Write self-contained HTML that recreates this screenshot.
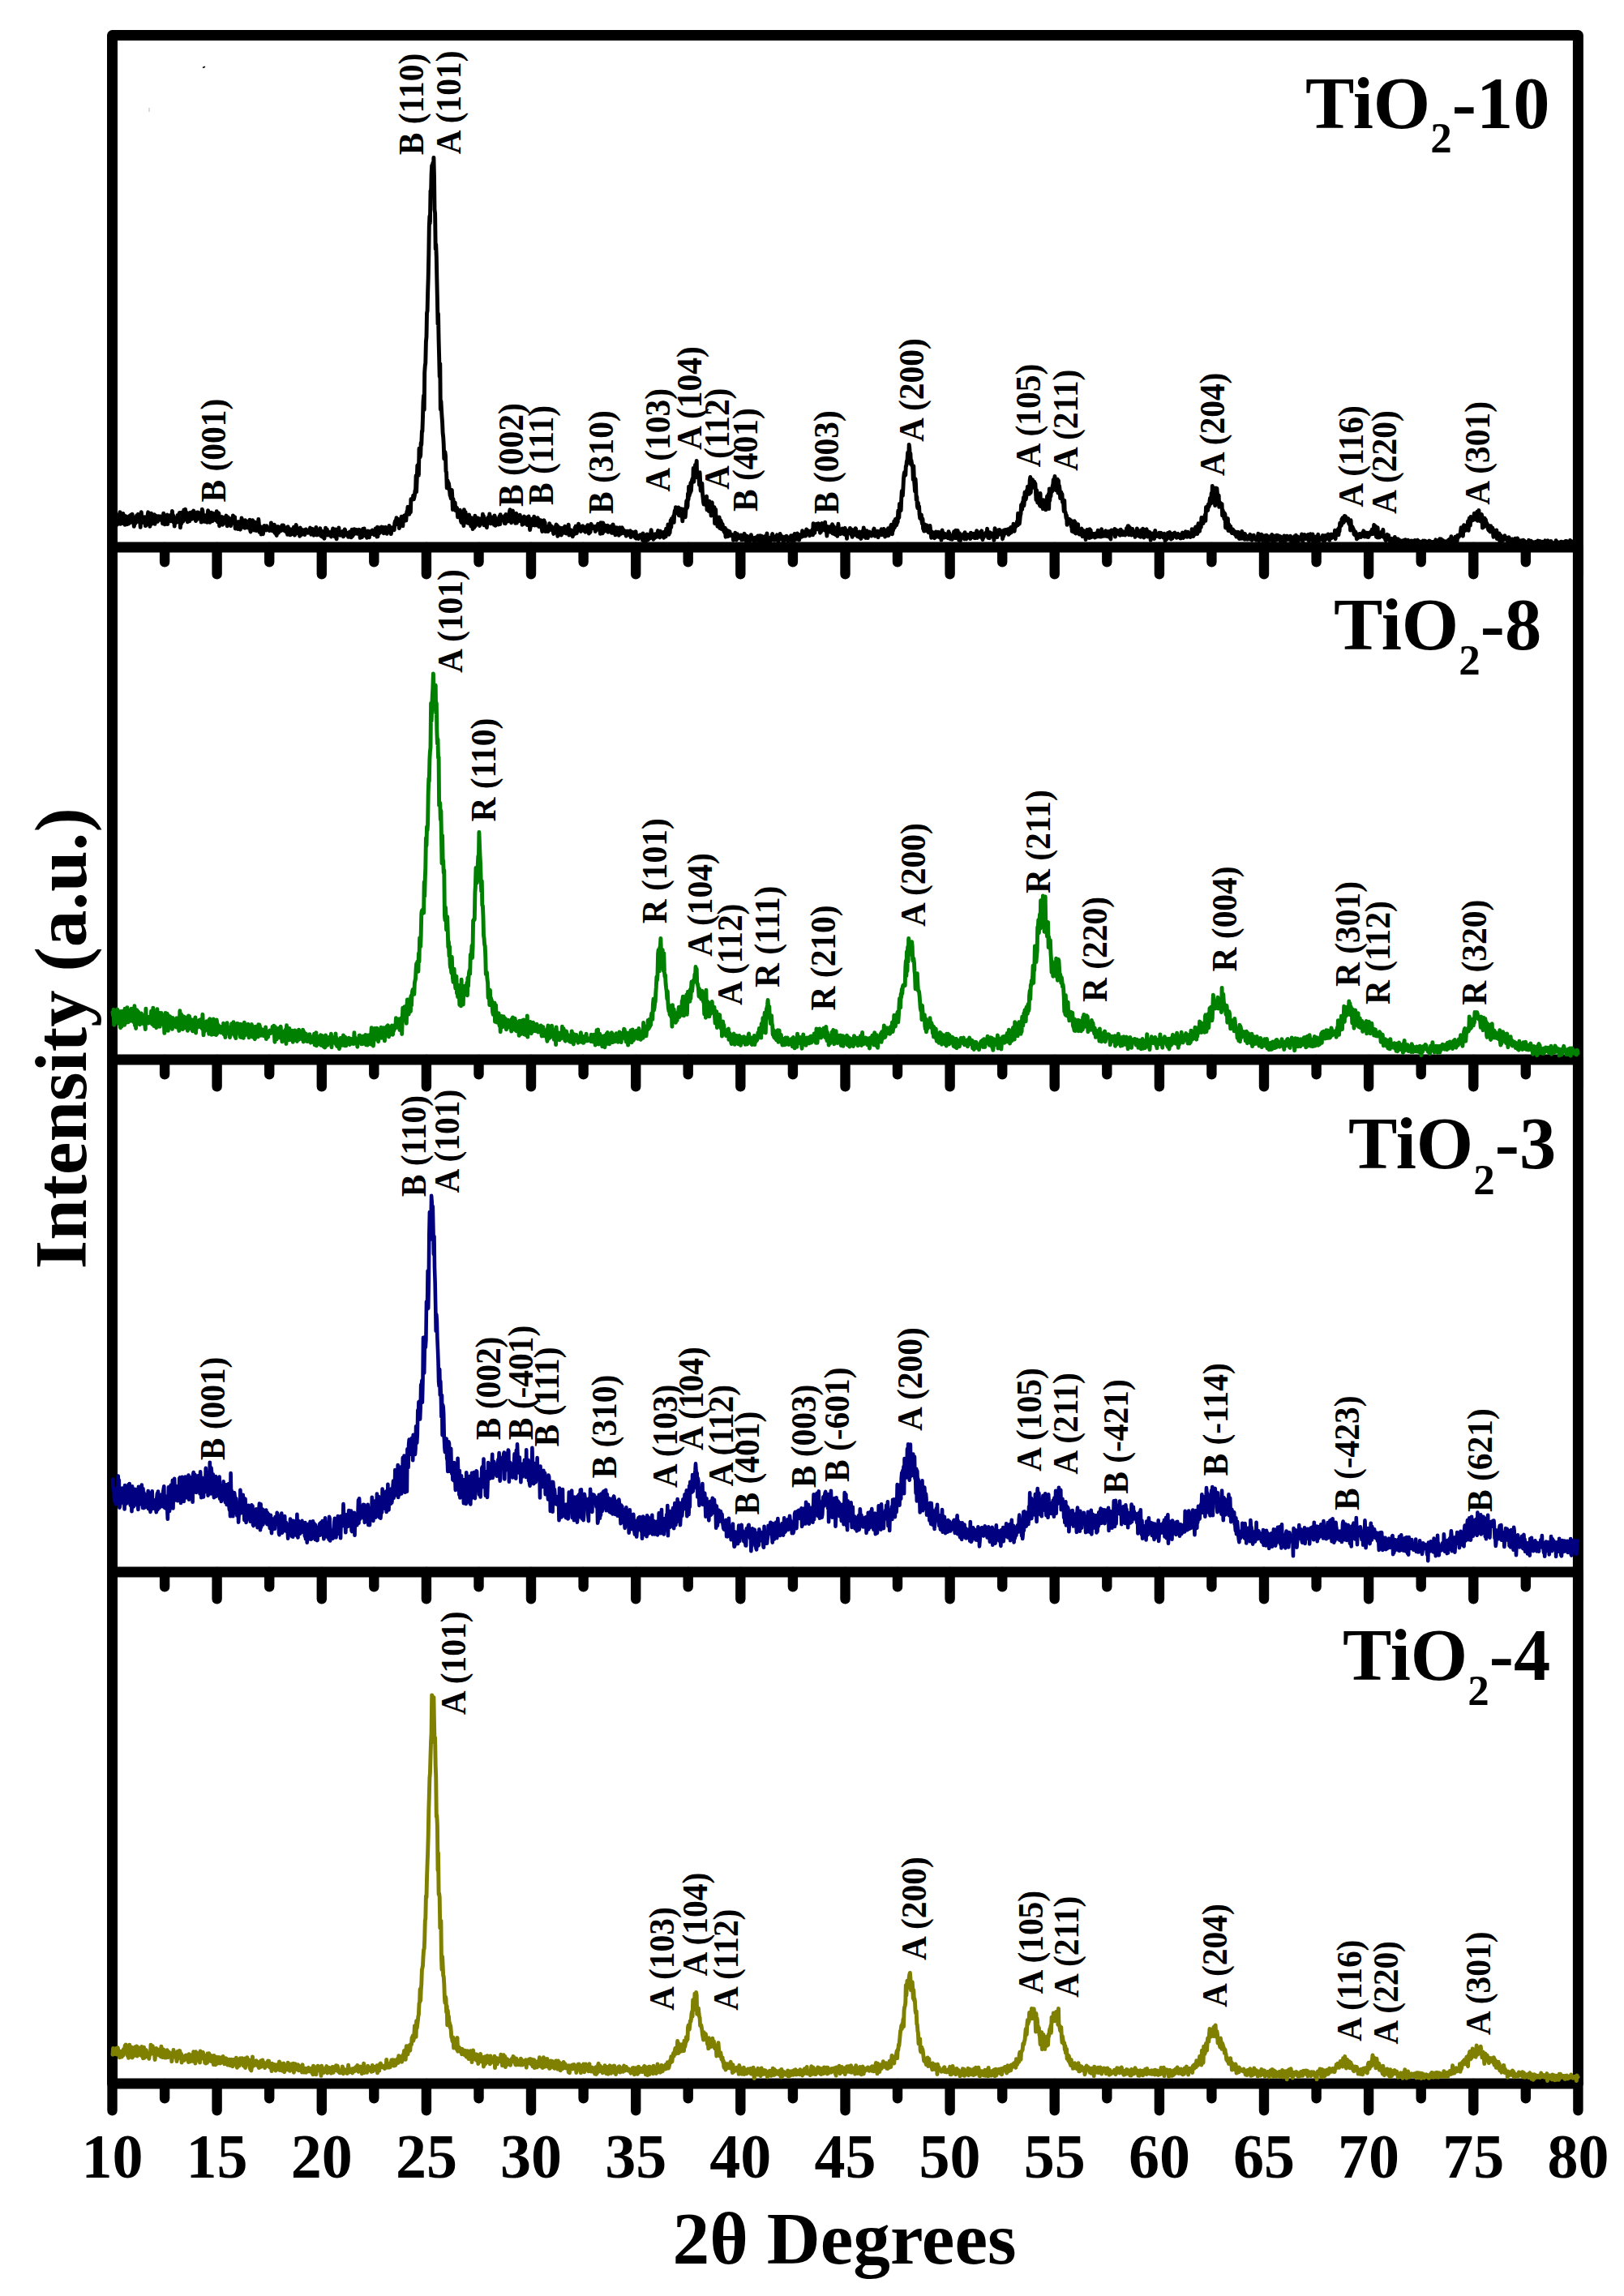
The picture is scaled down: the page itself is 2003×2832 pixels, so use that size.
<!DOCTYPE html>
<html lang="en">
<head>
<meta charset="utf-8">
<title>XRD patterns of TiO2 samples</title>
<style>
html,body{margin:0;padding:0;background:#fff;}
body{width:2003px;height:2832px;overflow:hidden;}
svg{display:block;}
text{font-family:"Liberation Serif", serif;font-weight:bold;fill:#000;}
.pk{font-size:44.5px;}
.tk{font-size:79.3px;text-anchor:middle;}
.ttl{font-size:90.5px;}
.sub{font-size:53px;}
.cv{fill:none;stroke-linejoin:round;stroke-linecap:round;}
</style>
</head>
<body>
<svg width="2003" height="2832" viewBox="0 0 2003 2832">
<rect x="0" y="0" width="2003" height="2832" fill="#fff"/>
<g stroke="#000" stroke-width="12.4" stroke-linecap="round" fill="none">
<path d="M138.5 675V708.3M203.1 675V693.3M267.6 675V708.3M332.2 675V693.3M396.8 675V708.3M461.3 675V693.3M525.9 675V708.3M590.5 675V693.3M655 675V708.3M719.6 675V693.3M784.2 675V708.3M848.7 675V693.3M913.3 675V708.3M977.9 675V693.3M1042.5 675V708.3M1107 675V693.3M1171.6 675V708.3M1236.2 675V693.3M1300.7 675V708.3M1365.3 675V693.3M1429.9 675V708.3M1494.4 675V693.3M1559 675V708.3M1623.6 675V693.3M1688.1 675V708.3M1752.7 675V693.3M1817.3 675V708.3M1881.8 675V693.3M1946.4 675V708.3"/>
<path d="M138.5 1307V1340.3M203.1 1307V1325.3M267.6 1307V1340.3M332.2 1307V1325.3M396.8 1307V1340.3M461.3 1307V1325.3M525.9 1307V1340.3M590.5 1307V1325.3M655 1307V1340.3M719.6 1307V1325.3M784.2 1307V1340.3M848.7 1307V1325.3M913.3 1307V1340.3M977.9 1307V1325.3M1042.5 1307V1340.3M1107 1307V1325.3M1171.6 1307V1340.3M1236.2 1307V1325.3M1300.7 1307V1340.3M1365.3 1307V1325.3M1429.9 1307V1340.3M1494.4 1307V1325.3M1559 1307V1340.3M1623.6 1307V1325.3M1688.1 1307V1340.3M1752.7 1307V1325.3M1817.3 1307V1340.3M1881.8 1307V1325.3M1946.4 1307V1340.3"/>
<path d="M138.5 1939V1972.3M203.1 1939V1957.3M267.6 1939V1972.3M332.2 1939V1957.3M396.8 1939V1972.3M461.3 1939V1957.3M525.9 1939V1972.3M590.5 1939V1957.3M655 1939V1972.3M719.6 1939V1957.3M784.2 1939V1972.3M848.7 1939V1957.3M913.3 1939V1972.3M977.9 1939V1957.3M1042.5 1939V1972.3M1107 1939V1957.3M1171.6 1939V1972.3M1236.2 1939V1957.3M1300.7 1939V1972.3M1365.3 1939V1957.3M1429.9 1939V1972.3M1494.4 1939V1957.3M1559 1939V1972.3M1623.6 1939V1957.3M1688.1 1939V1972.3M1752.7 1939V1957.3M1817.3 1939V1972.3M1881.8 1939V1957.3M1946.4 1939V1972.3"/>
<path d="M138.5 2570V2603.3M203.1 2570V2588.3M267.6 2570V2603.3M332.2 2570V2588.3M396.8 2570V2603.3M461.3 2570V2588.3M525.9 2570V2603.3M590.5 2570V2588.3M655 2570V2603.3M719.6 2570V2588.3M784.2 2570V2603.3M848.7 2570V2588.3M913.3 2570V2603.3M977.9 2570V2588.3M1042.5 2570V2603.3M1107 2570V2588.3M1171.6 2570V2603.3M1236.2 2570V2588.3M1300.7 2570V2603.3M1365.3 2570V2588.3M1429.9 2570V2603.3M1494.4 2570V2588.3M1559 2570V2603.3M1623.6 2570V2588.3M1688.1 2570V2603.3M1752.7 2570V2588.3M1817.3 2570V2603.3M1881.8 2570V2588.3M1946.4 2570V2603.3"/>
</g>
<g stroke="#000" stroke-width="13.0" fill="none" stroke-linejoin="round">
<rect x="138.5" y="43.5" width="1807.9" height="2526.5"/>
<line x1="138.5" y1="675.0" x2="1946.4" y2="675.0"/>
<line x1="138.5" y1="1307.0" x2="1946.4" y2="1307.0"/>
<line x1="138.5" y1="1939.0" x2="1946.4" y2="1939.0"/>
</g>
<path class="cv" stroke="#000000" stroke-width="4.9" d="M139 642.6l.6 .1l.5-1.7l.6-.2l.5-1.4l.6 3.6l.6-7.8l.5 11.1l.6-1.7l.5 2.8l.6-2.8l.6-1.3l.5 2.9l.6-.2l.5-11.4l.6 6.8l.6-9.8l.5 14.8l.6-7.4l.5-2.5l.6 7.1l.6 1.8l.5-4.6l.6-7.4l.5 7l.6-3.9l.6 6.4l.5 4.4l.6-10.5l.5 1.3l.6-1l.6 9.7l.5-3.6l.6-1l.5-4.8l.6 8.6l.6-2.1l.5-7.4l.6 5.3l.5 2.9l.6-9.6l.6 7.1l.5-.5l.6-7.6l.5 4.7l.6 .3l.6 4.4l.5 5.7l.6-2.9l.5-6.4l.6 5.7l.6-7.1l.5-1.6l.6-1.1l.5 7.4l.6-5.6l.6-3.3l.5 9.2l.6-1.3l.5 0l.6-1.1l.6 9.2l.5-13.1l.6-5.6l.5 8.2l.6 2.6l.6-4.1l.5 1.9l.6 .2l.5 4.3l.6-7l.6 5.1l.5 5.7l.6 0l.5-3.4l.6-4.3l.6-3l.5-1.9l.6-4.1l.5 11.2l.6-6.7l.6 8.5l.5 4.4l.6-7l.5 4.7l.6-13.8l.6 12.9l.5-2.6l.6-.2l.5-2.3l.6 .6l.6 .4l.5-7.3l.6 11.8l.5-5.9l.6 2.5l.6-6.6l.5 2.3l.6-.6l.5 5.2l.6-2.4l.6-4.2l.5 4.7l.6-3.4l.5 2.7l.6-3.7l.6-.1l.5 1.8l.6 3.4l.5-2.8l.6 6.6l.6-4.6l.5-8.1l.6 6.5l.5 2.2l.6 5l.6-9.1l.5 5.1l.6-4.9l.5-2.1l.6-.7l.6 11.4l.5-5.5l.6-.4l.5 .7l.6-1.9l.6-3.9l.5 1.9l.6 5.2l.5-1.5l.6 .6l.6-11.4l.5 7.7l.6-2.6l.5 8.6l.6-5.9l.6 10.8l.5-9.6l.6 .4l.5 3.8l.6-3.9l.6 4.7l.5-6.3l.6-2.7l.5 2.6l.6 1.7l.6-4.3l.5-2.8l.6-.2l.5 18.4l.6-7.4l.6 2.8l.5-13.9l.6 2.2l.5 2.9l.6 5.9l.6-5.2l.5-9.1l.6 7.9l.5 3l.6-11.6l.6 12.7l.5-1.1l.6-3.2l.5-4.2l.6 11.3l.6-6.6l.5 3.7l.6-5.9l.5 7.8l.6-8.1l.6-2.5l.5 2.2l.6 .7l.5 5.2l.6-2.3l.6 .6l.5-7.7l.6-.9l.5 8.6l.6-2.8l.6 4.6l.5-2.6l.6 4.8l.5-1.7l.6-3.9l.6-5.1l.5 8.3l.6-8.2l.5 5.7l.6-2.2l.6 .8l.5 1.6l.6-4.2l.5-.8l.6 11.1l.6-7.5l.5-8.3l.6 1.9l.5 6l.6 .8l.6 2.1l.5 4.4l.6-.2l.5-2.2l.6-5.3l.6 2.3l.5-.9l.6 7.1l.5-6.7l.6-7.7l.6 7.3l.5 1.4l.6-4.6l.5 10.5l.6-1.3l.6-5.9l.5-5.1l.6 8l.5-2l.6 4.6l.6-9.4l.5 4l.6 4l.5-5.9l.6 2.2l.6-1.7l.5 4.4l.6 1.6l.5-11.1l.6 7.4l.6 5.6l.5-.3l.6-10.7l.5 1.2l.6 14.7l.6-3.8l.5 .8l.6-7.4l.5 1.6l.6 .6l.6-2.9l.5 9.6l.6-1.7l.5-.4l.6-6.5l.6 2l.5 1.1l.6 3.5l.5-6.7l.6-2.4l.6 2.6l.5 10l.6-7.5l.5-3.2l.6 2.9l.6 0l.5 1.1l.6-2.3l.5 .8l.6 8.1l.6-2.8l.5-2.7l.6-2.5l.5 4l.6-8.6l.6 6.4l.5-.3l.6 3.8l.5-8.2l.6 14.3l.6-7.1l.5 2.7l.6-4l.5 6.6l.6-4.4l.6 6.7l.5-5.6l.6-3.3l.5 7.3l.6-1.6l.6 3.9l.5-8.1l.6 4.1l.5-10.2l.6 9.5l.6-1.6l.5 3.3l.6-5.3l.5-2.6l.6 5.4l.6 3.7l.5-9.8l.6 2.2l.5 2.9l.6 1l.6 2l.5-6.4l.6 7.7l.5-5.5l.6 0l.6 1.7l.5-6l.6 13.2l.5 1.5l.6-8.7l.6 1.4l.5 2.2l.6-9.1l.5 3.6l.6 7.9l.6 .6l.5-5.1l.6-4.7l.5 6.9l.6 .4l.6 3.2l.5-3.7l.6-.5l.5 .4l.6 .2l.6-10.4l.5 5.1l.6 10.7l.5-4.8l.6-2.2l.6 3.9l.5 5.8l.6-7.3l.5-.6l.6 1.2l.6 6.4l.5-4.6l.6-5.1l.5-.5l.6 2.8l.6-1.9l.5 3l.6 1.6l.5-5.2l.6 3.4l.6-1.8l.5 2.5l.6-.1l.5-1.2l.6 2.9l.6-2.3l.5 .6l.6-1.5l.5-6.4l.6 4.4l.6 5.3l.5-1.6l.6-1.2l.5 .8l.6 2.8l.6-8.3l.5 10.1l.6-3.7l.5-2l.6 7.5l.6 1.4l.5-7.8l.6 3.8l.5-7l.6 8l.6-7.3l.5 3.5l.6-3l.5 .1l.6 4.2l.6-1.5l.5-2.2l.6-3.2l.5 5l.6-.6l.6-4.4l.5 6.2l.6-3.1l.5 1l.6 2.8l.6-2.4l.5 3.8l.6-1.1l.5-4.7l.6 8.8l.6-9.6l.5 8.5l.6-1.6l.5-4.2l.6 2.2l.6 5.3l.5-3.4l.6-3.5l.5 4.2l.6-2l.6 0l.5 3.5l.6-3.5l.5-5.1l.6 5l.6 5l.5-9l.6 1.3l.5-5l.6 4.7l.6 5.7l.5-5.5l.6 3.2l.5-3l.6 4.6l.6-.5l.5 4.7l.6-10.4l.5 8l.6-2.3l.6-2.2l.5 4.8l.6-5.6l.5 .1l.6 1.7l.6 2.1l.5-1.1l.6 3.1l.5-5l.6-1.6l.6 .2l.5 .7l.6 1.5l.5 .3l.6 1.5l.6-.4l.5-1.2l.6-.8l.5-.7l.6-2.9l.6 6l.5 2.1l.6-1.1l.5-1.4l.6-4.2l.6 6.4l.5 .3l.6 1l.5-6.4l.6 2.6l.6 2.8l.5-5.5l.6-3.3l.5 6.7l.6 2.8l.6-2.9l.5 2.3l.6-1.1l.5 .9l.6-2.6l.6 2.8l.5-7.5l.6 8.7l.5 .6l.6-3.9l.6-2l.5 7l.6-5.7l.5 3.6l.6-2.5l.6 6.6l.5-3.9l.6-2l.5-7.1l.6 4.6l.6 1.3l.5-4.1l.6 3.4l.5 3.7l.6-4.3l.6 1.4l.5-.2l.6 .6l.5 .6l.6-1.1l.6 4.9l.5-1.8l.6-5.2l.5 3.6l.6-6.6l.6 3.9l.5 1.9l.6 1.1l.5 2.8l.6-2.8l.6-6l.5 9l.6 2.9l.5-9.2l.6 3.3l.6-.2l.5 .6l.6-8.4l.5 8.8l.6-2.4l.6 3l.5-4.4l.6 1.2l.5 1.2l.6-.1l.6-2.8l.5 1.1l.6 5.4l.5-2.1l.6-3.1l.6-3.7l.5 1.1l.6 4.5l.5 1.2l.6-1.4l.6-.1l.5-1.1l.6 1.2l.5 4l.6-5.1l.6 .9l.5-2.3l.6 6l.5-2.8l.6 3.7l.6-3.9l.5-5.8l.6 8.5l.5-5l.6 2.4l.6 .2l.5-6.5l.6 5.2l.5-1.8l.6 .7l.6-1.2l.5-2.1l.6 4.8l.5-.1l.6-.7l.6-.9l.5-.7l.6-2.6l.5 4.7l.6 5.4l.6-1.3l.5-8l.6-.1l.5 8.5l.6-8.7l.6-1.2l.5 2.2l.6 6l.5-8.8l.6 5.5l.6-1.2l.5 3.9l.6-2.8l.5 2.1l.6 3.8l.6-5.6l.5-2.7l.6 3.9l.5-2.2l.6 6.1l.6-4.3l.5-2.9l.6 .8l.5 .3l.6 1.9l.6-1.2l.5-3.5l.6 3.5l.5-1.3l.6 .6l.6 3l.5-.1l.6-3.8l.5-3.8l.6 7.7l.6-1.2l.5 3.6l.6-11.9l.5 11.5l.6-10.9l.6 7l.5 0l.6-1.5l.5 .4l.6-.1l.6-1.5l.5-5.1l.6 4.2l.5 1.5l.6-2.3l.6-3l.5 7.4l.6-1.5l.5-1l.6-4.1l.6-.8l.5 1.8l.6 2.9l.5 3.2l.6-4l.6 1.5l.5-.5l.6-3.4l.5-3.4l.6 1.4l.6 5.5l.5 .9l.6 2.3l.5-3l.6-2.3l.6-2.6l.5 .7l.6 .3l.5 1.9l.6 .1l.6-8.3l.5-2.1l.6-1.2l.5 .9l.6-4.3l.6 1.8l.5 6.2l.6-2.8l.5-3.5l.6 4.4l.6 6.8l.5-1.7l.6-4.9l.5-1.8l.6-2.4l.6-3.6l.5 4.2l.6-2.2l.5 9.5l.6-7.8l.6-3.5l.5-1.3l.6 1.7l.5-2.4l.6 4.4l.6 2.2l.5-6.1l.6-5l.5 1.1l.6-6.9l.6 1.1l.5 3.2l.6 4.9l.5-3.4l.6-4.6l.6 5.4l.5-16l.6 1l.5-.9l.6-.7l.6 .7l.5-4.7l.6 4.8l.5-1.9l.6-2.8l.6-6.2l.5 2.4l.6-20.6l.5 19.9l.6-15.7l.6-16.9l.5 1.9l.6-3.2l.5 13.4l.6-32.9l.6 4.1l.5 6.5l.6-2.5l.5-15.1l.6 2.1l.6-16.8l.5 .6l.6-17.5l.5-18.9l.6-7.8l.6 17.4l.5-46l.6-8.7l.5-2.8l.6-26.4l.6-6.2l.5-29l.6-2.9l.5-21.5l.6-18.7l.6-29.2l.5-34.2l.6-13.3l.5 8.4l.6-39.5l.6 1.8l.5-22l.6-11l.5 14.3l.6-17.3l.6 18.3l.5-25.1l.6 23.5l.5 40.8l.6 4.3l.6 44.1l.5-5.7l.6 15l.5 26l.6 26.2l.6 31l.5-12.6l.6 33l.5 18.9l.6 25.9l.6-16.2l.5 56.3l.6-10.2l.5 9l.6 9.9l.6 8.2l.5 12.1l.6 5.2l.5 8.3l.6 18.4l.6-4.4l.5-4l.6 4.6l.5 19.4l.6 1.2l.6 19.3l.5-9.9l.6 1.6l.5 9l.6-6.6l.6 4.2l.5 4.3l.6 6.7l.5-1l.6 4.7l.6-3.3l.5-7.1l.6 9.9l.5 14.2l.6-12.9l.6 8.6l.5-3.1l.6 4.7l.5-6l.6 9.6l.6-2.6l.5 1.7l.6-2.2l.5 3.8l.6 7.7l.6-7.8l.5 3l.6 2.8l.5-1.4l.6-5.3l.6 10.2l.5 3.4l.6 1.6l.5-4.2l.6-5.3l.6 6.7l.5 .7l.6 6.2l.5-19.8l.6 8.6l.6-2.9l.5-2.8l.6 12.1l.5 .5l.6-4.9l.6-1l.5 6.7l.6 .3l.5 .1l.6-10.5l.6 10.2l.5-2.5l.6-1l.5 7.2l.6-10.1l.6 .6l.5 6l.6 7.2l.5-5.8l.6-4l.6 8l.5-5l.6-9.6l.5 12.7l.6-4.7l.6-5.5l.5 2.2l.6-1l.5 .4l.6-1.1l.6 4.1l.5 3.6l.6 1.7l.5-1l.6-7.5l.6 2.5l.5-2.6l.6 3.1l.5 2.8l.6-11.5l.6 7l.5-4.8l.6 11.4l.5-6.8l.6 5.1l.6-4.4l.5-1.5l.6 .3l.5 10.1l.6-10.7l.6-.7l.5-1.4l.6 1.5l.5 5.9l.6-11.4l.6 6l.5 4.4l.6 1.4l.5-1.3l.6-5.5l.6-.9l.5 2.6l.6 .1l.5-1.8l.6 8.3l.6-11.2l.5 2l.6 10.4l.5-5.7l.6 3.4l.6-6.1l.5 .4l.6 4.3l.5-4.9l.6 7.2l.6-4.8l.5-5.5l.6 9.9l.5-11.9l.6 6.7l.6-3.5l.5-.5l.6 3.4l.5 .5l.6-.8l.6-.8l.5 3.3l.6 2.4l.5-9.4l.6 9.7l.6-11.2l.5 4.4l.6-3.4l.5 6.8l.6 .7l.6-4.6l.5 1.4l.6 3l.5-11.2l.6-2.9l.6 7.4l.5 1.4l.6 7.2l.5-9.9l.6 3.6l.6-8.5l.5 8.6l.6 2.6l.5 .9l.6-4.4l.6 4.9l.5 2.8l.6-10.2l.5-1.8l.6 11.8l.6-4.3l.5-2.1l.6-1.2l.5 4.8l.6-4.9l.6 2.8l.5-4.9l.6 7.4l.5-.3l.6-.8l.6-3.2l.5 9l.6-7.2l.5 6.4l.6-8l.6-1.5l.5 8.9l.6-5.7l.5-1.6l.6 1.5l.6-1.3l.5 3.4l.6 5.2l.5-9.5l.6 .7l.6-1.8l.5 4.1l.6 4.3l.5 8.3l.6-3.8l.6-8.7l.5-.8l.6 4.6l.5 .1l.6 2.7l.6-5.7l.5 .4l.6-5.2l.5 10.8l.6-8.1l.6 3.4l.5 2.3l.6 .9l.5-6.7l.6 8.3l.6-9.5l.5 9.9l.6-8.1l.5 9.1l.6-3.3l.6-.1l.5 2.4l.6-6.7l.5 6.7l.6 3.6l.6 3.4l.5-3.7l.6-2.9l.5-5.1l.6-2l.6 11.7l.5-9.4l.6 11.4l.5-.9l.6-2.7l.6-.9l.5 3l.6-2.7l.5 4.3l.6-6.5l.6 2.3l.5-5.6l.6 7.8l.5-1.3l.6-3.8l.6 4.6l.5-3.6l.6 .9l.5 1.3l.6 3.8l.6 2.9l.5-7.4l.6 .5l.5 3.4l.6-1.3l.6-5l.5-1.5l.6 .5l.5 7.2l.6 6.4l.6-11.7l.5 6.8l.6-4.3l.5 2.7l.6 2.4l.6-.7l.5-5.1l.6 8.7l.5-6.3l.6 2.5l.6-4.2l.5-.6l.6 5.8l.5-4.3l.6 3.4l.6-7.1l.5 5.6l.6-4.1l.5 7.4l.6-3.9l.6-2.2l.5 .4l.6-1.6l.5-3.6l.6 12.8l.6-7l.5 3.4l.6-1.7l.5 .7l.6-1.4l.6 5.8l.5-4.5l.6 6.5l.5-6.6l.6-.5l.6 0l.5 4.1l.6-7.8l.5 4.8l.6-6.9l.6 .4l.5 8.4l.6-4.1l.5-.8l.6 1.1l.6-7.7l.5 7.4l.6-.6l.5 .2l.6-1.5l.6 3.8l.5-2.2l.6-1.2l.5-3.2l.6-.1l.6 4.6l.5-3.8l.6 2.6l.5 2.8l.6-1.5l.6 2.7l.5-4.1l.6 2.4l.5-5l.6 4.7l.6-6.4l.5 0l.6 6.4l.5 3.9l.6-3.2l.6-.8l.5 2.3l.6-7.2l.5-2.9l.6 5.5l.6-1.7l.5 1.1l.6-.4l.5-.1l.6-1.5l.6 3.4l.5-1.1l.6 4.1l.5-5.8l.6 3l.6-4l.5 4.5l.6-4.3l.5-2.8l.6 3.6l.6-.9l.5-1.2l.6 5l.5 5.6l.6-13.6l.6 9.6l.5-3.3l.6 2.9l.5 4l.6-13l.6 11l.5-.4l.6-5.3l.5-2.3l.6 6.3l.6-3.5l.5 1l.6 2.1l.5 1.4l.6-7.1l.6 8.2l.5-1.8l.6-1.3l.5 1.5l.6-2.5l.6-2.7l.5-.3l.6 4.5l.5 3.6l.6-.3l.6 .2l.5-10.3l.6 2.9l.5 3l.6 4.6l.6-5.1l.5 7.5l.6-9.2l.5 1.6l.6 1.7l.6-3.1l.5 .9l.6 6.7l.5-5l.6 6.9l.6-8.2l.5-1.4l.6 2.7l.5-1.8l.6 6.7l.6-5.9l.5-1.6l.6 1.5l.5 1.3l.6 .8l.6-.4l.5 4l.6-.6l.5 .2l.6 .9l.6 2.6l.5-6l.6 .4l.5-.3l.6 4.4l.6-1.8l.5-1.8l.6 1.2l.5 2.7l.6-5.2l.6 7.9l.5-4.4l.6-1.3l.5 3.8l.6-4.3l.6 1.8l.5-.6l.6 .8l.5 3.6l.6-5.6l.6 7l.5-7.7l.6 8.5l.5-1l.6 .3l.6-2.9l.5 .5l.6 3.4l.5-2.6l.6 .4l.6 .4l.5-3l.6 2.3l.5-.1l.6-1.4l.6-.2l.5 6l.6-8.3l.5 1.3l.6 .5l.6 9.4l.5-6.6l.6 1.4l.5 4.8l.6-8.1l.6 2.8l.5-4.6l.6 2.8l.5 4.2l.6-4.1l.6-1.6l.5 .4l.6 3.6l.5-1.4l.6-5l.6-4.1l.5 4.5l.6 5.1l.5-1l.6-3.4l.6 6.3l.5-1.3l.6-2.4l.5 2l.6-4.8l.6 4l.5-1.9l.6-.8l.5-.7l.6-.4l.6-4.4l.5 7.5l.6-.2l.5 .3l.6 .8l.6-7.6l.5 4.5l.6-1.4l.5 3.1l.6-2.9l.6 1.8l.5 1.1l.6-5.1l.5 6.9l.6-6.3l.6-.5l.5-1.2l.6 6.5l.5-9.6l.6 3.3l.6 3.9l.5-.6l.6-11.8l.5 7.8l.6 4.5l.6-5.5l.5 3.6l.6-8.1l.5-7.4l.6 8.4l.6-10.7l.5 4.9l.6-.2l.5 0l.6-7.7l.6 7.7l.5-10.2l.6-4.2l.5 3.9l.6-8l.6 5.8l.5-.5l.6-1.1l.5-1.7l.6 .2l.6-2.6l.5 9.8l.6-4.3l.5-4.2l.6 3.9l.6 5.1l.5-.5l.6-7.9l.5 6l.6 9l.6-10.7l.5-3.9l.6 2.3l.5-.6l.6-1.2l.6 9.2l.5-5.4l.6-8.8l.5-6.1l.6 8.9l.6-2.1l.5-15.5l.6 7.1l.5-15.9l.6 11.4l.6-6.2l.5 2.8l.6-12.6l.5 10l.6-9.1l.6-4.5l.5-1.6l.6 2.8l.5-15.6l.6 16.7l.6-14.1l.5 4.5l.6-11.2l.5 12.9l.6-11l.6-6.9l.5 20.5l.6-6.2l.5 4.9l.6-.7l.6 1.8l.5 9.3l.6-15.2l.5 9.4l.6 13.2l.6-4l.5 2.4l.6-7.7l.5 12l.6 6l.6 5.4l.5 2.5l.6-4.4l.5-.6l.6-1.6l.6 .9l.5 6.7l.6-10.9l.5 16.8l.6-6.6l.6 3.8l.5 1.4l.6 3.1l.5-12.5l.6 6.6l.6-2.9l.5 5.8l.6 8.5l.5-8.2l.6-8.2l.6 9.3l.5-.9l.6 1.2l.5-1.6l.6-2.1l.6 20.1l.5-11.6l.6-5.7l.5 17.3l.6-3.1l.6-5.1l.5 11.7l.6-5.9l.5 .4l.6 5.8l.6-11.5l.5 13.5l.6-9.7l.5 .1l.6 1.5l.6 9.1l.5-2.1l.6-4.1l.5 4l.6 1.4l.6 3.6l.5 .3l.6 1.6l.5-5.9l.6 10.9l.6-6l.5 1.3l.6-3.5l.5 4.3l.6 3.4l.6-5.3l.5-1.3l.6 .8l.5-.2l.6 4.9l.6-.4l.5-1.2l.6 .3l.5 1l.6 0l.6 1.3l.5 4.6l.6-4.7l.5-1l.6 1l.6-4.4l.5 5.5l.6-1.7l.5 5.1l.6-2.9l.6-4.3l.5 3.8l.6 .3l.5 .8l.6-1.6l.6 .9l.5-1.2l.6-.8l.5-.8l.6 5.5l.6-2.2l.5-.7l.6 2.9l.5-2.4l.6-3.3l.6-1.8l.5 1.2l.6 3.9l.5-3l.6 7.1l.6-3.9l.5 .5l.6-2.5l.5 4l.6 1.3l.6-1l.5-3l.6 4.6l.5-5.4l.6 4.5l.6-6.7l.5 2.7l.6-.1l.5 1.3l.6 2.3l.6 .6l.5-1.1l.6 2.3l.5-2l.6-2.7l.6-.1l.5 1.4l.6 1.4l.5 .6l.6-2.5l.6-2.8l.5 2.2l.6-2.2l.5 .8l.6 7.3l.6-8.5l.5 2.1l.6 2l.5-3.7l.6 2.2l.6-1.5l.5 .4l.6 1.5l.5 5l.6-2.6l.6-2.6l.5-2.1l.6 7.1l.5-4.6l.6-1.4l.6-4.6l.5 9.3l.6-4l.5 6.7l.6-4.5l.6-1.6l.5-.2l.6 4.1l.5-2.1l.6-.3l.6 .8l.5-5.7l.6-1.8l.5 3.1l.6 2.6l.6 1l.5 .8l.6-2.1l.5 1.9l.6-.1l.6-4.1l.5-.8l.6-1l.5 4.6l.6-1.5l.6 5.2l.5-5.1l.6 2.1l.5-2.9l.6-3.8l.6 6.3l.5-1.1l.6-2.6l.5 2.8l.6 .7l.6-1.7l.5 7.6l.6-4.8l.5-3.5l.6 1.7l.6-.7l.5 2.7l.6-.2l.5-4.5l.6 .9l.6 1.4l.5 3.6l.6-.6l.5-3.1l.6-.2l.6-.5l.5 .1l.6 3.8l.5-6l.6 3.3l.6 .6l.5-3.5l.6-.5l.5 5.1l.6 4.4l.6-8.3l.5-3.3l.6 5l.5-1.1l.6-.4l.6-2.1l.5 5.5l.6-7.4l.5 5.6l.6-.1l.6-2.8l.5 5.5l.6-6.5l.5 .9l.6 1.4l.6 .1l.5 .3l.6-1.9l.5-5.8l.6 6.9l.6-1.7l.5-3l.6 4.2l.5-5.1l.6 5.1l.6 .1l.5-3.4l.6-4.7l.5 5.1l.6-.5l.6-2.2l.5-.3l.6 2.1l.5-2.1l.6 5.6l.6-4.2l.5 1.1l.6-2.6l.5 3.5l.6 .8l.6-6l.5 6.6l.6-14.1l.5 8.8l.6-1.1l.6 3.8l.5-7.5l.6 .9l.5-.3l.6-4.1l.6 2.7l.5 2.7l.6 1.1l.5-7.1l.6 .3l.6 5.7l.5-3.7l.6 9.2l.5-10.8l.6 9.4l.6-8.8l.5-1.5l.6 .7l.5 6.8l.6-2.1l.6-2.4l.5 3l.6 2.6l.5-10l.6 6.3l.6 2.9l.5-.3l.6 8l.5-11.5l.6 7.3l.6-5.2l.5-.2l.6 1l.5 1.2l.6-3.9l.6 6.5l.5-5.7l.6-1.9l.5 5.1l.6-6.9l.6 11.3l.5-9.4l.6 5.4l.5-3.9l.6 8.7l.6-5.5l.5-2.4l.6 8.9l.5-3.8l.6 2.3l.6 2.9l.5-5l.6-10l.5 4.9l.6 3.6l.6 2.8l.5-2.4l.6 3.5l.5-1.4l.6-1.9l.6-2.1l.5-1.3l.6 4l.5 2l.6 .4l.6 .5l.5-3.7l.6-3.9l.5 8.4l.6-5.5l.6 0l.5 10.1l.6-8.5l.5 .1l.6 .1l.6 1.8l.5-1.9l.6 1l.5-5.4l.6 3.3l.6-2.3l.5 7.4l.6-3.8l.5 6.1l.6-3.2l.6-.8l.5-4.5l.6 4.4l.5-.3l.6 1.8l.6-7.9l.5 .7l.6 7.6l.5-1.2l.6 2.7l.6-3.4l.5 1.8l.6 2.3l.5-3.2l.6-3.1l.6 6l.5 .3l.6 2.2l.5-7.6l.6 3l.6 .4l.5-5.2l.6 4.9l.5-8.9l.6 3.5l.6 7.9l.5-7.9l.6 7l.5 1.9l.6-3l.6-5.7l.5 1.8l.6 7.1l.5-3.6l.6-1.3l.6-2.5l.5-.1l.6 3.7l.5 .2l.6-2.5l.6 3.6l.5-2.1l.6 .7l.5-.1l.6-3.3l.6-3.3l.5-.9l.6 5.4l.5 3.7l.6-.6l.6-1.9l.5 .3l.6-.3l.5-3.4l.6 0l.6 7.4l.5-5.9l.6 3.1l.5-1.9l.6 .9l.6-.9l.5-3.3l.6-1.9l.5 7.1l.6-3.6l.6 1.8l.5-3.9l.6-1.8l.5 5.8l.6-2.3l.6 6.1l.5-6.9l.6-.9l.5 3.7l.6-2.2l.6 3.5l.5 1.3l.6-8.8l.5 8.8l.6-5.8l.6 3.3l.5-3.5l.6-2.2l.5-3.9l.6-1.2l.6 5.6l.5 5.9l.6-6l.5 1.4l.6-3.6l.6-7.5l.5 7.7l.6-2l.5-8.2l.6 .2l.6 7l.5-1.7l.6-7.3l.5 5.1l.6-13.8l.6 9.1l.5-1.3l.6-16.4l.5 2.4l.6 4.6l.6 1.1l.5-13.3l.6-10.4l.5 1.3l.6 4.2l.6-10.1l.5-10.8l.6-5.6l.5-2.3l.6 3.9l.6-.6l.5-10.6l.6-.9l.5-5.6l.6-.6l.6-9.8l.5 12.6l.6-1.8l.5-20.7l.6 4.4l.6 14.3l.5-7.9l.6 13.4l.5-4.8l.6 4.6l.6 2.7l.5-.5l.6 17l.5-17l.6 16.8l.6 6.9l.5 7.5l.6-14.9l.5 7.4l.6 18.3l.6-4l.5 11.4l.6 2.6l.5-6.4l.6 5.6l.6-1.2l.5 9.7l.6 5l.5-3.2l.6 3.9l.6-5.1l.5 8l.6 3.1l.5-6l.6 12l.6 1.4l.5 1.7l.6-8.3l.5 3.1l.6 2.3l.6-4.4l.5 7l.6-6.9l.5 2.4l.6 3.5l.6-1.8l.5 4.7l.6-2.5l.5 1.6l.6-7.4l.6 5.2l.5 4.1l.6 5.5l.5-4.1l.6-2.9l.6 1.9l.5 1.5l.6 2l.5-3l.6 5.2l.6-2.9l.5-2l.6-3l.5 6.3l.6-3.8l.6-1.5l.5 .3l.6-1l.5 3.4l.6 2.8l.6-3.7l.5 3.4l.6 .8l.5 .6l.6 2.6l.6-10.8l.5-1.2l.6 8.7l.5-5.8l.6 2.7l.6 3.4l.5-1.9l.6-2.8l.5 4.3l.6-3.7l.6 3.4l.5-1.5l.6-.7l.5-.7l.6 4.3l.6-8l.5 4.8l.6-3l.5 6.2l.6 1l.6-2.4l.5-1.7l.6 3.1l.5 1.4l.6-3.5l.6-.4l.5-1.3l.6-4.4l.5 2.5l.6 5.5l.6-2.4l.5-6.9l.6 9.2l.5-4.7l.6 .8l.6-5.1l.5 9.7l.6-4.8l.5 6.9l.6-8.7l.6 5.1l.5 4l.6-6.8l.5 2.4l.6 .2l.6-.7l.5 1.4l.6-.7l.5-3.7l.6 4.4l.6 1.6l.5-8.1l.6 4l.5 1.5l.6 2.6l.6-5.4l.5 4.1l.6-2.9l.5-1.1l.6 .7l.6 1.8l.5 1.5l.6-3.8l.5 4.8l.6-7.3l.6 3.7l.5 1.9l.6-2.7l.5 .9l.6-.1l.6-2.6l.5 3.3l.6 2l.5-2.6l.6 2.7l.6-6.2l.5 1.4l.6-4.3l.5 8.9l.6-2.9l.6 1.1l.5-3.3l.6 1.2l.5 1.3l.6-4.1l.6 5.5l.5-3.3l.6-1.5l.5-2.7l.6 7.7l.6 3.1l.5-6.8l.6 4.4l.5-1.3l.6-1.9l.6-.9l.5 1.3l.6-3.1l.5-.8l.6 1.4l.6-5.6l.5 4.8l.6 6.2l.5-5.7l.6-1.1l.6 7.3l.5-7l.6 4l.5 1.2l.6-1.3l.6-2.8l.5 2.7l.6-2l.5 1.2l.6 .9l.6 5.7l.5-6.4l.6-8.3l.5 6.4l.6-4l.6 6.3l.5-5.1l.6 7.3l.5-8.3l.6 5.4l.6-4.4l.5-1.5l.6-.3l.5 5.6l.6-.6l.6-3.8l.5 4.3l.6-1.5l.5 1.3l.6 5.9l.6-9.7l.5 6.6l.6-7.6l.5 4.8l.6-3.2l.6-2.2l.5 1.7l.6-1.7l.5 4l.6-3.9l.6 1.4l.5-2.2l.6 6.7l.5-5.3l.6 2.5l.6 1.2l.5-6.4l.6-.9l.5 6.3l.6-2.3l.6-3.1l.5 3.5l.6-.7l.5-8.1l.6 1.8l.6 7.3l.5-5.7l.6 .8l.5-.6l.6-2.2l.6 .2l.5-4.6l.6 4.8l.5-14.6l.6 3.6l.6 7.7l.5 1.6l.6-5l.5-5.5l.6-1.5l.6-11.5l.5 4.1l.6 1.6l.5-8.6l.6 3.2l.6-9.2l.5 10l.6-6.4l.5-10.1l.6 7.5l.6 1l.5-2.4l.6-8.3l.5 5.3l.6-10l.6-.4l.5 .8l.6 .6l.5 7.8l.6-17.1l.6-3.6l.5 19.1l.6-12.5l.5-3.5l.6 4.6l.6-4.6l.5 8.5l.6 .5l.5 .7l.6-7l.6 5.4l.5-3.4l.6 10.9l.5 9.4l.6-12l.6 4.4l.5 10.9l.6-4.2l.5 4.8l.6-9l.6 2.1l.5 10l.6-15.1l.5 16.1l.6-7.1l.6 5.6l.5-1.7l.6 1.9l.5 4.3l.6-11l.6 2.9l.5 5l.6-2l.5-4.2l.6 10.6l.6-11.3l.5 4.5l.6-10l.5 2.3l.6-1.6l.6-3.2l.5 18l.6-24.7l.5 14.4l.6-9.7l.6 4.4l.5-8.2l.6 2.9l.5-.4l.6-6.9l.6-1.8l.5-5.9l.6-.6l.5 2.8l.6-6.5l.6 10.3l.5 6.9l.6-13.5l.5 9.5l.6 1.4l.6-10.9l.5 16.9l.6-15.1l.5 8.9l.6-2.5l.6 5.5l.5 9.7l.6-.7l.5-6.9l.6 7.3l.6-4.8l.5 10.1l.6-.5l.5 1l.6 10.6l.6-13.5l.5 14.3l.6 .1l.5 1.7l.6 5.8l.6-3l.5 11.3l.6-7.7l.5 3.7l.6-.8l.6-2.4l.5 .4l.6 2.5l.5 1l.6-2.3l.6 7.6l.5-2.1l.6 8.1l.5-.9l.6-1l.6-7.6l.5 10.5l.6-13.5l.5 6.1l.6-4.8l.6 13.9l.5-7.1l.6 6l.5-2.5l.6-3.6l.6-4.1l.5 10.2l.6-.2l.5 2.2l.6-2.6l.6-3.3l.5 6.2l.6-6.4l.5-.6l.6 2.3l.6 7.2l.5-6.2l.6 3.3l.5-4.1l.6 2.1l.6-1.7l.5 3.5l.6 6.9l.5-6.6l.6-2.7l.6-2.8l.5 3.1l.6 3.8l.5 .8l.6-.6l.6 2.9l.5-10.6l.6 10.4l.5-9.2l.6 8.7l.6-2.4l.5-2.5l.6 2.4l.5-.3l.6 2.2l.6-3.6l.5 3.7l.6 .8l.5-1.2l.6-3.9l.6 3.1l.5 1.1l.6-4.6l.5 1.7l.6-4.9l.6 5.2l.5 2.3l.6-2.8l.5-3.9l.6 5.5l.6 1.5l.5 0l.6-9.3l.5 8.3l.6-3.7l.6 4l.5-3.9l.6 3.7l.5-1.6l.6-1.8l.6-1.3l.5-1.7l.6 6.5l.5-6.1l.6 4.3l.6 2.1l.5-4.4l.6 0l.5 0l.6 5.2l.6-7.3l.5 5.2l.6 4.7l.5-6.5l.6-4.5l.6 4.1l.5-.3l.6 .4l.5-2.3l.6 2.5l.6-.1l.5-5.9l.6 9.7l.5-8.3l.6 3.9l.6-3.9l.5 4.7l.6-.7l.5-2.3l.6 .8l.6 .2l.5 3.1l.6-5.3l.5 6.1l.6-7.2l.6 4.8l.5-3.6l.6 5.1l.5-4.4l.6 4.6l.6-1.3l.5-2.1l.6 2.3l.5-.3l.6 1.7l.6-4.5l.5 1.4l.6-5.1l.5 5.9l.6-5.8l.6-3.3l.5 0l.6 11.1l.5-3.5l.6-5.7l.6 7.6l.5 .2l.6-1.8l.5 3.6l.6-3.2l.6-4.4l.5 2.5l.6 3.2l.5 .1l.6 1.9l.6-2.1l.5 4.3l.6-6.6l.5 4.4l.6-1.3l.6-6.9l.5 7.4l.6-5.8l.5 3.2l.6 4.4l.6-2l.5-2.9l.6 1.8l.5 4.1l.6-4.6l.6-3.8l.5 4.1l.6-1.2l.5-4.5l.6 9.9l.6 .9l.5-1.3l.6-1.4l.5-1.7l.6-5.2l.6-.2l.5-.4l.6 5.9l.5 3.3l.6-6.6l.6 2.4l.5-1.8l.6 3.2l.5-2.7l.6 3.4l.6 6.4l.5-7.1l.6 4.7l.5-4.8l.6-1.1l.6 2.2l.5 1.2l.6-1l.5 4.1l.6-5.3l.6-4.8l.5 6l.6-.6l.5 1.8l.6-.9l.6-1.8l.5 .3l.6-.7l.5 2.1l.6-3.4l.6 5.6l.5-2.8l.6-1.3l.5-1.5l.6 2.5l.6 .6l.5-.3l.6 .4l.5 2.6l.6-.1l.6-4.6l.5 .4l.6 8.4l.5-6.9l.6 1.1l.6 4l.5-5.1l.6 2.9l.5-5.7l.6 5.1l.6-3.3l.5 4.2l.6-6.9l.5 6.8l.6-3.4l.6 5.1l.5-5.5l.6-.9l.5 5.5l.6-5.7l.6 1.6l.5 1.9l.6-4.5l.5-.3l.6 3.9l.6-1.8l.5 2.8l.6 1.2l.5-.7l.6-3.8l.6-.4l.5 1.4l.6 .3l.5 2.8l.6-1l.6-1l.5 3.3l.6-5l.5 1.5l.6-1.5l.6-2l.5 4.6l.6 1.8l.5-1.1l.6-3.1l.6 .3l.5 1.2l.6-5.2l.5 1.1l.6 4.7l.6 .9l.5-.1l.6-6.1l.5 2.1l.6 .5l.6 2.1l.5-.6l.6 .5l.5 1.8l.6-4.7l.6 3.3l.5-8.3l.6 1l.5 4.2l.6 3.6l.6-3.6l.5-1.6l.6 3l.5-7.3l.6-2l.6 2.9l.5-.3l.6 .7l.5 5.1l.6-8.4l.6-4.3l.5 2.4l.6-.4l.5 7.4l.6-7.6l.6 2.6l.5 .1l.6-11.8l.5 5.1l.6-4.1l.6 5.5l.5 .4l.6-7.1l.5 2.9l.6-2.9l.6-3.4l.5 7.4l.6-16.6l.5 4l.6-4.8l.6 4.3l.5 .2l.6-7.2l.5 3l.6-.8l.6-6.6l.5-3.4l.6 7l.5-3.8l.6-9.1l.6 11.8l.5-20.9l.6 13.5l.5 3.8l.6-10.2l.6-3.9l.5 6.4l.6 14.6l.5-21.6l.6 9.9l.6-7.5l.5-2.1l.6 7.1l.5 3.4l.6 .4l.6-2l.5 14.2l.6-6l.5 .6l.6 4l.6-2.1l.5 1.8l.6-2.2l.5 14.4l.6-6.4l.6 2.9l.5 .6l.6 6.9l.5-6.9l.6 1.6l.6 16.4l.5-7.2l.6 1.5l.5-1.4l.6-1.3l.6-3l.5 14.9l.6-5.7l.5-1.6l.6 7.7l.6-2.8l.5-3l.6 4.9l.5 1.5l.6 2.1l.6-1.5l.5-3.3l.6 1.3l.5 2.1l.6 2.1l.6 .2l.5 .9l.6-3.6l.5 4.8l.6 1.3l.6-1.3l.5-.8l.6-2.5l.5-.9l.6 4.1l.6 4l.5-5l.6 4.7l.5-.5l.6 .5l.6-3.5l.5-5.2l.6 1.5l.5 7l.6-1.8l.6 .3l.5 2l.6 .7l.5-6.8l.6 6.7l.6-3.3l.5 1.3l.6-1.8l.5 3.9l.6-3.7l.6 2.2l.5-2.3l.6 3.5l.5-3.9l.6-1.8l.6 5.2l.5-4.2l.6 5l.5 1l.6-5.1l.6 .6l.5-.5l.6-1l.5 2.9l.6 1.8l.6 .3l.5-2.2l.6 0l.5 3.4l.6-2.4l.6 .1l.5-.8l.6-5.1l.5 7l.6 1.6l.6-4.7l.5 4l.6-1l.5-2.4l.6-3.6l.6 1.6l.5 1l.6 2.9l.5 3.4l.6-7.1l.6 4.8l.5-4.7l.6-.1l.5 5.9l.6 0l.6-6.7l.5 3.7l.6 2.8l.5-2l.6 2.4l.6-5.2l.5 1.3l.6 3.2l.5-1.7l.6 .9l.6-1.6l.5-2.3l.6-2.2l.5 3l.6 5.9l.6-.3l.5-1.5l.6-5.6l.5 6.1l.6-3.1l.6 1.8l.5-3.3l.6 3.8l.5-6l.6 5l.6-4.8l.5 4.6l.6-4l.5 2.1l.6 .4l.6 3.4l.5-5.2l.6 5.4l.5-3.8l.6 3.3l.6-1.4l.5 2.2l.6-1.9l.5-2l.6-2.6l.6 1.9l.5 4.8l.6-2.6l.5-1.1l.6-2.6l.6 0l.5-.1l.6 1.8l.5 2.4l.6-.7l.6-2.3l.5 .5l.6 2.1l.5-3.9l.6 6l.6-1.7l.5-2.6l.6 2.5l.5 1.3l.6 .5l.6-.5l.5-2.2l.6-2.9l.5 1.8l.6 5.4l.6-8.4l.5 1.5l.6 .4l.5 1.9l.6-2.3l.6 5.2l.5-.2l.6-2.7l.5 .3l.6 1l.6-2.9l.5 .8l.6-.5l.5-3.9l.6 5.2l.6 4.1l.5-5.3l.6 .2l.5 1l.6-4.6l.6 3.7l.5-1.8l.6 3.3l.5-4.2l.6 .4l.6 2.3l.5 1.8l.6-5.5l.5 7.2l.6-3l.6 2.9l.5-3.2l.6-4.8l.5 6.7l.6-1.4l.6 1.7l.5-.7l.6-6l.5 9.8l.6-4.9l.6 1.9l.5-.4l.6-1.3l.5 4.6l.6-6.6l.6 0l.5 5.7l.6-4.1l.5 3.8l.6-8.1l.6 8.4l.5-1.1l.6-1.8l.5-1.5l.6 1.6l.6-1.9l.5 .1l.6 2.4l.5-1.2l.6-3.9l.6 .7l.5 6.3l.6-3l.5 3l.6-3.7l.6-3.1l.5 1.6l.6 2.6l.5-.7l.6-3.1l.6 1.1l.5-3.2l.6 1.4l.5 1.6l.6 4.5l.6-6.4l.5 3.7l.6-2.8l.5-1.8l.6 4.4l.6-2.4l.5-.7l.6 .2l.5-1l.6-1.4l.6 1.8l.5-5.8l.6 10.5l.5-4.9l.6-2.6l.6-1l.5 2.2l.6-4.9l.5-.8l.6 7.1l.6-8.7l.5 4.2l.6-10.1l.5 3.5l.6-1.4l.6 .9l.5-7.7l.6 5l.5-6.7l.6 4.3l.6 1.4l.5-5.5l.6-2.5l.5 5.4l.6-5.3l.6 5.4l.5-.3l.6-1.5l.5 .3l.6 .9l.6-1.8l.5 3.9l.6 2.8l.5-.1l.6-4l.6 11.9l.5-12.3l.6 10.2l.5-.4l.6-2.1l.6 1.1l.5 1.9l.6 .5l.5 5.8l.6 .8l.6-2.5l.5-1.3l.6 1.2l.5 2.5l.6 5.2l.6-3.4l.5 0l.6 2.3l.5-1.1l.6-2.2l.6-1.9l.5 1.6l.6-.6l.5 3.2l.6-.6l.6-1.8l.5 .3l.6-3.5l.5 1.3l.6-3.5l.6 6.2l.5 .9l.6-4.3l.5-.9l.6 4.5l.6 .7l.5-2.4l.6-1.8l.5-.4l.6 5.2l.6-.2l.5-4.7l.6-.1l.5-.5l.6 2.3l.6-3.7l.5 3l.6-.9l.5-4.8l.6 2.1l.6 3.5l.5-1.6l.6-9.5l.5 8.3l.6 1.1l.6-7.8l.5 1.8l.6 11.2l.5-5.4l.6 6.2l.6-12l.5 12.3l.6-5.4l.5 4.4l.6 .6l.6-3l.5-2.6l.6 1.8l.5-2.5l.6 5.2l.6-4.5l.5-1.1l.6-2.7l.5 8.2l.6 1.2l.6 .3l.5-.3l.6 3l.5 1l.6-3.6l.6-2.5l.5-1.3l.6 4l.5 1.6l.6-4.8l.6 6l.5 .5l.6 .6l.5 .2l.6-2.7l.6 1l.5-1.4l.6 5.2l.5-1.5l.6-2.1l.6 .5l.5 .6l.6 1.8l.5-6.3l.6 4l.6 3.7l.5-.4l.6-5l.5 3.7l.6 .6l.6-4.3l.5 .7l.6 4.6l.5-.8l.6 1.9l.6-4.5l.5 5.2l.6-4.6l.5 2l.6 1.5l.6-2.7l.5-1.2l.6 3.1l.5-.9l.6-2.8l.6 4.8l.5-5.3l.6 3.1l.5-1.9l.6-.1l.6 1.1l.5 1.6l.6-3.4l.5 2.5l.6 3.7l.6-2.4l.5 .2l.6-1.9l.5-.9l.6 1l.6-1.4l.5 .6l.6 .3l.5-.3l.6 3.9l.6-1l.5-.4l.6-3.6l.5 3.3l.6-2.8l.6 1.3l.5 .5l.6-.7l.5-1.9l.6 1l.6 3.6l.5-1.1l.6-.7l.5-1l.6 1.4l.6 .2l.5-.9l.6 1.1l.5-.4l.6-1.3l.6-1l.5 .3l.6 1.3l.5-.7l.6-.8l.6 3l.5-1l.6 2.3l.5-3.6l.6 3.2l.6-1l.5 .9l.6-1.3l.5 .8l.6-3.4l.6 .4l.5 .9l.6 1.2l.5 .9l.6-2.2l.6 3l.5-.6l.6-2.3l.5 5.4l.6-3.3l.6-2.1l.5 2.2l.6-2.3l.5-2.5l.6 4.7l.6-2.5l.5-.6l.6 2.4l.5-3l.6 3.7l.6-.6l.5 .4l.6-5.7l.5 2.6l.6-1.8l.6-.4l.5 5.1l.6 1.1l.5-2.5l.6-2l.6 .5l.5 2.3l.6 1.1l.5-1.7l.6-.8l.6-.3l.5 .3l.6 1.1l.5-.2l.6 .5l.6-2.7l.5-.7l.6-.2l.5-.5l.6-.4l.6-.3l.5 3.5l.6-6.4l.5 3.8l.6 6.9l.6-3.2l.5-4l.6 1.9l.5-1.4l.6-1l.6 4.9l.5-7.4l.6 1.6l.5 .3l.6-2.1l.6 5.5l.5-7.1l.6 3l.5-1.5l.6-2l.6 1.4l.5-2.2l.6 .6l.5-4.7l.6-4.5l.6 8.1l.5-4.3l.6 3.9l.5 2.9l.6-8.6l.6-4.9l.5 2.3l.6 4.5l.5-.1l.6-5.6l.6 1.2l.5-2.3l.6-.2l.5 2.4l.6-7l.6 11.5l.5-7.8l.6-7.3l.5 2.1l.6 6.6l.6-10.5l.5 3.9l.6 .8l.5-1.8l.6 1.2l.6-1.2l.5 1l.6-3.6l.5-4.5l.6 7.6l.6-4.6l.5-1.4l.6 .4l.5-2.3l.6-1.6l.6 10.9l.5-8l.6 4.6l.5-9.4l.6 12.9l.6-2.4l.5 .5l.6 2.5l.5-3.7l.6-4.9l.6 4.4l.5 12.3l.6-12.7l.5 2.1l.6 9.4l.6-4.3l.5-6.3l.6 9.5l.5-7.8l.6 3l.6 4.7l.5-3l.6 2.7l.5 3l.6 2.2l.6-5.1l.5 2l.6 4.9l.5 .4l.6-7.2l.6 5l.5 1.7l.6-3.2l.5-1.1l.6 5.2l.6 6.1l.5-3l.6-4.2l.5-.7l.6 2.5l.6-.2l.5 1.5l.6-4.2l.5 10.6l.6-4.8l.6 .1l.5 4.8l.6-3.9l.5-2.8l.6 9.5l.6-7.4l.5 .2l.6 .9l.5 1.8l.6 3.7l.6-.4l.5 .2l.6-4.3l.5 2.7l.6-.1l.6-4.2l.5 3l.6 1.5l.5-1.9l.6 .6l.6 2.6l.5-2.6l.6 6l.5-2.8l.6-4.4l.6 1.7l.5 5.7l.6-2.1l.5-2.2l.6 3.9l.6-2.2l.5-2.4l.6 0l.5 1.2l.6-.7l.6 5.7l.5-1.2l.6-4.1l.5-1.7l.6 3.2l.6 .1l.5 .5l.6 1l.5-5l.6 3l.6-1.1l.5 3.1l.6-.7l.5-.1l.6 1.1l.6-.7l.5-1.9l.6 0l.5 .8l.6 2l.6-.9l.5-2.4l.6 6.9l.5-6.1l.6 1.7l.6 .1l.5 3.3l.6-2.4l.5 0l.6-1.2l.6 .3l.5-.4l.6 1.2l.5-3.3l.6 2.9l.6-.9l.5 2.5l.6-2.4l.5-1.2l.6 1.5l.6 1.4l.5 .5l.6-.4l.5-1.3l.6 2l.6 .1l.5-2.4l.6 .1l.5-.4l.6 .5l.6 1.6l.5-.3l.6 1l.5-4.2l.6 5.4l.6-.5l.5-3.6l.6-.8l.5 .2l.6 3.3l.6-1.8l.5 .8l.6-.8l.5-.9l.6 2.2l.6 1l.5-.2l.6-1l.5-.3l.6-3.1l.6 2.2l.5 .8l.6 .1l.5 1.3l.6-.8l.6-3.6l.5 1.7l.6 4.1l.5-3.5l.6-.4l.6 2l.5-2.2l.6-.9l.5 1.9l.6 2.9l.6-3l.5 .4l.6 2.2l.5-1.3l.6-.9l.6 2.4l.5-3.3l.6 2.9l.5-5l.6 2.2l.6-.8l.5 .9l.6 1.9l.5 .8l.6 .1l.6-1.2l.5-1.7l.6 1.7l.5-.5l.6-2l.6 .9l.5 2.2l.6-2.1l.5 .7l.6-1.4l.6 2l.5 2.5l.6-2.1l.5-.1l.6-3.3l.6 4.1l.5-4.2l.6 2.5l.5 2.1l.6 1l.6-1.3l.5-2.4l.6 .9l.5 1.2l.6-5l.6 1.1l.5 2.1l.6 1.1l.5-1.9l.6-.7l.6 1.5l.5 1.8l.6-2.6l.5 1.6l.6 .7l.6 .6l.5-.2l.6-2.7l.5 .2l.6 4.6l.6-4.4l.5 2.6"/>
<path class="cv" stroke="#008000" stroke-width="4.9" d="M139 1248.5l.6 4.5l.5-7.7l.6 18.9l.5-14.3l.6 3.5l.6-5.6l.5 7l.6-7.5l.5 6.3l.6-8.7l.6 13.4l.5 3.9l.6-8.1l.5-4.2l.6-2.2l.6 7l.5 13l.6-6.5l.5-13.8l.6 18.6l.6-13.2l.5 4.8l.6 2.8l.5-13.4l.6 12.8l.6 4.5l.5-20.2l.6 17l.5 .5l.6-7.2l.6 6.3l.5-17.9l.6 7.2l.5 10.8l.6-9.2l.6 4.9l.5-9.7l.6 5.7l.5 6.8l.6-8.7l.6-6.4l.5 10.4l.6-4.3l.5-.1l.6 4.2l.6 6.1l.5-9.9l.6-9.8l.5 23.8l.6-13.6l.6 17.5l.5-10.4l.6-12.4l.5 16.7l.6 0l.6-14.8l.5 1.9l.6 7l.5-2.8l.6 10.1l.6-5.3l.5-4.6l.6-3.9l.5 10.8l.6-2l.6 2.7l.5-8l.6 9.3l.5-10.8l.6 3.7l.6 8.9l.5 4.9l.6-25.3l.5 14.6l.6-5.2l.6 6.3l.5 1.2l.6 0l.5 .8l.6-6l.6 4.8l.5-6.8l.6 .9l.5 6.2l.6-13.9l.6 10.9l.5 5.4l.6 .2l.5-20.4l.6 16.6l.6 5.8l.5-5.2l.6 4.9l.5-6.4l.6-7.2l.6 16l.5-1.8l.6-21.3l.5 11.9l.6 2l.6 7.5l.5-11.9l.6-4.6l.5 16.7l.6-10.4l.6 7.6l.5-14l.6 12.7l.5-7.3l.6 1l.6 2.6l.5-4.3l.6 6.7l.5 13.6l.6-11.2l.6-13.7l.5 6.7l.6-.8l.5 4.4l.6-9.5l.6 1.5l.5 19.6l.6-16.3l.5 9.7l.6-6.8l.6-4.4l.5 13.6l.6-8.5l.5 2.2l.6-2.3l.6 10.8l.5-13.9l.6 10.7l.5-4.7l.6-.2l.6-3.2l.5 6.4l.6-1.1l.5-6.7l.6 10.4l.6-11.5l.5 8.8l.6-5.4l.5 3.6l.6 2.7l.6 6.1l.5-10.8l.6-13.8l.5 15.8l.6 5l.6-16.4l.5 8.5l.6 .1l.5 9.8l.6-5l.6-10.8l.5 14.4l.6-7.7l.5 1.7l.6-7.3l.6 3.7l.5-1.1l.6 2.9l.5-2.4l.6 13.4l.6-4.1l.5-14.4l.6 4.7l.5-4.1l.6 12.9l.6-2.2l.5 2.2l.6 2.6l.5-11.4l.6 13.1l.6 1.1l.5-7.5l.6-5.5l.5 8.1l.6 4.9l.6-14.5l.5-2.4l.6 19.1l.5-6.2l.6-1.2l.6-2.7l.5 1.2l.6 1.7l.5-6.7l.6-1.6l.6 5.5l.5 1.5l.6 1.2l.5-9.3l.6 3.5l.6 1.6l.5 6.2l.6-17.6l.5 12.3l.6 13.5l.6-6.6l.5-5l.6 6.2l.5-3.2l.6-4.4l.6 .1l.5-4.3l.6 .1l.5 8.5l.6-6.5l.6 6.5l.5 7.1l.6-17.9l.5-.7l.6 6.8l.6 7.3l.5-4.1l.6 9.6l.5-5.8l.6-10.4l.6 6.1l.5-9.4l.6 10.9l.5 8l.6-5.7l.6-7.2l.5 10.4l.6 3.2l.5-18.5l.6 4.8l.6 11.7l.5-5.7l.6-4.3l.5 8l.6-4l.6-.3l.5-1.9l.6 3.7l.5 3.8l.6-6.6l.6 2.3l.5 3.1l.6-1.5l.5-9l.6 13.9l.6-12.4l.5 8.6l.6 7.3l.5-5.6l.6 0l.6-1.2l.5-10.9l.6 8.6l.5 2.9l.6-6.2l.6 7.7l.5-5.4l.6 10.2l.5-8.7l.6 5.7l.6-5.7l.5-8.3l.6 10.6l.5-5.9l.6 6.6l.6-13.1l.5 3.1l.6 6.3l.5 8l.6-7.2l.6 9.6l.5-15.7l.6 2.4l.5-4.9l.6 8.6l.6-8.2l.5 .8l.6 9l.5 .5l.6 2.1l.6 4l.5-16.1l.6 4.4l.5 12l.6-.3l.6-3.2l.5-5.7l.6 10.1l.5-12.9l.6-6.2l.6 10.5l.5 5.1l.6-8l.5-2.3l.6 5l.6-5.6l.5-1.3l.6-1.4l.5 6.2l.6 10.4l.6-5.1l.5-4.6l.6 7.1l.5-8.9l.6 5.6l.6-10.5l.5 14.1l.6 1.4l.5-12.9l.6 1.7l.6 .6l.5 1.3l.6 12l.5-2l.6-13.4l.6 3.8l.5 8.5l.6-6.9l.5-1.8l.6 8.9l.6-15.1l.5 7l.6-6.8l.5 2l.6 6.6l.6 4.8l.5-5.9l.6 4.1l.5-5.7l.6 3.5l.6 1.1l.5 3.1l.6-2.4l.5 2.7l.6-3.7l.6 .3l.5-7.4l.6 14.5l.5-9.6l.6 5l.6-4.3l.5 6.6l.6-6.1l.5 1.5l.6-1.6l.6-2l.5 3.4l.6 .2l.5-3.1l.6 2l.6-1.2l.5-5.9l.6 5.4l.5-.8l.6-5.8l.6 10.4l.5 9.6l.6-18.4l.5 10l.6-2.6l.6 7.6l.5-11.5l.6 1.5l.5-.3l.6 3.6l.6-6.8l.5 11.6l.6-2.6l.5-5.1l.6-5.9l.6 9l.5-.3l.6 9.8l.5-.4l.6-11.4l.6 .4l.5 6.2l.6-7.6l.5 .3l.6 7.1l.6-9.7l.5 17.8l.6-22.7l.5 13.6l.6 .6l.6-2.8l.5 3.5l.6 3.1l.5-14.3l.6 10.8l.6-3l.5-1.8l.6 5.9l.5 2.3l.6-11.5l.6 8.9l.5 5.1l.6-5l.5-4.3l.6-.1l.6-4.9l.5 11.6l.6-7.4l.5-.5l.6-2.6l.6 12.5l.5-3.4l.6-7.9l.5 9.4l.6-12.4l.6 3l.5 .9l.6 7.1l.5-2.8l.6-4.8l.6 1.3l.5-.7l.6 7.8l.5-11.8l.6 14.8l.6-12.3l.5 8.3l.6 1.1l.5-1.6l.6 1.6l.6-6.8l.5 9l.6-2l.5 2.2l.6-7.4l.6 3.9l.5-3.1l.6 6.6l.5-8.9l.6 9.1l.6 1.4l.5-7.5l.6 6.8l.5-2.3l.6 .4l.6 1.7l.5-2.1l.6-1.4l.5-6.5l.6 13.6l.6-8.7l.5 2.2l.6-8.6l.5 16.1l.6-7.8l.6 .7l.5 .5l.6-2.3l.5 6.9l.6-5.2l.6-4.4l.5 6.6l.6-8.1l.5 12.6l.6-4l.6-7.8l.5 8.2l.6-.7l.5 5.6l.6-9l.6-.3l.5 10.8l.6-.6l.5-14.6l.6 9.8l.6-1.9l.5 2.1l.6 2.3l.5-9.1l.6 4.9l.6 1.7l.5-7.4l.6 4l.5 3l.6-3.6l.6-7.5l.5 16.6l.6-9.4l.5 2.9l.6-5.9l.6 3.2l.5 3.4l.6-.5l.5-4l.6 2.6l.6-9.1l.5 13.5l.6-8.2l.5 10.2l.6-6.2l.6 6.1l.5-3.2l.6-4.5l.5 11l.6-3.8l.6-7.8l.5-1.8l.6 1.8l.5 6.9l.6 .2l.6-4.3l.5 1l.6-9l.5 9.7l.6-4.8l.6 8l.5-10.6l.6 7.6l.5 3.1l.6-4.2l.6-1.7l.5 2.6l.6 .5l.5-2.2l.6-4.7l.6 7l.5 1.2l.6-3.6l.5-.3l.6-3.2l.6 2.2l.5 1.5l.6 2.2l.5-5.5l.6 1.6l.6 4.2l.5-13.7l.6 12.6l.5-6.6l.6 6.1l.6-1.3l.5-2.8l.6-.1l.5 9.5l.6-8.6l.6 2.6l.5 .1l.6-8.1l.5-.1l.6 5.4l.6 3.5l.5-5.7l.6 7.6l.5-4.8l.6-.1l.6 4.6l.5-9.7l.6 6.6l.5-5.6l.6 .1l.6 1.9l.5-4.4l.6 12.4l.5-1.9l.6-9.6l.6 11.7l.5-12.2l.6 5.8l.5 5l.6-9.6l.6 .9l.5-2.8l.6 11.8l.5-9.6l.6-10.6l.6 7.3l.5 10.6l.6 1.7l.5 2.6l.6-7.8l.6 1l.5-14.8l.6 8.2l.5 .6l.6-.4l.6 .1l.5-8.8l.6 13.7l.5-10l.6 12.9l.6-8.9l.5-5.9l.6 5.7l.5 .9l.6 .6l.6-9.8l.5 13l.6-1.4l.5 .3l.6-4.8l.6 1.7l.5-8.4l.6 .8l.5 15.4l.6-13.6l.6-1.1l.5 5.1l.6 .6l.5-9l.6 7.9l.6-9.1l.5 6.9l.6 7.2l.5-8.4l.6 6.3l.6-6.8l.5 3.6l.6 .4l.5-4.7l.6-4.3l.6 7.2l.5 4.1l.6-11l.5 6.5l.6-3.4l.6-2.3l.5 2.4l.6-2.3l.5-10.3l.6 5.5l.6-.7l.5 6.5l.6-8.3l.5 1.1l.6-3l.6 3.3l.5 10.3l.6-11l.5 5.4l.6-5.5l.6-4l.5 20.1l.6-20l.5-12.3l.6 15.3l.6-9.9l.5 7.9l.6-14.9l.5 6.6l.6-2l.6 2l.5 14.1l.6-21.8l.5-7.5l.6 9.6l.6 .1l.5 8.4l.6-18.3l.5 1.2l.6 4.1l.6 9.4l.5-19l.6 11.7l.5-12l.6-5.5l.6-2.2l.5 3.4l.6-3.9l.5 6.3l.6-14.1l.6-3l.5-1.7l.6-12.3l.5-6.6l.6 10.1l.6-12.4l.5 6.3l.6 5.7l.5-22.3l.6 10.2l.6-29.2l.5 5.6l.6 4.8l.5-14.3l.6-26.4l.6-3.5l.5 4.1l.6-5.5l.5-.5l.6 4.6l.6-37.9l.5 17.6l.6-23l.5-12.4l.6-36.6l.6 9.4l.5-23.1l.6 4.2l.5-7.4l.6-37.8l.6-18.6l.5 3.5l.6-27.5l.5-9.3l.6-5l.6-54.6l.5 21.9l.6-15.8l.5-13.8l.6-11.1l.6-17.7l.5 20.2l.6 23.7l.5-1.6l.6-19.2l.6-8.8l.5 34.2l.6-12.2l.5 33.1l.6 16.8l.6-5.3l.5 22.8l.6-.6l.5 59.4l.6-3.5l.6 .7l.5 20.4l.6-11l.5 29.6l.6 35.3l.6-34.3l.5 29l.6 2.7l.5 14.4l.6-3.2l.6 55.3l.5 6l.6-15.5l.5 9.8l.6 17.7l.6-3.8l.5-12.4l.6 19.3l.5 18.4l.6-6.8l.6 17.7l.5-11.8l.6 22.4l.5 3.8l.6 .5l.6 5.9l.5-19.6l.6 16.9l.5 8.4l.6 5.5l.6-.1l.5-16l.6 16.1l.5 1.2l.6 6.6l.6-2.9l.5-11.9l.6 20.9l.5-6.8l.6 11.3l.6-12.4l.5-1.8l.6 7.6l.5 16.5l.6-19.3l.6 7.3l.5 13.4l.6-32.7l.5 25.4l.6-1.3l.6-.5l.5 7.2l.6-22.6l.5 10.4l.6-5.9l.6-2.4l.5-2.6l.6 .3l.5 9.3l.6-13.2l.6 15.5l.5-21.7l.6 10.4l.5-11.1l.6-6.1l.6-2.9l.5 4.7l.6-23.7l.5 2.4l.6-2.9l.6-10.4l.5 15l.6-13.8l.5-32.3l.6-1l.6 .5l.5-1.1l.6-33.3l.5-7.5l.6-22.6l.6 6.2l.5 12.6l.6-4.7l.5-15.6l.6-12.9l.6 4.5l.5-34l.6 16.2l.5 12.1l.6 11l.6 21.2l.5 12.4l.6-12.7l.5 30.1l.6 .4l.6 13.8l.5 22.8l.6 3.9l.5 7.5l.6 1.7l.6 13.4l.5 21.5l.6-1.2l.5-1.4l.6 8.6l.6 4.1l.5 18.7l.6-.2l.5-8.9l.6 18.1l.6-18.4l.5 14.1l.6-4.3l.5 2l.6 2.1l.6 7.8l.5 6.1l.6 2.3l.5-9.2l.6 9.7l.6-14.9l.5 23.3l.6-9.1l.5-11.4l.6 20.2l.6 1l.5-1.4l.6-9.2l.5 4.3l.6-4.8l.6 12.4l.5 3.2l.6-12.8l.5 20.1l.6-16.8l.6 .8l.5-3.2l.6 13.4l.5-8.8l.6 3.7l.6-8l.5 5.6l.6-.8l.5 2.4l.6-4.5l.6 10.7l.5 2.6l.6-5.2l.5 3.1l.6-3.5l.6-5.9l.5 2.1l.6 .8l.5 1.8l.6 1.9l.6 3l.5-6.5l.6 10.7l.5-15.1l.6 12.1l.6-14.1l.5 6.5l.6 5.8l.5-1.8l.6 4.4l.6-13.6l.5 14.4l.6-11.2l.5 12.2l.6-3.2l.6 2l.5-1.3l.6-5.3l.5 3.2l.6 10.2l.6-18.1l.5 8.2l.6 8.3l.5-8.4l.6 2.6l.6 4.6l.5-15.9l.6 6.3l.5 10.2l.6-17.1l.6 17.8l.5-17.7l.6 1.8l.5 16.6l.6-3.9l.6-7.4l.5 10l.6-22.3l.5 26.2l.6-17.8l.6 1.4l.5 5.1l.6-4.3l.5 1.7l.6-4.8l.6 4.9l.5 9.4l.6-2.4l.5-3.6l.6-2.4l.6-5.2l.5 10.7l.6-6l.5 1.6l.6-3.1l.6 7.6l.5-1.1l.6-3.3l.5-4.3l.6 1.6l.6 7.4l.5 .8l.6-5.1l.5 2.8l.6-4.2l.6 .7l.5 .7l.6-2.9l.5 9l.6 4l.6-10.3l.5 2.2l.6-3.2l.5 10l.6 1.1l.6-4.4l.5-1.6l.6 2.4l.5-3.4l.6 .2l.6 9.1l.5 4.1l.6-15.5l.5-3.8l.6 16.4l.6-8.7l.5 5.4l.6 2l.5-5.8l.6-2.6l.6 2.5l.5-9l.6 4.8l.5-.1l.6 7.6l.6-6.2l.5 11.1l.6-6.5l.5-.9l.6-3.4l.6 17.1l.5-21.6l.6 9.3l.5 1.7l.6 .3l.6-2.7l.5 4.1l.6-5.8l.5 9l.6-5.4l.6 .2l.5-1.4l.6 2l.5 2.4l.6-14.4l.6 10.7l.5-.6l.6-7.6l.5 6l.6 1l.6 7.6l.5 .7l.6-6.6l.5-5.5l.6 2.2l.6 4.1l.5 4.6l.6-3l.5-2.9l.6 6.9l.6-2.8l.5 3.9l.6-5.1l.5 5.3l.6-3.1l.6-10.2l.5 4.2l.6 3.4l.5-3.8l.6 12.3l.6-12.2l.5 3.2l.6 1.8l.5 2.3l.6-4.8l.6-1.9l.5 7.5l.6-4.1l.5 4.1l.6 2.3l.6-1.9l.5-4.4l.6-.9l.5 1.3l.6-2.3l.6-4.3l.5 11.5l.6-2.8l.5-1.3l.6 3.5l.6-2.9l.5 4.7l.6-3.2l.5-5l.6 1.8l.6-1.6l.5 5.6l.6-8.8l.5 8.5l.6-2.8l.6 2.9l.5-.6l.6-.5l.5-1.6l.6 1.3l.6 .6l.5-1.4l.6 2.8l.5-8.3l.6 .9l.6 7.9l.5-2.8l.6-3.8l.5 6.8l.6-8.8l.6 6.7l.5-1.8l.6 7.8l.5-7.1l.6 2l.6-13.3l.5 11.6l.6 5.2l.5-17.5l.6 18.1l.6-.6l.5-9.8l.6-2.2l.5 7.3l.6-1.4l.6 5.8l.5-5.7l.6 9.3l.5-12.4l.6 5.1l.6 2.7l.5-7.8l.6-.6l.5 14l.6-9l.6-2.8l.5 .9l.6-5.8l.5 12.4l.6-13.9l.6 12.2l.5-2.2l.6-7.9l.5 12.2l.6-9.6l.6 1.1l.5 5.4l.6 1.2l.5-12.2l.6 1.3l.6 3.6l.5 6.9l.6-5.2l.5-1.4l.6 .7l.6-.6l.5 5.5l.6-8.3l.5-1.5l.6 9l.6-3.6l.5-2.4l.6 7.6l.5-6.2l.6-.7l.6-5.4l.5 9.8l.6-5.2l.5-2.2l.6 10.1l.6-9.4l.5 1.9l.6-4.1l.5 2.4l.6 .3l.6-7.3l.5 .2l.6 3.9l.5 8.1l.6-4l.6 7.5l.5-1.9l.6-6.7l.5-2.3l.6 15l.6-14l.5 5.3l.6 1.8l.5 2.1l.6-10.8l.6-2.5l.5 9.3l.6 5.5l.5-8.5l.6-7.3l.6 4.4l.5 8.9l.6-5.4l.5 3.7l.6-5.5l.6-.7l.5 1.9l.6-5.8l.5 3.8l.6 4.2l.6-8.4l.5 10.2l.6-6.2l.5-6.6l.6 8.5l.6-5.2l.5 9.3l.6 1.2l.5-2.3l.6-3.6l.6-2.6l.5-1.5l.6 8l.5-18.8l.6 16.4l.6-12.4l.5 1.2l.6 2.8l.5 2.4l.6 6l.6-6.9l.5-4.8l.6 3.9l.5-11.7l.6 4.6l.6 5.3l.5-10.9l.6 9l.5-1.7l.6-.4l.6-10.6l.5-3.7l.6-.8l.5 8.1l.6-18.4l.6-6.6l.5 13.8l.6-3.3l.5-5.3l.6-1.8l.6-11.3l.5-6.7l.6-12.8l.5 4.4l.6-6.7l.6-26.3l.5-4.6l.6 14.3l.5 11.9l.6-29.3l.6-1.1l.5-10.1l.6 19.4l.5 8.3l.6-11.7l.6-1.8l.5 11.2l.6 14.5l.5-21.4l.6 22.5l.6 6.5l.5-2.3l.6 11l.5 4.9l.6 4.1l.6 9.5l.5-9.4l.6 14.8l.5 5.9l.6 3.7l.6-1l.5 5.3l.6-10.6l.5 9.1l.6 4.5l.6-5.7l.5 17.5l.6-26.5l.5 17.4l.6-9.4l.6-2.7l.5 10.5l.6-1l.5 1.7l.6 5.1l.6-5.3l.5-6l.6 8.6l.5-9.5l.6 2.4l.6-5.1l.5-4.3l.6 12.5l.5-5.5l.6-6.4l.6 5.9l.5-7.1l.6 10.6l.5-17.4l.6-.7l.6-4.9l.5 2.7l.6 21.1l.5-15.3l.6-1.9l.6 11.9l.5-13.8l.6 2.3l.5-9.1l.6 24.4l.6-20.6l.5-7.7l.6 7.2l.5-6.1l.6 9.5l.6 1.6l.5-14.5l.6 10.8l.5-11.7l.6-9l.6 12l.5-5.7l.6-6l.5-2.1l.6 .1l.6 .9l.5-8.1l.6 3.4l.5-12.9l.6 18.2l.6-15.7l.5 17.7l.6 .6l.5 2.4l.6 3.5l.6 9.7l.5-9.4l.6 10.2l.5-6.9l.6 .6l.6 8.7l.5-4.6l.6-5.3l.5 11.1l.6 .3l.6 2.4l.5-3.7l.6 18.5l.5-2.5l.6-13.7l.6 20.6l.5-33.9l.6 24.6l.5-9.4l.6-1.2l.6 3.1l.5 9.8l.6-7.6l.5 13.3l.6-16.7l.6 13.7l.5-5.1l.6 .2l.5-5l.6-5.5l.6 9.9l.5 3l.6 .1l.5 1.6l.6-7.9l.6 12.6l.5 7.2l.6-6.3l.5 2.4l.6-10.5l.6 20l.5-7.4l.6-3.8l.5-5.3l.6 7.6l.6 3.2l.5-10.1l.6 10.4l.5 2.8l.6 3.9l.6-6.8l.5 16l.6-3.5l.5-14.7l.6 4.6l.6 .2l.5 6.8l.6 4l.5-5l.6 3.7l.6 3.4l.5-.6l.6-2.8l.5 2.9l.6-6.7l.6-1.3l.5 13.3l.6-3.5l.5-4.8l.6 5l.6-3l.5 9.8l.6 1.7l.5-6.1l.6 4l.6 1.1l.5-9.9l.6-1.7l.5 5.9l.6 7.5l.6-5.8l.5 .2l.6 1.5l.5-6.9l.6 .3l.6 3.4l.5 2.4l.6 4.3l.5-6.6l.6-3.7l.6 1.8l.5 7l.6 3.1l.5-10.2l.6 4.4l.6 2.2l.5-5.5l.6 2.7l.5 2.4l.6-6.8l.6 4.6l.5-1.1l.6 6.1l.5-.8l.6-2.5l.6-5l.5 8.1l.6-.4l.5-6.4l.6-3.7l.6-2.6l.5 8.5l.6-4.5l.5 1.5l.6 5.5l.6-6l.5 8.1l.6 .4l.5-3.9l.6 2.9l.6-3.9l.5-2.4l.6-3.7l.5 11.2l.6-5.2l.6 1.6l.5-5.2l.6 2.5l.5 1l.6-1.7l.6-7.7l.5 3.4l.6-4.1l.5-4.8l.6 4.5l.6 4.8l.5-7l.6 9.4l.5-17.4l.6 3.3l.6 7.6l.5-17.8l.6 3.4l.5 .9l.6 .4l.6-11.3l.5 9.3l.6 15.5l.5-17.9l.6-11.5l.6-1.8l.5-3l.6-6.3l.5 7.2l.6 11.8l.6-11.1l.5 14.1l.6 1.6l.5 5.4l.6-1.9l.6-8l.5 10.5l.6 1.7l.5 11.4l.6-6l.6 8.1l.5 1.4l.6 .3l.5-6.8l.6 8l.6-9.2l.5 10.8l.6-9.8l.5 4.3l.6-6.5l.6 14.6l.5-6.6l.6-7.8l.5 8.4l.6 3.5l.6-4.3l.5-2.3l.6 6.1l.5 3.3l.6 3.3l.6-6.5l.5-1.2l.6 3.9l.5 1.4l.6 2.2l.6-3.3l.5-5.6l.6 1.3l.5 6.8l.6-4.5l.6-3.5l.5 3.8l.6 1.1l.5 3.6l.6-5.6l.6 .6l.5 1.4l.6-2.3l.5 3l.6-4.1l.6 3.7l.5 5.7l.6-9.8l.5-1.7l.6 3.6l.6 2.5l.5 7.3l.6-10.1l.5 4.7l.6-2.8l.6-.4l.5 7l.6-16l.5 9.9l.6-2.1l.6-.1l.5-1.1l.6 .5l.5-2.9l.6 7.9l.6 .1l.5 .1l.6 5.7l.5-7.3l.6-2.1l.6-7.9l.5 10l.6 1l.5-1.4l.6 2.8l.6-2.5l.5 3.5l.6-2.4l.5-6.9l.6 3l.6 3.3l.5-3.9l.6 3.8l.5 .6l.6-7.5l.6 5.4l.5-6.2l.6-.5l.5 8.1l.6-7.5l.6 4.4l.5-4.5l.6 5.6l.5-1.3l.6-7.8l.6 .2l.5 4.1l.6-1.3l.5 8.3l.6-17.4l.6 11.6l.5 5.7l.6-10.4l.5 0l.6-4.1l.6 1.7l.5-4.5l.6 .9l.5 3.2l.6 7.1l.6-3l.5 .3l.6-.8l.5-4l.6-1.9l.6-2.5l.5 4.6l.6-1.1l.5 7.8l.6-8l.6-5l.5 5.6l.6 11.4l.5-10.4l.6 8l.6-4.4l.5 12.3l.6-11l.5 4.2l.6 5l.6-8.7l.5 5.4l.6-4.8l.5-5.8l.6 3.6l.6-2l.5-4.5l.6 10.6l.5 6.8l.6-8.4l.6-4.3l.5 1.4l.6-4.7l.5 8.7l.6 2l.6 4.1l.5-1.8l.6-5.2l.5 .6l.6-2.9l.6 3.8l.5-3.2l.6-.7l.5 12.3l.6-7.6l.6 4.3l.5-5.9l.6-2.6l.5 12.7l.6-7l.6-2.5l.5-1.8l.6 4.5l.5 .1l.6 .4l.6-1.7l.5-5.2l.6 11.6l.5-1.9l.6-7.4l.6 .3l.5 10.7l.6 .4l.5-10.1l.6 .2l.6 3.4l.5 1.7l.6-2.7l.5 6.3l.6-7.1l.6 8l.5-7.4l.6-5.6l.5 1.4l.6 5.3l.6 3l.5-6.7l.6 4.7l.5 .3l.6-5.4l.6 9.5l.5-.5l.6-2.2l.5 .4l.6-6.7l.6 3.5l.5-6.6l.6 2l.5 9.9l.6-10.2l.6-5.9l.5 11.1l.6-4.5l.5 7.8l.6-7.8l.6 2.2l.5 .1l.6-2.2l.5 .2l.6 1.5l.6-1.2l.5 8.2l.6 .2l.5-3l.6 1.1l.6 .6l.5 5.3l.6-12.8l.5 4l.6-1.3l.6 .5l.5 1.2l.6-7.5l.5 8.4l.6-4.6l.6 7.9l.5-6.5l.6-8.6l.5 12.2l.6-5.7l.6 9.5l.5-.4l.6-12.6l.5 1.4l.6 14.3l.6-13.9l.5 .1l.6 3.6l.5-3.2l.6 2l.6 2.8l.5-9.1l.6 10.6l.5-12.7l.6 9.2l.6-2.4l.5 0l.6-7.7l.5-6.8l.6 13.5l.6 1l.5-1.3l.6-4.7l.5-4.9l.6 3l.6-3.7l.5 5.8l.6-3.4l.5 3.1l.6 1.8l.6-4.4l.5 4.5l.6-8.5l.5 5.4l.6-6.5l.6 2.8l.5-7.4l.6 11.6l.5-3l.6-6.2l.6-11.1l.5 5.1l.6 6.5l.5 2.1l.6-11.6l.6 6.1l.5-7.4l.6-3l.5-1.9l.6 12.7l.6-8.3l.5-10.3l.6-10.7l.5 10l.6 1.2l.6-16.8l.5 4.1l.6-9.9l.5 5.4l.6-8.7l.6-1.7l.5-.2l.6 .4l.5-.8l.6 1.1l.6-22.1l.5-8.3l.6 18.3l.5-29.6l.6 23.6l.6-29.4l.5 17.9l.6-28.6l.5 6.3l.6 .1l.6 7.5l.5 5.7l.6-6.8l.5-.2l.6-8.3l.6 5.2l.5 16.5l.6 2.1l.5-3.4l.6 4.3l.6 11.5l.5 4.3l.6 17.6l.5-18.3l.6 12.5l.6 1.6l.5-15l.6 13.1l.5 8l.6 0l.6 1.8l.5 4.1l.6 8.5l.5 7.1l.6 3.4l.6-7l.5 18l.6-17.2l.5 7l.6 8.1l.6-1.5l.5 3.7l.6-6.1l.5 13.7l.6 3.9l.6-12.5l.5 16.1l.6-7.3l.5 3.6l.6-6.2l.6 2.8l.5-1.5l.6-1.2l.5 2.6l.6-9.9l.6 7l.5 4.5l.6-5.8l.5 1.5l.6 3.1l.6 8.2l.5-8.6l.6 13.3l.5-12l.6 12.4l.6-1.2l.5-7.3l.6-1.9l.5 12l.6 3.4l.6-7.4l.5-.1l.6 7.4l.5-3.5l.6 5.6l.6-8.7l.5-4.3l.6 2.5l.5-1.5l.6 6.6l.6 7.2l.5-11.8l.6 1.5l.5-.4l.6-.6l.6 3.7l.5-2.2l.6 3.8l.5 5.9l.6-4l.6 5.9l.5-14.9l.6 10.2l.5-5.5l.6-4.5l.6 8.9l.5 3.8l.6-11.2l.5 10l.6-.6l.6-4.5l.5 2.4l.6 .5l.5-5.5l.6 .5l.6 6.3l.5 4.4l.6-9.4l.5 6.8l.6 3.6l.6-5.7l.5-2.5l.6-1.7l.5 11.3l.6-9.5l.6 4.4l.5 .3l.6-3.9l.5 3.1l.6 3.7l.6-5.3l.5-2.5l.6-2.5l.5 4.6l.6 1.3l.6-5.2l.5 3.2l.6-.4l.5-4l.6 7.9l.6 .8l.5-3.4l.6 .8l.5 1.2l.6-2.2l.6-1l.5-1.2l.6 7.9l.5-3.1l.6-.2l.6-3.1l.5-4.4l.6 7.9l.5-5.7l.6 5.4l.6-3.9l.5 2.1l.6-2.4l.5 9.5l.6-4.6l.6 1.7l.5 4.5l.6-4.6l.5-3.7l.6-.8l.6 .4l.5-.2l.6 2.6l.5 4.3l.6-1.1l.6-2.4l.5 3.1l.6 2.6l.5-6.5l.6 2.2l.6-3.3l.5-2l.6-.8l.5 3.1l.6 1.3l.6-5.7l.5 8.6l.6-3.5l.5-6.5l.6 1l.6 8.9l.5-6.5l.6 2.8l.5-1.5l.6-1.2l.6-3.5l.5-3.5l.6 5.7l.5-.4l.6-.9l.6 6.7l.5-3.4l.6-1.7l.5-4.3l.6 5.9l.6-5.6l.5 11.8l.6-3.8l.5 7.3l.6-5.8l.6-7.8l.5 7.5l.6-6.2l.5 .8l.6 .5l.6-2.4l.5 0l.6 1.1l.5-6.1l.6 16.1l.6-2.9l.5-6l.6-3.4l.5 7.6l.6-4.9l.6 3l.5 7.6l.6-8.4l.5 .3l.6-7.1l.6 1.3l.5-1.7l.6 1l.5 6.8l.6-3l.6-2l.5-3.6l.6 7.3l.5-5.9l.6-4.6l.6 10.2l.5-7.2l.6-1.6l.5-5.8l.6 7.6l.6 9.3l.5-10.3l.6-4.2l.5-.6l.6 12.1l.6-5.3l.5-8l.6-3.2l.5 12.8l.6-1.3l.6 3.1l.5-21.3l.6 8.7l.5 4.6l.6-3l.6-8.2l.5 6.4l.6 8.5l.5-12.2l.6 3.6l.6-8.5l.5 9.7l.6-3l.5-6.5l.6 14.5l.6-15.7l.5 13l.6-18.4l.5 .9l.6 9.9l.6-8.8l.5-6.6l.6 9.1l.5-12.9l.6 7.6l.6 6.3l.5-15.9l.6-2l.5 8.7l.6-.5l.6-11.5l.5 8.5l.6-2.3l.5-17l.6-5.8l.6 10.2l.5-17.2l.6 .5l.5-6l.6 1.8l.6-6.8l.5-13.2l.6 21.2l.5-17.9l.6 2.1l.6-29.8l.5 9.3l.6-7.5l.5 17.8l.6-7.7l.6-5.7l.5-29.5l.6 1.5l.5-10.4l.6 16l.6-15.4l.5-7.5l.6 17.5l.5-34.6l.6 18.8l.6 13.9l.5-2.5l.6-20.2l.5-15.8l.6 30.3l.6-1.8l.5 15.9l.6-15.3l.5-28.1l.6 32.1l.6-.1l.5 10.4l.6 6.7l.5-8.2l.6-9.3l.6 31.1l.5-13l.6 11.6l.5 2.2l.6-9.6l.6 16.3l.5 7l.6 16.3l.5-13.5l.6 7.7l.6 10.6l.5-2.6l.6-8.2l.5-3.8l.6 13.2l.6-8.8l.5 5.2l.6-17l.5 22.6l.6-7.6l.6 12l.5-18.2l.6-7.5l.5 1.8l.6 10.5l.6 9.1l.5-3.3l.6 4l.5 6.7l.6-6.5l.6 4.9l.5 6.3l.6-2.4l.5 4.1l.6 10.3l.6 18.9l.5-14.5l.6 18.1l.5-23.8l.6 24.8l.6-3.5l.5 2.5l.6-8.7l.5-6.6l.6 18.3l.6-.7l.5 5.1l.6-4.5l.5 1.2l.6-7.3l.6 1.9l.5 5.2l.6 1.9l.5-8l.6 15.7l.6 1.8l.5 .8l.6 3.6l.5-14.1l.6 14.5l.6-8.2l.5 2.7l.6 1.4l.5 2.8l.6-11.4l.6-.6l.5 13.4l.6-11.1l.5-1.8l.6 9.2l.6-3l.5 3l.6 3.9l.5-5.5l.6-1.4l.6 5l.5-15.3l.6 12.9l.5-16.2l.6 10.1l.6 4.6l.5-1l.6-6.9l.5 4.7l.6-10.2l.6 7.3l.5-6.2l.6 18.9l.5-8.6l.6-.4l.6 .5l.5-.9l.6 2.2l.5-2.9l.6 7.6l.6-11.7l.5 5.6l.6-.8l.5-1.4l.6 6.1l.6 3.4l.5 3.4l.6-6.9l.5 5.2l.6 6.3l.6-2.1l.5-6l.6 .2l.5 6.8l.6 .9l.6-1.6l.5-4.5l.6 11l.5-15.2l.6 12.7l.6-7.8l.5 7.9l.6 3.1l.5-2.9l.6-5.2l.6 5.7l.5-7.2l.6 1.2l.5-2.9l.6-1.5l.6 13l.5-1.9l.6-5.8l.5 .5l.6 2.2l.6-3.5l.5-.6l.6 3.8l.5-3.8l.6 2.1l.6 2.1l.5 8.7l.6-5.8l.5 .3l.6 1.6l.6-6.8l.5 4.8l.6-.4l.5-3.2l.6-.6l.6-.2l.5-.6l.6 12.3l.5-2.7l.6-9.6l.6 10.2l.5-7.3l.6 4.2l.5-1.2l.6-8.6l.6 9l.5-4l.6 1.4l.5 5.5l.6 3.1l.6-8.8l.5-1.8l.6 8.7l.5 1.1l.6-2.7l.6-1.2l.5-6.9l.6 9l.5-5.8l.6 6.6l.6-6l.5-1.2l.6-2.2l.5 4.7l.6 2l.6 8l.5-11.5l.6 1.5l.5-.3l.6 6.8l.6-10.8l.5 9.2l.6 1.1l.5 2.6l.6-6.9l.6 .3l.5-2.1l.6-1.3l.5 1.4l.6 1.7l.6-4l.5 2.7l.6 2.8l.5 2l.6-2.1l.6-4.7l.5 5.3l.6-2.8l.5 7.7l.6-8l.6 4.3l.5-5.5l.6 4.3l.5 2.8l.6 3.7l.6-1l.5-6.8l.6-4.6l.5 7.5l.6 4.2l.6-7.3l.5-2.3l.6 3.1l.5 5.9l.6-4.4l.6 .3l.5 .3l.6-13.1l.5 11.7l.6 3.7l.6-1.1l.5 1.4l.6-8.1l.5 11.4l.6-8.5l.6-.9l.5-3.5l.6-3.1l.5 6.2l.6-.3l.6 2l.5-2.6l.6-3l.5 3.8l.6 .9l.6-6.3l.5 7.3l.6 2.7l.5-4.9l.6 8.3l.6-9.3l.5-.8l.6 2.5l.5-.1l.6 2.7l.6-2.6l.5-9.3l.6 8.4l.5 1.1l.6-4.6l.6 7.5l.5 3.9l.6-6.5l.5-2.3l.6 2.8l.6-2l.5-5.4l.6 6.4l.5-4.1l.6 3.1l.6 2.1l.5 3.2l.6-5.4l.5 7.2l.6-10.1l.6 9.4l.5 3.4l.6-12.2l.5 2.1l.6-2.8l.6 8.2l.5-5.2l.6 3.7l.5-8.3l.6-3.2l.6 6.7l.5 .3l.6 3l.5-2.7l.6 1.6l.6-7.6l.5 9.8l.6-3.5l.5-9.7l.6 4l.6 5.1l.5 9.1l.6-7.9l.5 4.1l.6-9.8l.6-.3l.5 3.1l.6 .2l.5-8.6l.6 11.8l.6 .7l.5 .3l.6-8.3l.5 6.6l.6-3.3l.6 1.4l.5-2.4l.6-4.4l.5-1l.6 2.2l.6 3.1l.5 2.2l.6 4.9l.5-6.9l.6-3.2l.6-.5l.5 10.6l.6-1.6l.5 .2l.6-14.4l.6 6.8l.5 1.1l.6 3.1l.5-1.4l.6-8.5l.6 7.6l.5 .6l.6-6.3l.5-6.9l.6 2.8l.6 8.6l.5 3.5l.6-7.7l.5 3.8l.6-10.6l.6 6.6l.5-6.6l.6 3.5l.5-11.2l.6 12.3l.6-11.1l.5 3.4l.6 8.9l.5-3.8l.6-1.8l.6-5.3l.5-.1l.6 2.5l.5 3l.6 5.2l.6-19.3l.5-2.1l.6 7.5l.5 13.2l.6-7.3l.6-11.5l.5-2.5l.6-.5l.5 17l.6-11.8l.6-12.3l.5 13.1l.6-3.8l.5-10.7l.6 1.9l.6 14.8l.5-3l.6-16.8l.5-11.9l.6 12.6l.6-1l.5 .1l.6 3.1l.5 2l.6-4.2l.6-4.9l.5 1.4l.6-2.3l.5-3.9l.6 13.9l.6-11.5l.5 9.2l.6 .7l.5-2.3l.6-5.6l.6 8l.5 6l.6-30.1l.5 26.9l.6-14.3l.6-4.7l.5 8.8l.6 3.7l.5 .5l.6 1.7l.6 5l.5 5.4l.6-11.3l.5 1.5l.6 19.7l.6-13l.5 7.2l.6-1.1l.5-6.7l.6 3.1l.6 7.9l.5 10.1l.6-3.3l.5 1.5l.6-1.4l.6 1.2l.5-8l.6 9.4l.5 0l.6 3.6l.6-15.3l.5 3.2l.6 10.6l.5 1.4l.6-2l.6 3.1l.5 7.4l.6-11.9l.5 5.3l.6 9.9l.6-7.7l.5-11.6l.6 20.5l.5-18.7l.6 3.3l.6 10.2l.5-3l.6-2.9l.5 3.2l.6-4.4l.6 3.4l.5 1.7l.6-.4l.5-.4l.6 7.2l.6-3.2l.5-8.5l.6 6.3l.5 8.2l.6-4.8l.6-7.4l.5 8.5l.6-4.8l.5 7.4l.6-1l.6-.1l.5 2.1l.6-4.4l.5-7.1l.6 15.5l.6-12.2l.5 9.6l.6-9.5l.5 6.9l.6 2.2l.6-4.1l.5-1.1l.6 4.8l.5-1.5l.6-7.3l.6 3.9l.5 2.7l.6 1.3l.5-4.9l.6 8.6l.6-7.1l.5 6.7l.6-9.2l.5 4.1l.6 4.4l.6 2.7l.5-3.2l.6-.3l.5-1.6l.6-1.8l.6 3.5l.5-6.6l.6 4l.5 4.5l.6-7l.6 2.1l.5-3.8l.6 11.7l.5-6.2l.6 .4l.6-.4l.5 8l.6-3.5l.5-5.1l.6-.1l.6 6.1l.5 2.1l.6-.2l.5-6.5l.6-2.7l.6 6.1l.5-1.3l.6 .8l.5 2l.6 0l.6-6.7l.5-2.7l.6 8.5l.5-9.2l.6 6l.6-4.4l.5 5.2l.6 0l.5-.2l.6 2.1l.6-2l.5 1.1l.6 .1l.5-3.7l.6-4.9l.6 7.2l.5-1l.6-1.6l.5 1.7l.6 6.5l.6-6.7l.5-2.8l.6 5.2l.5-5.6l.6 3.9l.6-5l.5-1.8l.6-.2l.5 7.9l.6-6.6l.6 5.9l.5 3.1l.6 .5l.5-6.4l.6 2.4l.6-.8l.5-7.6l.6 3.3l.5 4.9l.6-3.9l.6 3.2l.5-3.1l.6 11.4l.5-4.6l.6-10.4l.6 5.7l.5-2.7l.6-1.2l.5 7.8l.6-9.3l.6 9.7l.5-6.2l.6 1.9l.5-1.7l.6 4.7l.6 1.1l.5-8.8l.6 5.8l.5 .4l.6-.3l.6 .8l.5-5.9l.6 2.2l.5-5.1l.6 6.5l.6-2.7l.5-4.1l.6 12.4l.5-7l.6-5.9l.6-.6l.5 11.9l.6-6.2l.5-.8l.6 5l.6-11.5l.5 5.2l.6 1.7l.5 6.7l.6-.6l.6-4l.5-3.4l.6 8.4l.5-4.1l.6 .5l.6-4.4l.5-4.2l.6 11.6l.5-7.9l.6 .2l.6-1.5l.5-1.1l.6 1.3l.5 2.3l.6 5.9l.6-1.9l.5 .3l.6 .5l.5-5.7l.6-3.5l.6-.2l.5-4l.6 11.6l.5-13.1l.6 8l.6-1.2l.5-7.9l.6 7.8l.5 .2l.6 .8l.6-1.9l.5 .6l.6-9.1l.5 9.9l.6-1.2l.6-8.4l.5 9.4l.6-1.2l.5-1.8l.6-3l.6 5.7l.5-1.1l.6-1.1l.5-9.8l.6 2l.6 7l.5-4l.6 .7l.5 .4l.6-1.2l.6 2.8l.5-1.7l.6-2l.5-.6l.6 7.9l.6-7.6l.5-4.2l.6 8.1l.5-16.9l.6 5.7l.6 11.9l.5-15l.6 9.5l.5-7l.6 4.3l.6-15l.5 3.7l.6 12.7l.5-13.6l.6 5.1l.6-4.3l.5-15.6l.6 19.2l.5-11.4l.6 5.2l.6-4.8l.5-6.9l.6 8.9l.5 .5l.6-8.6l.6 6.2l.5-3.7l.6-10.8l.5 11.7l.6-9l.6 14.3l.5-10.3l.6 2.9l.5 1.9l.6 15.5l.6-16.1l.5-.4l.6 13.1l.5 9.7l.6-13.5l.6 2.9l.5-11.7l.6 11.3l.5-5.1l.6 12.2l.6-1.6l.5-5.8l.6-7.1l.5 16.7l.6-.8l.6-5.1l.5-4.7l.6 11.7l.5-4.5l.6 1.4l.6-.1l.5-4.9l.6 12.8l.5-1.3l.6-2.6l.6-.6l.5 2.2l.6-3.6l.5-4.2l.6 3.3l.6-6.1l.5 15.5l.6-7.9l.5-.8l.6-1.7l.6 2.7l.5-6.9l.6 8.3l.5-3.2l.6 9.4l.6-7.6l.5 1.2l.6-6.2l.5 7.4l.6 1.4l.6-.1l.5-1.9l.6 8.1l.5-2.1l.6-4.1l.6-1l.5 6.1l.6 1.9l.5-.1l.6-.3l.6 .5l.5-3.1l.6-.4l.5 .5l.6-2.3l.6 .8l.5 .8l.6 10.9l.5-3.1l.6-.8l.6 .8l.5-5.8l.6 8.8l.5 4.7l.6-5.1l.6 3.8l.5-6.1l.6-.5l.5 1.9l.6 3.9l.6 2.8l.5-4.3l.6-3l.5 9.8l.6-6l.6 1.5l.5 .2l.6 5.2l.5-12.3l.6 5l.6 2.9l.5-2.6l.6 4.9l.5-1.5l.6 1.8l.6-.4l.5-1l.6-3.9l.5 4.2l.6 2.6l.6-3.8l.5 6.4l.6-9.1l.5 1.3l.6 8.3l.6-1.5l.5-2.3l.6-6.9l.5 1.8l.6 2.9l.6-1.4l.5 5.3l.6-.5l.5-5.5l.6 3.7l.6-.6l.5 6.8l.6-11.4l.5 .3l.6-3.9l.6 12.3l.5-3l.6-4.7l.5 3.6l.6-.9l.6 2.3l.5-4.4l.6 4l.5 3.9l.6-.7l.6-1.5l.5 1.6l.6-2.2l.5 1.3l.6 2.3l.6-9.6l.5 1.4l.6 7.3l.5 1l.6-6.3l.6 2.8l.5 2.1l.6-1.8l.5-1.9l.6 4.5l.6-1.8l.5-4.1l.6 1.8l.5 1.1l.6-.1l.6 3.6l.5-5.1l.6 5.3l.5-7.3l.6 3.1l.6-1l.5 9.3l.6-6l.5 2l.6-.4l.6-6.6l.5 1.8l.6 .9l.5 .3l.6-1.5l.6-3.8l.5 1.6l.6-.6l.5 5.1l.6 .1l.6 1.3l.5 1.4l.6-3.7l.5 2.3l.6-2.2l.6 5.9l.5-6.1l.6-3.5l.5 1.7l.6-1.4l.6 4.5l.5-9.1l.6 5.4l.5 5.2l.6 .6l.6 .9l.5-7.1l.6 3.9l.5 .3l.6-4.6l.6 5.6l.5 1.5l.6 .8l.5-7.8l.6 1.1l.6 5.7l.5-6.1l.6 6.9l.5-7.7l.6 5.3l.6-2.8l.5-.5l.6-.4l.5-3.6l.6 .4l.6 4.8l.5-.2l.6-4.4l.5 5.3l.6-2.6l.6-1.7l.5 4.4l.6-6.5l.5 6.9l.6-8.4l.6 5.3l.5-.2l.6 1.7l.5-5.8l.6-2.4l.6 1.2l.5 2.5l.6 1.9l.5 .5l.6-.6l.6 3.1l.5-2l.6-7.6l.5 7.4l.6-4.2l.6-4.7l.5 4.5l.6 4.7l.5 .5l.6-6.8l.6 4.4l.5-3.8l.6 3.4l.5-.9l.6-6.7l.6 2.9l.5-2.1l.6 .4l.5-6.1l.6 7.2l.6-1.4l.5 2.5l.6 5.2l.5-6.3l.6-3.6l.6-7.9l.5-2.2l.6-1.7l.5 12.2l.6 3.4l.6-8.2l.5-5.2l.6-1.1l.5 1.8l.6-3l.6 3.5l.5-1.3l.6-16.8l.5 5.9l.6 9.1l.6-10.3l.5 9.3l.6-7.4l.5 .2l.6 1.3l.6-5l.5 7.8l.6-8.1l.5 4.6l.6-12.8l.6 5.4l.5 1.6l.6-1.8l.5-1.6l.6-3.5l.6 2.2l.5 4.8l.6 1.2l.5-1l.6-.2l.6-1.2l.5 6.2l.6 6.8l.5-13.5l.6 12.5l.6-10.2l.5 9.2l.6 5.3l.5-12.3l.6-3.1l.6 4.8l.5 8.3l.6-11.9l.5 13l.6-9.3l.6 16.6l.5 2.6l.6-16.6l.5 6.8l.6 6.8l.6-10.3l.5 12.5l.6-14.5l.5 14.1l.6 4.3l.6-2.8l.5-5.8l.6-11.2l.5 17.6l.6-5l.6 1.7l.5-5l.6-.8l.5 8.9l.6-4.6l.6-2.2l.5 4.4l.6 1.5l.5 1.4l.6-4l.6 3.7l.5 0l.6 1.5l.5-4.7l.6-6.5l.6 14.9l.5 3.6l.6-12l.5 10.2l.6-6.2l.6-2.9l.5-5.4l.6 11.4l.5-9.8l.6 2.7l.6 6.9l.5-1l.6-5.5l.5 9l.6-9.1l.6-2.3l.5 7.2l.6 9.4l.5-5.4l.6 .2l.6-6.1l.5 5.3l.6 2.3l.5-9.3l.6 7.1l.6-.8l.5-1.6l.6 6.6l.5-1.6l.6 .7l.6-3.7l.5-.3l.6 1l.5 5l.6 1.3l.6-5.9l.5 1l.6 .5l.5 4.2l.6 2.1l.6-2.2l.5 3.1l.6-10.9l.5 3.8l.6 2.4l.6-1.2l.5-1.4l.6 4.5l.5 .4l.6 1.7l.6-2.8l.5-5.9l.6 3.5l.5 1.6l.6 2.6l.6-2.5l.5-5.7l.6 6.5l.5 2.7l.6-4.7l.6 1l.5-1.8l.6 6.1l.5-4.3l.6 2.3l.6 1.4l.5-5.6l.6-1.8l.5 2.9l.6 4l.6-3.6l.5 6.6l.6 3.3l.5-8.4l.6-1.3l.6 1.4l.5 1.8l.6 1.1l.5-3.8l.6 3l.6 .2l.5 7.6l.6-6.9l.5-2.4l.6-3.5l.6-1.6l.5 11.6l.6-9.9l.5 9.5l.6-3.8l.6-1.4l.5 2l.6 3.3l.5 .5l.6-1.6l.6-4.6l.5 6.3l.6-3.1l.5 1.5l.6-4l.6-1.8l.5 1.7l.6 2.4l.5-4l.6 3.6l.6 1.1l.5-3.9l.6 5.6l.5-4.2l.6-2.3l.6 4.3l.5 .4l.6-6.4l.5 9.9l.6-3.2l.6-3.2l.5-.8l.6 3.2l.5-1.3l.6 3l.6 .2l.5-8.1l.6 7.6l.5-5.8l.6 4l.6-.7l.5-1l.6 .1l.5 2.4l.6-2.8l.6 8.3l.5-4.5l.6-.9l.5-.6l.6-1.5l.6 6.5l.5-4.5l.6 1.8l.5-1.3l.6-4.5l.6-2.3l.5 2.9l.6 3l.5 1l.6-2.4l.6-.1l.5 6.1l.6-5.9l.5 1.2l.6 0l.6 4.6l.5-7.1l.6 3.6l.5 2.8l.6-7.1l.6 9.3l.5-6.9l.6 .2l.5-2.6l.6 5.9l.6 0l.5-3.9l.6 4.3l.5-.5l.6-1.8l.6 1.1l.5 .7l.6 2.1l.5 .2l.6-5.7l.6 .2l.5 3.9"/>
<path class="cv" stroke="#000080" stroke-width="4.6" d="M139 1824.8l.6 10.8l.5 1.8l.6 3.2l.5 11l.6-15.9l.6 2.3l.5 17.4l.6-14.3l.5-.3l.6 9.3l.6-15.1l.5-14.4l.6 12l.5-7l.6 34.2l.6-2.5l.5-9.9l.6-5.3l.5-3.8l.6 15.3l.6-18.1l.5 18l.6-13.3l.5 3.8l.6-8.5l.6 25.9l.5-29.4l.6 21.5l.5-7l.6 8.3l.6-5.2l.5-10.2l.6 8.3l.5-9.6l.6-7.1l.6 22.6l.5-23.5l.6 12.9l.5 13.6l.6-17.4l.6 7.6l.5 17.4l.6-30.8l.5 10l.6 8.7l.6 6.4l.5-18.5l.6 8.8l.5-12.1l.6 11l.6-8.4l.5 16.8l.6-1.9l.5-16.8l.6 10.3l.6 14.2l.5-28.1l.6 15l.5-9.9l.6 16.6l.6-3.1l.5-15.5l.6 7l.5-12.4l.6 18.2l.6 10.1l.5-23.6l.6 24l.5-18.8l.6 16l.6-2l.5 3.8l.6-2.6l.5-13.1l.6 14.3l.6-4.6l.5 2l.6-16.1l.5 22.1l.6-6.5l.6-13.1l.5 6.9l.6 16.4l.5-9.7l.6-12.9l.6 18.4l.5-21.3l.6 21.5l.5-3.3l.6 1l.6-6.4l.5 3.8l.6-5.8l.5 9.9l.6 1.2l.6 4l.5-17l.6-6.2l.5 20.1l.6-22.6l.6 11.6l.5-1l.6 9.7l.5-5.6l.6 4.2l.6-14.8l.5 10l.6 3.1l.5-.1l.6 1.4l.6-18l.5-3.3l.6-3.6l.5 26.3l.6-2.7l.6 3.7l.5-4l.6-6.1l.5-4.9l.6 14.7l.6 13.5l.5-18.2l.6-21.3l.5 21.7l.6 8.1l.6-5.4l.5-10.2l.6-16.5l.5 21.4l.6 6.6l.6-21.4l.5-12.6l.6 34.5l.5-26l.6-1.1l.6-9.4l.5 25l.6 1.4l.5-17.5l.6 12.8l.6-10.1l.5 10.7l.6 5l.5-7.5l.6-9.6l.6 4.5l.5-15.1l.6-1l.5 6l.6 25.5l.6-20.4l.5 7.9l.6-19.7l.5 25.2l.6-3.8l.6 .3l.5 8.4l.6-25l.5 10.5l.6-15.8l.6 9.4l.5 12.6l.6 3.7l.5-1.8l.6-5.2l.6-10.3l.5-10.4l.6 30.1l.5-23.9l.6 .3l.6 12.3l.5-9.3l.6-5.1l.5-1.9l.6 6l.6 24.5l.5-33.8l.6-2.8l.5 22l.6-.7l.6-18.4l.5 3.8l.6 3.4l.5 14.9l.6-9.4l.6 7.9l.5-14.2l.6-5l.5 8.3l.6 .9l.6 1.8l.5 11l.6-27.1l.5 8.9l.6 23.2l.6-10.6l.5-14l.6 6.5l.5 13.6l.6 3.7l.6-20l.5 3.7l.6-5.9l.5 6.6l.6-20l.6 10.6l.5 18.8l.6-8.5l.5 2.6l.6 10.3l.6-13.6l.5 5.4l.6-1.4l.5-31.3l.6 24.2l.6 14.5l.5-32l.6 6l.5 14.9l.6 9.4l.6-22.2l.5 14.5l.6 14l.5-16.1l.6 6.9l.6 4.9l.5-21.8l.6 24.8l.5-10.1l.6-6.2l.6 10.5l.5-16l.6 17.4l.5 1.4l.6-21.2l.6 27l.5-8.5l.6 2.3l.5 9.6l.6-5.4l.6-14.3l.5 .4l.6 16.5l.5-21.9l.6 14.4l.6-4.5l.5 11.4l.6 4.4l.5-15.1l.6-6.6l.6 24.7l.5-.9l.6-15.4l.5-4.4l.6-4.9l.6 26.5l.5 5.5l.6-9.9l.5 17.8l.6-53.2l.6 33.8l.5-12.3l.6 21.1l.5-13.1l.6 23.6l.6-28.2l.5 .8l.6-1.6l.5 4.2l.6 8.7l.6 12.4l.5-18.2l.6 14.6l.5 6.6l.6-13.7l.6 1.9l.5 19.9l.6-11l.5 1.4l.6-3.5l.6-26.6l.5 13.5l.6 7.8l.5 6.8l.6-5.1l.6 .5l.5-17.7l.6 12.7l.5 5.6l.6 12.9l.6-24.1l.5-2.1l.6 15l.5 14.3l.6-16.5l.6 4l.5-3.7l.6 1.6l.5-6.7l.6 9.3l.6 7.5l.5-.9l.6 4.1l.5-12.1l.6-4.5l.6-3.8l.5 17.2l.6-16l.5 23.3l.6 1.2l.6-6.4l.5 3.5l.6-.5l.5-8.3l.6 10.2l.6-19.2l.5 9.7l.6 7.1l.5 6.1l.6-3.7l.6-4.9l.5-11.5l.6-9.5l.5 9.8l.6 22.8l.6-32l.5 28.6l.6-11.1l.5-11.4l.6 .1l.6 19.1l.5-3.2l.6-12l.5-2.2l.6 5.9l.6-1l.5-1.6l.6-3.9l.5 12.4l.6 5.2l.6-14l.5 5.3l.6-3.9l.5 13.4l.6-9.1l.6 13.2l.5-8.2l.6-8l.5 14l.6 8.3l.6-17.9l.5 5.7l.6 4.3l.5-2.4l.6 5.1l.6-5.3l.5 5.2l.6-14.7l.5 2.7l.6 .4l.6 1.1l.5-9.4l.6 1.5l.5 2l.6 3.3l.6 18.7l.5 1.8l.6-17.8l.5-1.1l.6 5.5l.6-3.5l.5-9.8l.6 24.2l.5-1l.6-2.4l.6-3.3l.5 4.3l.6-17l.5-1.2l.6 17.4l.6-4.3l.5-5.4l.6 11.1l.5-6.9l.6 4.7l.6 10.9l.5-5.4l.6-.2l.5-12.1l.6 13.3l.6-19.7l.5 3.6l.6 5.6l.5 9l.6 3.4l.6-19l.5 19.7l.6-20l.5 8.7l.6 5.1l.6-1.7l.5-6.3l.6 11.8l.5-10.7l.6 8.9l.6-23.9l.5 25.9l.6 2.8l.5-20.7l.6 8.5l.6 7.9l.5-5.7l.6 5.3l.5-7.7l.6 6.2l.6-12.5l.5-1.9l.6 10.7l.5-2.1l.6 4.6l.6 1.2l.5-7.1l.6 11.5l.5-16.5l.6 20l.6-17.2l.5 7.2l.6 14.6l.5-16.6l.6 13.1l.6-19.3l.5 12.3l.6 2.3l.5-2.4l.6-15.3l.6 2.7l.5 19.1l.6-.6l.5-6.7l.6-5.8l.6-9.2l.5 9.5l.6 6.6l.5-13.2l.6 10l.6 9.8l.5-17.9l.6 3.1l.5 8.9l.6 7l.6-.2l.5-13.4l.6 5.6l.5-5.8l.6 3l.6-10.1l.5 14.5l.6-8.8l.5-7l.6 14.4l.6-2.5l.5-13.8l.6 14.8l.5-3.4l.6 10.9l.6-14.9l.5-5.8l.6-5.3l.5 14.4l.6-8.8l.6 17.6l.5-12.1l.6 9l.5-.4l.6 .7l.6 6l.5-28l.6 2.6l.5 27.2l.6-13.4l.6 6.8l.5-6.2l.6 .8l.5 .2l.6 9l.6-8.9l.5-2.1l.6-9.2l.5-4.6l.6 17.7l.6-1.6l.5 7.5l.6-18.5l.5 10.7l.6-1.7l.6-16.9l.5 21.8l.6-10.6l.5 4.7l.6-9.6l.6 .9l.5 19.8l.6-27.1l.5 1.5l.6 10.9l.6-3.7l.5 1.1l.6-24.8l.5 12.7l.6 6.9l.6-3.7l.5 8.4l.6 11l.5-12.1l.6-9.8l.6 12.3l.5-8.5l.6 .2l.5 10.2l.6-19.5l.6 17.1l.5-6l.6-3.8l.5 3l.6-9.9l.6 24.8l.5 .8l.6-18.1l.5 8.2l.6 5.1l.6-2.1l.5-16.4l.6 27.9l.5-23.3l.6 .4l.6 .3l.5 6.2l.6 4l.5-10.9l.6-1l.6-19.1l.5 28.4l.6-30.5l.5 11l.6 14.5l.6-12.4l.5-2.4l.6-.3l.5 4.4l.6 2.2l.6 2.2l.5-11.7l.6 17l.5-16.6l.6 21.8l.6-13.3l.5-1.2l.6-4.4l.5 4.2l.6 11.3l.6-6.6l.5-12.2l.6 25.2l.5-21l.6 9.2l.6 12l.5-15.5l.6 9.3l.5-11.9l.6 10.7l.6-26.9l.5 13l.6 8.3l.5 7.8l.6-24l.6 6.8l.5 9.8l.6-17.3l.5 20.6l.6-6.1l.6-2.4l.5-20.8l.6 17.3l.5-10.4l.6 2.2l.6-5.6l.5 25.4l.6-12.3l.5-2.2l.6 15.8l.6-7.2l.5 .7l.6-1.2l.5-28.4l.6 8.7l.6 9.7l.5-12.2l.6 14.4l.5 3.5l.6-14.2l.6-5l.5-2l.6 25.4l.5-12.2l.6 9l.6-30.9l.5 27.7l.6 4l.5-15.1l.6-7.6l.6 7.1l.5 1.3l.6 6.5l.5-18.5l.6 17.2l.6-14.3l.5-4.6l.6-8l.5 21.4l.6-8.4l.6-1.7l.5-24.8l.6 20.9l.5 10.3l.6-14l.6-10.7l.5 10.1l.6-22.6l.5 40l.6-19.1l.6 15.9l.5-18.9l.6 8.2l.5-23.5l.6 26.8l.6 6l.5-28.1l.6 15l.5-31.2l.6 4.2l.6 19.3l.5-26.1l.6 20.4l.5 24.7l.6-44.5l.6 20.8l.5-.9l.6 23.7l.5-52.3l.6 4.4l.6 18.1l.5-28.1l.6-6.3l.5 16.9l.6 1.3l.6-18.1l.5 8.2l.6 6.7l.5-16.8l.6 7.3l.6 20.3l.5-31.6l.6 21l.5-2l.6 1.8l.6 3.4l.5-6.7l.6-27.9l.5 15.3l.6 5.2l.6-10.4l.5-29.9l.6 11.8l.5-21.9l.6 2.2l.6-3.2l.5 22l.6-15.3l.5-27l.6 2.5l.6-7.9l.5 27l.6-25.8l.5-54.1l.6 31.4l.6 12.3l.5-27.4l.6-17l.5 12.7l.6-9.1l.6-47.2l.5 9.8l.6-10.5l.5-37.2l.6 46.2l.6-32.9l.5-57.4l.6-28.5l.5 34l.6-18.4l.6-8.3l.5-27.5l.6 8l.5 27.3l.6-22.1l.6 28.6l.5 30.3l.6-21.9l.5 38.3l.6 17.7l.6 29.6l.5 31l.6-20.3l.5 7.1l.6 22.7l.6 14.1l.5 13.5l.6 25.6l.5 5.4l.6-20.6l.6 31.7l.5-16.9l.6 19.4l.5 24.1l.6-26.3l.6 49l.5-37.4l.6 2.7l.5 9l.6 29.3l.6 12.2l.5 5.2l.6-15.7l.5 2.6l.6-3.4l.6 24.9l.5 .2l.6 15.3l.5-26l.6-10.6l.6 2.1l.5 34.1l.6-4.4l.5-23.4l.6 0l.6 26.6l.5 4.4l.6-10.6l.5 17.9l.6-9.6l.6 10.6l.5-22l.6 19.1l.5-2.2l.6 17l.6-30.2l.5 8l.6-7.2l.5 19.4l.6-29.2l.6 20.5l.5-5l.6 29.3l.5-29.5l.6 33.3l.6-16.9l.5 15.8l.6-26l.5 15.1l.6 1.5l.6 7.2l.5-8.7l.6 18.9l.5-29.1l.6 18.8l.6-18.5l.5 7.7l.6 21.7l.5-38.7l.6 7.7l.6 6l.5 9.6l.6-17l.5 16.1l.6-3.2l.6 18.3l.5-32.8l.6 34.5l.5-14.8l.6 7.8l.6-31.7l.5 24.5l.6-21.6l.5 26.2l.6-7l.6-22.7l.5 31.5l.6 .5l.5-17.3l.6 1l.6-17.4l.5 .5l.6 15.7l.5 .5l.6-.8l.6 2.7l.5 10.4l.6-18.7l.5 .3l.6 21.5l.6-15.7l.5 .7l.6-20.5l.5-1.6l.6 8l.6 7.9l.5-25.8l.6 35l.5-8.8l.6-4.9l.6 24l.5-21l.6-8.8l.5 22.7l.6 9.3l.6-18.5l.5-24.4l.6 9l.5-6.9l.6 16l.6 1.4l.5-15l.6-3.3l.5 3.8l.6-.5l.6-14.8l.5 29.2l.6-4l.5-10.2l.6-5.8l.6 4.2l.5 5l.6-2l.5 7.2l.6-11.2l.6 14.5l.5-5.4l.6-.6l.5-14.3l.6 7.6l.6-16l.5 24.7l.6 10l.5-3.2l.6-22.8l.6-1.2l.5 4.5l.6-6.1l.5 .6l.6 2.5l.6-7.5l.5-2l.6 33l.5-27.8l.6-2.4l.6 3.3l.5 7.4l.6-12.5l.5 3.3l.6 17.6l.6-24.9l.5 1.1l.6 38l.5-24.2l.6 .3l.6 8.3l.5 .2l.6-2.4l.5-4.1l.6 8.6l.6 8.2l.5-14.3l.6-1.9l.5-2l.6-10.9l.6 19.5l.5-13.7l.6 24.6l.5-35l.6 27.3l.6-34.8l.5 12.8l.6 21.7l.5-.7l.6 1.4l.6-19l.5 19l.6-4.3l.5 16l.6-22.2l.6 15.7l.5 0l.6-16.2l.5 6.7l.6 1.1l.6 1.9l.5-14.3l.6 16.8l.5-4.1l.6 8.4l.6-33.8l.5 31.7l.6-5.4l.5 1.5l.6-15.1l.6 25.4l.5-3l.6 6.4l.5 3l.6-20.1l.6 13.6l.5-4.4l.6-14.5l.5-21.4l.6 22l.6 1.8l.5 20.5l.6-25.5l.5 23.9l.6-5.6l.6 5.4l.5-.5l.6-9.5l.5 2.9l.6-23.3l.6 19.7l.5 5.2l.6-2.8l.5 2.1l.6-7.7l.6 33l.5-38.9l.6 22.4l.5 2.7l.6-2.8l.6-8.9l.5 12l.6-6.6l.5-13.5l.6 19.1l.6-7.3l.5-8.7l.6 26.1l.5-14.5l.6 13.7l.6-.2l.5-.4l.6-2.2l.5 9.9l.6-29.9l.6 2.2l.5 15.3l.6-9.4l.5 36.3l.6-3.7l.6-4.5l.5-21.1l.6-6.8l.5 36.8l.6-36.6l.6 7.6l.5 4.4l.6-3.1l.5 6l.6 12.1l.6-2.1l.5 2.5l.6-6.1l.5 3.2l.6-6.4l.6-.3l.5 2.6l.6 26.9l.5-39.7l.6 21.9l.6 9.6l.5-20.9l.6 25.3l.5-27.9l.6 26.9l.6-33.5l.5 32.3l.6-9.3l.5-.5l.6 1.6l.6 1.9l.5-7.1l.6 16.1l.5-13.1l.6 13.6l.6-7l.5-10.4l.6 18.3l.5-11.4l.6-21.5l.6 3.2l.5 5.2l.6 15l.5-14l.6-5.4l.6-5.9l.5 33.4l.6-15l.5 5.4l.6-16l.6 28.7l.5-9.4l.6 3.1l.5 4.5l.6-17.1l.6 1.1l.5-10.9l.6 31.2l.5-5.5l.6-2.5l.6-25.4l.5-.7l.6 5.9l.5 16.3l.6-27.9l.6 33.7l.5-34.3l.6 27l.5 9.2l.6-16.8l.6-.6l.5 19.1l.6-6.8l.5-25.6l.6 3.4l.6 6.4l.5-3.3l.6 1.7l.5 2.2l.6-3.7l.6 9.3l.5 9.2l.6 8.2l.5-27.6l.6-.5l.6 13l.5-24.2l.6 19.4l.5 7.7l.6-6.2l.6 7.3l.5-21.7l.6 2.2l.5 3.6l.6-5.4l.6 1.6l.5 1.6l.6 1.4l.5-1.4l.6 11.6l.6-2.3l.5-5l.6 27.5l.5-2l.6-27.4l.6-5.6l.5 4.7l.6 24.3l.5-21.6l.6 17.7l.6-26.3l.5 19l.6 2.4l.5-16.7l.6-6.9l.6 5.7l.5-6.8l.6 16.6l.5 4.7l.6-17.4l.6-5.3l.5 25.4l.6-19l.5-1.2l.6 14.1l.6 2.9l.5-12.2l.6 8l.5 8.9l.6-.8l.6-15.1l.5 17l.6-6.3l.5 .5l.6-1.3l.6 8.8l.5-3.8l.6-17l.5-1.2l.6 3.8l.6 6l.5 12.6l.6-9l.5 9l.6-12.5l.6-3.6l.5 18l.6-16.4l.5 11.6l.6-15.4l.6 5.2l.5 5.6l.6 9.6l.5 9.3l.6-22.8l.6 10.3l.5-8.8l.6 18.8l.5-14.9l.6 15.9l.6 .4l.5-2.8l.6 9.5l.5-6.6l.6-4.2l.6-14.7l.5 22.3l.6-17.2l.5 3.5l.6-4.6l.6 10.9l.5 16.3l.6-15.7l.5-12.5l.6 11.4l.6-4.7l.5 17.1l.6-6.3l.5-5.3l.6-1.8l.6 6l.5-11l.6 12.9l.5 8.5l.6 3.3l.6-16.8l.5 13.1l.6 3.8l.5 2.9l.6-7.9l.6-1.4l.5-11.7l.6-2.3l.5 3.2l.6 4l.6-8.4l.5 15l.6 1.9l.5-9.3l.6 4.6l.6 14.5l.5-18.9l.6-8.2l.5 11.3l.6-9.4l.6 11.4l.5 9.1l.6-8l.5-12.9l.6 9.7l.6 13.4l.5-25.9l.6 1.1l.5 17.8l.6-4.1l.6 7.3l.5-19l.6 6.5l.5-.2l.6 9.8l.6-1.3l.5-7.7l.6-10.6l.5 23.6l.6-5.2l.6-11.4l.5 4.7l.6-1.1l.5 12.9l.6-4.8l.6-2.7l.5-8l.6 5.2l.5 3.1l.6 8.2l.6-13.8l.5 7.1l.6-20.3l.5 6l.6 18.6l.6-4.9l.5 5.2l.6-12.5l.5-16.8l.6 28.9l.6-4.9l.5 2.1l.6-.5l.5 4.8l.6-5.7l.6-13.6l.5 1.4l.6-2l.5 10.8l.6-14.9l.6 5.7l.5-17.1l.6 37.1l.5-18.4l.6-1.8l.6-.8l.5-9l.6 19.5l.5-10l.6 3.2l.6-1.5l.5 .2l.6-9.1l.5-6.3l.6 18.1l.6 7l.5-14.3l.6-16.9l.5 13.4l.6 13.6l.6-10.2l.5 6.7l.6-9.8l.5-18.7l.6 23l.6-1.8l.5-2.6l.6-4.1l.5-9.8l.6 27.5l.6-10.9l.5-16.5l.6 9.8l.5 6.2l.6-7.5l.6-13.1l.5 12.4l.6-4.9l.5-3.6l.6-9.9l.6 6.4l.5 4.5l.6-5.7l.5-10l.6 31.9l.6-2.5l.5-7.8l.6-19.2l.5 27.1l.6-35l.6 25.8l.5-31l.6 13.8l.5-2.7l.6-.3l.6 2l.5-21.5l.6 20.5l.5-4.4l.6 .3l.6-2.2l.5-12.9l.6-6.8l.5-8.2l.6 9.2l.6 12.4l.5-9.8l.6 29.3l.5-23l.6 3.4l.6 17.5l.5 12.6l.6-16.5l.5 7.1l.6-.5l.6-5.1l.5-4.2l.6 3.9l.5-11.6l.6 25.9l.6-9l.5 5.4l.6-8.8l.5-1.8l.6 12.4l.6 16.6l.5-7.9l.6-14.6l.5 14.1l.6-2l.6-1.6l.5 8.8l.6 7.9l.5-21l.6 2.6l.6-5.1l.5 17l.6-10.1l.5 9.1l.6-10.5l.6-9.7l.5 2.7l.6 15.4l.5-9l.6-7l.6 14.8l.5-8.4l.6 7.9l.5 20.5l.6-27.1l.6 7.7l.5 16.7l.6-8.2l.5 1.8l.6-12.7l.6 .9l.5 13l.6-11.4l.5-1.2l.6 2.5l.6 .7l.5 .3l.6 9l.5 3.6l.6 4.5l.6 1.6l.5-10.6l.6 7.9l.5 3.7l.6-8.4l.6-4l.5 20.3l.6-13l.5 13.3l.6-15.8l.6 4.3l.5-11.3l.6 17.7l.5 2.6l.6-9.8l.6 10.9l.5 5.2l.6-11.8l.5-2.5l.6 1.7l.6-7.2l.5 14.6l.6 6.3l.5 7.4l.6-.8l.6-17.5l.5 8.7l.6-4.9l.5-.1l.6-1.2l.6-1.4l.5 13.5l.6-13.4l.5-9.1l.6 13.4l.6 6l.5-16.1l.6 1.2l.5 .1l.6-5.5l.6 10.1l.5 5l.6-7.5l.5 3.9l.6 9.2l.6-6.9l.5-3.8l.6 10.2l.5 5.5l.6 .1l.6-21.2l.5 7.5l.6 2.3l.5-7.4l.6-5.9l.6-1l.5 13.5l.6-6.1l.5 9.2l.6-9.7l.6 25.5l.5-12.8l.6-3.7l.5-11.3l.6 .7l.6 4l.5-2.5l.6-1l.5 .2l.6 20l.6-12.8l.5 15.8l.6 1.5l.5-14.8l.6-5.6l.6 16l.5-6.5l.6 5.5l.5-19.6l.6 14.4l.6-4.6l.5 4l.6-4.4l.5-5.7l.6 7.6l.6 1.8l.5-4l.6 12.2l.5 1.1l.6-25.8l.6 20.4l.5-2.1l.6-3.3l.5 3.6l.6-9.6l.6 11.9l.5-5l.6-3.5l.5-13.6l.6 10.6l.6-2.2l.5-2.7l.6-.6l.5-9.1l.6 10.6l.6-2.2l.5 6.9l.6 9.7l.5-23.6l.6 4.1l.6 6.3l.5 9.1l.6-8.1l.5-3.1l.6 9.4l.6-19.3l.5 10.6l.6 9l.5-8.2l.6-15.9l.6 12.2l.5-3.3l.6 6.4l.5 4.7l.6 .8l.6-6.6l.5-.5l.6 4.2l.5-11.6l.6 9.2l.6-5.7l.5 10.9l.6-10.5l.5-10.9l.6 11.1l.6 6.3l.5-1.2l.6-2.2l.5-3.7l.6 .4l.6 3.7l.5-12.6l.6 12.8l.5-2.4l.6-4.8l.6-10l.5 5.6l.6 0l.5 3.3l.6 1.3l.6 11.2l.5-6l.6-6.3l.5 12.3l.6-2.7l.6-7.6l.5-13.4l.6-2.4l.5 12.7l.6-.8l.6 8.2l.5-11.4l.6-9.6l.5 1.7l.6 3.7l.6-6.7l.5 3.9l.6 1l.5 5.4l.6-1.2l.6-7.8l.5-3.8l.6 22.6l.5-6.5l.6 4.2l.6-12.4l.5-7.4l.6 8.3l.5-5.5l.6-.7l.6 16.5l.5-26.5l.6 12l.5-4.5l.6 8.6l.6-8.9l.5-4.4l.6 5.4l.5 18.5l.6-11.5l.6-4.1l.5-1.6l.6-2.5l.5 15.8l.6-10l.6-5l.5 16.9l.6-20.4l.5-13.9l.6 30.6l.6-23.2l.5 12.7l.6-15.6l.5-1l.6 11.6l.6-16.6l.5 23.1l.6 4.8l.5-21.3l.6-9l.6 19l.5 14.3l.6-20.7l.5 11.8l.6 7.1l.6-18.3l.5 19.1l.6-3.6l.5-10.8l.6-11l.6 10.8l.5 .3l.6-12.3l.5-3.4l.6-1.8l.6 13.4l.5-10.6l.6 7.6l.5-1l.6 10.7l.6-16.9l.5 34l.6-26.3l.5-1.8l.6-4.5l.6 10.3l.5-16.1l.6 15l.5 1.8l.6 16.1l.6-18.1l.5 12.7l.6 3.5l.5-15.6l.6-6l.6 8.9l.5 25.8l.6-11.9l.5-23.5l.6 19.1l.6-8.4l.5-6.9l.6 1.5l.5 16.7l.6-15.9l.6 16.6l.5-14.1l.6 3l.5 2.1l.6 14.9l.6-20.3l.5 13.9l.6 7l.5-7.7l.6 11.2l.6-15.7l.5-23.4l.6 25l.5 11.5l.6-34.1l.6 38.4l.5-15.6l.6 20.9l.5-35.9l.6 15.4l.6 1.7l.5 6.2l.6-16.7l.5 11.8l.6 6.5l.6-22.9l.5 13.7l.6 17l.5-2.3l.6-22.7l.6 23.8l.5-7.4l.6 1.1l.5-6.1l.6 15.2l.6-10l.5 5.8l.6-7l.5 14.1l.6-7.9l.6 1.6l.5-11.4l.6-1.7l.5 17.9l.6-2.6l.6-23l.5 6.9l.6 7.8l.5-7.3l.6 5.4l.6-.5l.5 4l.6 5.9l.5-5.7l.6-2.6l.6 6l.5-9.5l.6 .4l.5-.8l.6 19.7l.6-15l.5 11.3l.6-7.6l.5-14l.6 20.8l.6-11.1l.5-4.9l.6 13.5l.5-19.3l.6 7.3l.6-7.3l.5-3.7l.6 19.9l.5-4.1l.6 6l.6 4l.5-5.4l.6-14.2l.5-.6l.6 25.7l.6-21.7l.5 13l.6 5.8l.5 1.6l.6-17.6l.6 4.2l.5-20.4l.6 7.3l.5 16.8l.6-6.7l.6 7.3l.5 4.9l.6-31.5l.5 13.5l.6 10.1l.6 3.3l.5-8.2l.6 11.2l.5-12.8l.6-3.2l.6 4.5l.5-10.7l.6 10.1l.5-16.2l.6 14.4l.6-5.6l.5-13.4l.6 30l.5-16.7l.6-.3l.6 22.7l.5-19.1l.6 4.3l.5-11.1l.6 8.6l.6-12.5l.5 15.7l.6-24.1l.5 14l.6 0l.6-14.6l.5 17.9l.6 4.1l.5-11l.6 2.1l.6 2.7l.5-8l.6-26l.5 2.9l.6 17.6l.6-4.3l.5 2.3l.6 7.3l.5-15.9l.6-9.8l.6 17.6l.5-25l.6-7.2l.5 25.1l.6-27.8l.6 11.5l.5-16.2l.6 33.2l.5-43.2l.6 7.4l.6 4.7l.5-4l.6-7.7l.5 22.9l.6-35.4l.6 33.3l.5-39l.6 25.1l.5 11.6l.6 7.8l.6-29.1l.5-15.1l.6 39.2l.5-21l.6 3.4l.6-3.1l.5 14.2l.6-20.7l.5 11.2l.6 15.4l.6-23.5l.5 26.9l.6-4.2l.5 22.4l.6-30l.6 39.6l.5-37.1l.6 18.2l.5-8.3l.6 3.1l.6 4.8l.5 10.4l.6 23l.5-27l.6 12.3l.6-10.9l.5 10.8l.6-24.5l.5 37.1l.6-17.1l.6-1.8l.5-5.2l.6-4.6l.5 9.1l.6 17.5l.6-18.7l.5 5.5l.6 20.8l.5-.4l.6-3.9l.6-2.9l.5 6.2l.6-8.1l.5 15.8l.6-21.6l.6 .9l.5 24.8l.6-25.6l.5 7.8l.6 1l.6 18l.5-14.7l.6 5.3l.5-7.6l.6 22.1l.6-18.7l.5 1.7l.6-2.6l.5-5.7l.6 6.3l.6-11l.5 15.4l.6-.3l.5 6.6l.6 4.3l.6-12.6l.5 10.6l.6 6.7l.5-7.4l.6-.4l.6-9l.5-7.8l.6 27.7l.5-14.5l.6 8.4l.6-8l.5-4.7l.6 13.2l.5 7.1l.6-12l.6-1.6l.5 1.4l.6 8.6l.5 2l.6-14.6l.6 9.1l.5-3l.6-4.6l.5 1.3l.6 10.7l.6-1.3l.5-.6l.6-1.2l.5-3.9l.6-1.2l.6-.9l.5-3.1l.6-1.5l.5 9.8l.6 6.4l.6-10.4l.5 5.6l.6-11.8l.5 5.3l.6-10.4l.6 23l.5-16.6l.6 12.3l.5 .8l.6-3.3l.6 10.3l.5-17.6l.6 18.4l.5-6.6l.6 8.9l.6-20.5l.5 8.7l.6-5.5l.5 7.4l.6-5.7l.6-2.7l.5 10.6l.6 5.6l.5-11.6l.6 12.2l.6-6.3l.5-3.1l.6 1.1l.5-2.3l.6-.1l.6 5.5l.5 3.2l.6 5.4l.5-23.7l.6 21.6l.6 3l.5-1.2l.6-4.6l.5 2.1l.6-13.8l.6 1.2l.5 8.1l.6-1.6l.5 4l.6-3.4l.6 7l.5-5.2l.6-7.2l.5 12.5l.6-3.5l.6-12.7l.5 2.8l.6 .8l.5 20.4l.6-7.4l.6-8.1l.5-6l.6 6.6l.5-8.2l.6-.1l.6 2.7l.5 6.8l.6 .7l.5-4.4l.6-1.9l.6-5.8l.5 9.1l.6-6.9l.5 4.6l.6-3.9l.6 11.3l.5-5.7l.6 1.4l.5-9l.6 2.3l.6 11.2l.5 5.1l.6-15.3l.5 14.3l.6-11.1l.6-.3l.5-5.5l.6 21.8l.5-18.2l.6 14.5l.6-14.6l.5 12.4l.6-3.4l.5 7.2l.6-13.9l.6-8.3l.5 9.7l.6-1.4l.5 7.6l.6 2.2l.6-11.2l.5 12.2l.6-9l.5 3l.6 5.9l.6 6.5l.5-19.6l.6 7.5l.5 1.7l.6 3.3l.6-15.7l.5 17.2l.6-6.7l.5-3.5l.6-6.7l.6 10.9l.5-3.8l.6-12.2l.5 9.4l.6-3.9l.6 1.6l.5 10l.6-2.5l.5-6.9l.6-6.6l.6 5.3l.5 14.5l.6-10.5l.5-.2l.6-14.7l.6 17.3l.5 6.2l.6-12.5l.5-4l.6 20.6l.6-10l.5 5.3l.6-3.6l.5-10.3l.6 9.9l.6-7.2l.5 2.1l.6-7.4l.5 7.5l.6 .7l.6-15.6l.5-5.2l.6 8.3l.5-1.7l.6 13.3l.6-13.8l.5 19.6l.6-12.5l.5 16.2l.6-5.8l.6-27.4l.5 22.9l.6-23.4l.5 5.2l.6 2l.6 6.8l.5 4.4l.6-13.4l.5 5.7l.6-3.3l.6-6.8l.5 15l.6-21.6l.5 12.1l.6-29.2l.6 32.3l.5-24.8l.6-.9l.5 25.2l.6-19.5l.6-3.4l.5 6.3l.6 6.2l.5-9l.6 14.7l.6-11.4l.5-13.9l.6 26.2l.5-8.3l.6 16.1l.6-29.9l.5-11.1l.6 9.2l.5 .9l.6-4.6l.6 16.1l.5 4.3l.6 6.5l.5-5.7l.6-13.4l.6 20.8l.5-13.8l.6 .3l.5-11.8l.6 6.7l.6 4.9l.5 6.2l.6-2l.5-18.3l.6 5.6l.6 21.3l.5-3.7l.6-11.3l.5 2.7l.6 14.9l.6-28.6l.5 8.2l.6 5.2l.5 8.2l.6-5.6l.6-4.6l.5 12.4l.6-5.7l.5 1.8l.6-9.3l.6-3.1l.5 4.7l.6 15.3l.5-23.2l.6 12.9l.6 2.6l.5-24.3l.6 28l.5-19.4l.6-2.5l.6 10l.5-1.8l.6-11.2l.5-7.1l.6 9.5l.6-3.2l.5 3.7l.6-7l.5 24.4l.6-12.5l.6 2.3l.5-3.2l.6 11.7l.5-5.8l.6 17.4l.6-19.5l.5 25.4l.6-8.8l.5-16.7l.6 29l.6-23.8l.5 12.2l.6-10.8l.5 .6l.6 3.6l.6 26.1l.5-9.5l.6-4.6l.5-3.4l.6-8.1l.6 0l.5 16.1l.6-3.9l.5-12.8l.6 8.8l.6 10.6l.5-8.7l.6-6.2l.5 2.9l.6 11.7l.6-.9l.5-5.5l.6 14.2l.5-23.5l.6-6.9l.6 14.9l.5 6.7l.6-8.5l.5-2l.6 17.9l.6-24.9l.5 19.2l.6 .4l.5 1.3l.6-15.5l.6 6.9l.5-5.7l.6 8.2l.5-12.8l.6 6.2l.6 8.3l.5-5.9l.6 15.9l.5-10.3l.6 2.4l.6 7.1l.5-6.3l.6-18.4l.5 9l.6 12.7l.6-8.4l.5 11.6l.6-14.8l.5 13.9l.6-25.9l.6 29.6l.5-10.2l.6-7.2l.5-7.1l.6 16.9l.6-15.5l.5 14l.6-7.2l.5 2.6l.6 3.3l.6-12.9l.5 21.4l.6-17.7l.5 16.2l.6-17.3l.6 11.1l.5-17.5l.6 11.3l.5 3l.6-14.9l.6-4.2l.5 16.1l.6 2.1l.5-16.9l.6 10.9l.6-8.1l.5 10.7l.6-.2l.5-12.7l.6 16.8l.6-10.6l.5 4.5l.6-10.3l.5 11.8l.6-.3l.6-9.1l.5 5.2l.6-10.5l.5 28l.6-17.8l.6-.6l.5-4.4l.6-.8l.5 14.8l.6-11.4l.6 17l.5-19.1l.6 14.1l.5-7.5l.6-20.8l.6 15.3l.5 16.3l.6-17.1l.5-15.1l.6 28.7l.6-22.4l.5 5.1l.6-5.2l.5 10.1l.6-5.2l.6-2.3l.5 6.1l.6-14.2l.5 13.9l.6 3l.6-2.7l.5 14.5l.6-20.9l.5 2.3l.6 8.2l.6-11.4l.5 1.9l.6 4.3l.5-3.4l.6 17.7l.6-22.5l.5 6.9l.6-1.8l.5 8.8l.6-2.2l.6 16.1l.5-15.2l.6-1l.5-1.9l.6 6l.6-5.4l.5 11.7l.6-12.1l.5-10.7l.6 21.3l.6-14.4l.5 6.7l.6-10.4l.5 14.7l.6-9l.6 8.4l.5-3.5l.6 2.8l.5-5l.6 7.9l.6 3.4l.5-11.2l.6 24.2l.5-7.7l.6-11.7l.6-6.6l.5 14.1l.6 5.4l.5-22.6l.6 19.8l.6 10.5l.5-17.2l.6 22.2l.5-14.4l.6 9.8l.6-6.5l.5 8.4l.6-12.7l.5-.2l.6 3l.6 14.4l.5-22.9l.6 16.8l.5-11.2l.6 10.9l.6-6l.5-14.9l.6 16.5l.5-7.3l.6-2l.6-1.6l.5 13.2l.6 .3l.5 2.5l.6-15l.6 10.6l.5-1.8l.6 6.4l.5 5l.6-19.5l.6 15.7l.5-13l.6 5l.5 1.5l.6 4.8l.6-2.7l.5 6.2l.6-21.6l.5 25.5l.6-9.4l.6-.2l.5-9.5l.6-1.4l.5 10.3l.6-3.5l.6 2.7l.5 .5l.6-9.9l.5-2.1l.6 6.4l.6-10l.5 20.6l.6-1.1l.5-14.4l.6-8l.6 25.3l.5-8.2l.6-7l.5-13.6l.6 35.4l.6-20.6l.5-6.9l.6 5.5l.5 5.5l.6-7.9l.6 9.4l.5-4.3l.6 14.1l.5-23.1l.6 1.4l.6 2.6l.5 4.3l.6 2.6l.5 4.8l.6 .3l.6-6.4l.5 7.9l.6-15.6l.5 8.5l.6-9.1l.6 6.6l.5 8.2l.6-1.7l.5-9.8l.6 14.6l.6-5.5l.5-8.9l.6 8.3l.5 3.4l.6-8.7l.6 7.2l.5-3.2l.6-6.2l.5 5l.6 1.9l.6 1.3l.5-25.4l.6 18.2l.5-12.7l.6 4.4l.6 1.7l.5 11.8l.6-7.6l.5 2.2l.6-18.4l.6 10.2l.5 11.9l.6-7l.5 5.2l.6 1l.6-17.9l.5 15.9l.6-9.6l.5-10.6l.6 15l.6-5.8l.5 8.2l.6 13.2l.5-21.2l.6-8.8l.6 .2l.5 18.5l.6 2.9l.5-18.1l.6 11l.6-19.8l.5 11.5l.6 2.5l.5 1.7l.6-6.9l.6-4.3l.5-7.1l.6 2.1l.5-14l.6 20.8l.6 1.5l.5-13.3l.6 8.2l.5-14.2l.6 4.6l.6 19.7l.5-16.8l.6-1.9l.5-16.9l.6 7l.6-.5l.5 8.8l.6 15l.5-5.5l.6-15.3l.6 18.7l.5 6.1l.6-17.5l.5 1l.6-14.6l.6 19.6l.5-23.8l.6 35.1l.5-27.2l.6 5.1l.6-1.8l.5-7.9l.6-1.6l.5 8.2l.6 4.2l.6-7.6l.5 18.5l.6 6.2l.5-24.1l.6 13.4l.6-2l.5-2.5l.6 .3l.5 3.3l.6-1.6l.6 12.8l.5 2.7l.6-29.1l.5 14.3l.6 4.7l.6 17.6l.5-28.1l.6 14l.5-12.7l.6 1.6l.6 18.5l.5-10.2l.6 2l.5-9l.6 8.2l.6 2.2l.5 3.2l.6-21.6l.5 26l.6-7.2l.6-14.1l.5 15.3l.6 14l.5-3.9l.6-11.4l.6 3.1l.5 3.3l.6-1.8l.5 2.6l.6-3.8l.6 14.8l.5 .3l.6 7.6l.5-15.7l.6 20l.6-7.7l.5-7.8l.6 7.8l.5 8.3l.6 5.7l.6 3.6l.5-12.3l.6-.7l.5 8.1l.6-1.4l.6-2.9l.5 1.9l.6-16.2l.5 9.6l.6-1.2l.6 6.1l.5 1.9l.6 2.4l.5-18.5l.6 8.8l.6 7.4l.5 8.3l.6-11l.5 3.3l.6-3.9l.6 8.3l.5-15.6l.6 8.6l.5-3.9l.6 11.9l.6-26.2l.5 7l.6 1.8l.5 2.9l.6 9.5l.6 8.4l.5-6.3l.6-5.1l.5 .1l.6-4.1l.6 12.3l.5-5.1l.6 1.5l.5-20l.6 20.6l.6-7.9l.5 6.6l.6 .5l.5-9.4l.6 3.9l.6 3.8l.5-1.9l.6-2.5l.5 3.2l.6 6l.6 1.2l.5-10.9l.6 8l.5-12l.6 18.8l.6-17.1l.5-.6l.6 13.6l.5-.4l.6 5.1l.6-18.6l.5 6.8l.6-4.2l.5 8.4l.6-3.1l.6-3.9l.5 18l.6-12.9l.5 7.6l.6-7.2l.6 .4l.5-6.6l.6 6.4l.5 10.1l.6-8.1l.6-1.9l.5-11.4l.6 10.6l.5 .5l.6-.6l.6 9.8l.5-19.8l.6 16.8l.5-8.6l.6 7.1l.6-18.3l.5 16.3l.6-13.9l.5 11.8l.6-14.8l.6 4.1l.5 17.5l.6-8.8l.5 13.4l.6-29.2l.6 22l.5-9.1l.6 10l.5-6.6l.6 11.1l.6-8.7l.5-.3l.6 10.8l.5-17.3l.6-3.5l.6 3.9l.5-1l.6-1.7l.5 5.3l.6 13.4l.6-11.8l.5-6.4l.6 3.7l.5 5.6l.6 1.6l.6-4.2l.5 4.5l.6 .4l.5-5.9l.6 23.1l.6-34.1l.5 21.6l.6-19.8l.5 18.5l.6-4l.6-13.8l.5 .5l.6 20.6l.5-6.2l.6-5.1l.6-4.4l.5 2.6l.6-14.4l.5 16.3l.6-7.7l.6 6.4l.5-9.8l.6 10l.5 3.9l.6 2.5l.6-6.6l.5 .8l.6-7.4l.5 11.6l.6-16.8l.6 19.7l.5-7.9l.6 2.5l.5-4.3l.6 2.8l.6-1l.5-10.4l.6 5.1l.5-.4l.6-4.4l.6 18.5l.5-11.1l.6-4.2l.5-4.6l.6 10.1l.6 1.3l.5-12.2l.6 12.6l.5-13.3l.6 16l.6-21.4l.5 12l.6-.7l.5-1.6l.6 3.2l.6 7.1l.5-15.2l.6 18.8l.5-17.9l.6-.1l.6 14.2l.5-10.2l.6-.8l.5 1.3l.6-3.3l.6-4.3l.5 14.6l.6-9.9l.5-4.3l.6 9.5l.6 7.4l.5-21.5l.6 21.2l.5-13.2l.6 11.5l.6-4.8l.5 3.5l.6 4l.5-15l.6 1.1l.6-6.2l.5 14.7l.6 3.9l.5-9.7l.6 2.1l.6-13.6l.5 4.2l.6 8.8l.5-14l.6 26.8l.6-6l.5-21.9l.6 4.4l.5 17.3l.6 7.6l.6-21.8l.5 19.3l.6-21.8l.5-.5l.6 6l.6 3.6l.5 7.4l.6 2.8l.5 .6l.6-5.5l.6 .4l.5 6.4l.6-11.1l.5 .6l.6 2.4l.6 4.2l.5 6.3l.6-4.6l.5-17.2l.6-3.7l.6 20.8l.5-9.8l.6 11.6l.5-3.1l.6-16.3l.6 12l.5-9.2l.6 17.5l.5-11l.6-4.7l.6-3.3l.5 3.1l.6-.2l.5 10.3l.6 9.7l.6-10.3l.5-1.9l.6 15.7l.5-24.8l.6 9.3l.6-3.8l.5-7l.6-2.4l.5 10.4l.6 5.5l.6 3.9l.5 .1l.6-9.1l.5-17.4l.6 13.8l.6 19.2l.5-17.9l.6 1.8l.5 4.9l.6-9.8l.6 2.5l.5 6.8l.6-10l.5 4.6l.6 7.7l.6 3.3l.5-10.3l.6 2.4l.5 14.5l.6-5.5l.6 .6l.5-10.7l.6-14.6l.5 12l.6 21.9l.6-8.3l.5-3.6l.6 4.3l.5-.8l.6-15.9l.6 2l.5 10.3l.6-10l.5 16.8l.6-12.8l.6-12.5l.5 18.2l.6 2.5l.5-16.4l.6 10.4l.6 2.8l.5-9.2l.6 9l.5-9.7l.6 8.3l.6 .1l.5 2.4l.6 0l.5-6.6l.6 8.4l.6 1.6l.5-8.5l.6 8.8l.5 11l.6-21l.6-.4l.5 9.2l.6-8.3l.5 1.4l.6-2.6l.6 17.8l.5 4l.6-12.4l.5 6.2l.6-8.9l.6 3.3l.5-.3l.6-3.1l.5 14.4l.6-6.1l.6-5.4l.5 10.6l.6-7.3l.5 2.1l.6-5.3l.6-2.2l.5 8.3l.6 3l.5-.7l.6-1.3l.6-8.1l.5 9.5l.6-13.4l.5-.7l.6 23l.6-13.5l.5 11.6l.6-6.4l.5-9.9l.6 2.1l.6 10.5l.5-5.3l.6 2.5l.5 2.5l.6-6.9l.6-5.4l.5 .7l.6 13l.5-17.5l.6 17.4l.6-9.6l.5 4.2l.6-13.8l.5 18.3l.6-6.6l.6 1.7l.5-6.6l.6 12.5l.5-12.9l.6-1.8l.6-.9l.5 14.1l.6 2.3l.5-2.8l.6-14.6l.6 7.9l.5 11.9l.6-1.7l.5 3.6l.6-21.7l.6 14.3l.5-7.5l.6 7l.5-4.9l.6 2.7l.6-8.7l.5 7.6l.6 3.9l.5-4.3l.6 5.5l.6-1.1l.5-1.7l.6-3.6l.5 6.8l.6-13.5l.6 15.2l.5-8.3l.6 8.4l.5-8.1l.6 8.7l.6-3.2l.5 3l.6-2.1l.5-11.9l.6 8.3l.6-4.3l.5 5.5l.6-4.4l.5 11.6l.6-4.1l.6-9.7l.5 7.2l.6-6.1l.5 3.2l.6 .8l.6-3.4l.5 1.1l.6 2.7l.5 2.2l.6 6.6l.6-9.7l.5 17.4l.6-22.7l.5 6.3l.6-4.9l.6 9.5l.5-.9l.6-11.1l.5 11.7l.6-8.7l.6 5.4l.5 2l.6-1.7l.5 4.4l.6-16.9l.6 2.2l.5 11.5l.6-5.7l.5 13.6l.6-18.8l.6 17.6l.5-11l.6-13.2l.5 14.9l.6-5.2l.6 15l.5-9.3l.6 1.6l.5 2l.6-6.3l.6 5.9l.5-2.8l.6-1l.5-5.4l.6 8.4l.6 .1l.5-19.3l.6 8l.5 13.2l.6-1.6l.6-11.3l.5 9.9l.6-8l.5 13.5l.6-16.1l.6 15.5l.5-15.7l.6 11.4l.5-11.3l.6-2.5l.6 .2l.5 .4l.6-9.8l.5 5.1l.6 19.9l.6-13.3l.5 11l.6-8.1l.5 5.2l.6-11.4l.6 18l.5-7.3l.6-11.6l.5 8.5l.6-2l.6-12.1l.5 8.6l.6 2.6l.5 2.6l.6-6l.6 11.3l.5-13.4l.6 4.2l.5-11.3l.6 4.1l.6 5l.5-6.4l.6 7.9l.5 6.8l.6-8.5l.6 9.8l.5-20.8l.6-5.1l.5 6l.6 13l.6-15.8l.5 2l.6-5.4l.5-6.2l.6 22.8l.6-.6l.5 1.8l.6-26.9l.5 21l.6-2.5l.6 8.9l.5-6.1l.6-22.8l.5 10.1l.6 5.1l.6 8.9l.5-7l.6-.4l.5-2.4l.6-10.1l.6 13.3l.5-2.7l.6-11.6l.5 18.8l.6 1l.6-28.2l.5 10.4l.6-1.7l.5 15.7l.6 .9l.6-1l.5-4.9l.6-16.7l.5 24.3l.6-19.2l.6 17.7l.5-16.3l.6 5.5l.5-9.4l.6 15.1l.6-13.6l.5 14.5l.6 8.5l.5-9.9l.6 12.8l.6-22.1l.5 18.4l.6-20.5l.5-5.1l.6 26.4l.6-14.1l.5 8.1l.6 7.3l.5-11.2l.6-8.3l.6 .7l.5 5.2l.6-3.7l.5-.2l.6-3.4l.6-.1l.5-.1l.6 8.2l.5 13.5l.6-2.9l.6 12.7l.5-3.6l.6-15.9l.5 7.3l.6-1l.6-.1l.5-1.8l.6 6.2l.5-12.7l.6-3.5l.6 3l.5 7l.6-10.8l.5 18.7l.6-7.2l.6-2.7l.5 4.6l.6 5.6l.5-8.8l.6 16.7l.6-7.8l.5-9.9l.6-5.3l.5 8.2l.6 5.2l.6-12.6l.5 6.6l.6 7.5l.5-7.3l.6-4.6l.6 18.6l.5-6.6l.6-3.3l.5 11.7l.6-21.4l.6 15.4l.5 3l.6-8.1l.5-.3l.6 14.7l.6-27.8l.5 4.2l.6 10.5l.5-1.8l.6 2.9l.6 18.6l.5-10.7l.6-.8l.5-8.3l.6-5.2l.6 12.7l.5 .6l.6-7.6l.5 9.4l.6-10.5l.6 5.8l.5-3.6l.6 .8l.5-6.2l.6 6.6l.6 8.9l.5-14.9l.6-2.4l.5 12.7l.6-7l.6 15.2l.5-10.9l.6 4.8l.5-.6l.6-4l.6 13.4l.5-13.3l.6 1.2l.5 2.9l.6 .3l.6 11.1l.5-20.8l.6 11l.5-4.5l.6-7.5l.6 11.8l.5-6l.6-.8l.5 11.2l.6-5.6l.6 1.4l.5 3.5l.6-12.2l.5 5.1l.6 1.1l.6 6.1l.5 .8l.6-10.3l.5 2.4l.6 1.6l.6 6.6l.5-8.5l.6-.4l.5 3.7l.6-8.8l.6 5.9l.5 .2l.6-11.6l.5 14.6l.6-3.5l.6 4.8l.5 5.1l.6-11.5l.5 16.2l.6-7l.6-4l.5-7.2l.6 3.9l.5 7.1l.6-10.6l.6 5.2l.5-4.4l.6 3.1l.5 11.5l.6-15.2l.6 1.2l.5 4.5l.6-12.8l.5 11.2l.6 6.8l.6-14.9l.5 9.6l.6-6.4l.5-.9l.6 6.2l.6 4.7l.5-5.2l.6-.3l.5 14l.6-11.5l.6-6.1l.5 10.6l.6-6.4l.5 7.2l.6-2.8l.6-13.2l.5 13.7l.6-3.5l.5-5.1l.6 15.6l.6 1l.5-9l.6-10.4l.5 1.9l.6 12.1l.6-3.8l.5-8.2l.6-1.3l.5 12.8l.6-12.5l.6 6.1l.5 .7l.6-5.9l.5-1.1l.6 14.1l.6-1.6l.5-2.9l.6 1.8l.5-1.5l.6-2.6l.6-10.1l.5 19.2l.6 1.3l.5-18.5l.6 14.5l.6-7.6l.5 3.4l.6-10.2l.5 12.5l.6-10.4l.6 2.7l.5-2.9l.6 10.9l.5 4.1l.6-15.4l.6-1l.5 .1"/>
<path class="cv" stroke="#808000" stroke-width="4.9" d="M139 2534.2l.6-7.7l.5 6.2l.6 1l.5-4.2l.6 1.6l.6-4.5l.5 1.4l.6-.6l.5 6.7l.6-4.6l.6-3.9l.5 2.7l.6 .7l.5 2.5l.6 6.4l.6-1.3l.5-.1l.6-2.5l.5-3.8l.6 6.8l.6-2.9l.5 0l.6 1.3l.5-7.6l.6 4.1l.6-.9l.5-7.7l.6 5.7l.5-7.1l.6 7.4l.6 3.2l.5 1.7l.6 1.8l.5-2.5l.6 4.9l.6-4.1l.5-12.1l.6 6.9l.5-4.5l.6 5.4l.6-5l.5 10.7l.6 2.2l.5-.8l.6-5.2l.6 2.5l.5 1.1l.6-.1l.5-10.5l.6 7.5l.6-2.8l.5 4.1l.6-9.7l.5 12.1l.6-1.1l.6-.1l.5-9.1l.6 7.5l.5-5.8l.6 4.8l.6-1.7l.5-1.5l.6 6.5l.5-11.1l.6 10.7l.6-2l.5 5.6l.6-4.2l.5-9.3l.6 13l.6-5.2l.5-3.8l.6 3.6l.5-4.3l.6 7.9l.6-2.4l.5 1.6l.6 1.2l.5-1.5l.6 3.9l.6-7.1l.5 2.7l.6-.8l.5-11.9l.6 8.4l.6 .6l.5 .8l.6-8.2l.5 5.5l.6 1.7l.6 2.8l.5-2.2l.6 9l.5-6.3l.6-1.2l.6-6.7l.5 5.7l.6 1.4l.5-.2l.6-4.5l.6 4.4l.5 1.9l.6-3.7l.5-3.7l.6 1.3l.6 7.7l.5-12.5l.6 5.5l.5 .7l.6 7.1l.6-7.1l.5-2.4l.6 4.9l.5 .5l.6 4.7l.6-7.6l.5 5.3l.6 2.1l.5-5l.6-4.2l.6 5.4l.5 3.5l.6-5l.5-1.6l.6 4.4l.6-2.3l.5 .5l.6 1.7l.5-2.6l.6 10.1l.6-4.9l.5-2.3l.6-.7l.5-6.4l.6 4.8l.6-1.7l.5 2.4l.6 3.3l.5-.2l.6-3.1l.6 8.6l.5-2.9l.6-9.2l.5 3.8l.6 1.5l.6 2.7l.5-9l.6 .1l.5 5.6l.6 0l.6-1.8l.5 10.7l.6-3.3l.5-4.1l.6 3.5l.6-2.4l.5-.6l.6 4.1l.5-4.7l.6-1.2l.6-.3l.5 1.7l.6 2.6l.5-.1l.6-2.3l.6-2.3l.5 8.9l.6-10l.5 3.8l.6-.2l.6 5.5l.5-4.8l.6 1.7l.5-2.6l.6-2.4l.6 7.8l.5-4.2l.6-7.4l.5 6.2l.6 5l.6-2.7l.5 5.7l.6-14.3l.5 5.6l.6 5.3l.6-2.5l.5 1.5l.6 .8l.5-1.1l.6-5.3l.6-3l.5 12.1l.6-14.1l.5 10.1l.6-4.3l.6 1.2l.5 1l.6-3.6l.5-3l.6 7l.6-1.7l.5-1.6l.6 9.2l.5-5.8l.6 6.6l.6-2.3l.5-5.6l.6 7.2l.5-11.4l.6 2l.6-1l.5-1.2l.6 1.9l.5 3.7l.6 3.8l.6-1.2l.5-5.5l.6 6l.5 1.4l.6-.8l.6-1.1l.5 5.6l.6-11.1l.5 6.4l.6 .4l.6 4.6l.5-1.6l.6-5l.5-3.1l.6 3.7l.6 4.3l.5-6.9l.6 3.6l.5-4.4l.6 5.9l.6-4l.5 5.7l.6-5.7l.5-1.5l.6 3.9l.6 .3l.5 1.6l.6-7.2l.5 4.6l.6-2.4l.6 7.1l.5-6.8l.6 4.8l.5-1.6l.6-3.4l.6 4.2l.5-.9l.6 4.9l.5-1.9l.6 .3l.6-.5l.5-4.7l.6 7.3l.5 .1l.6-6.1l.6-1.3l.5 1.8l.6 .5l.5 6.4l.6-2.6l.6-5.8l.5 3.6l.6-1.1l.5 1.8l.6-.2l.6-4l.5-2.4l.6 9.9l.5 2.2l.6-6.3l.6-2.5l.5 2.3l.6-3.8l.5 8l.6-5.9l.6-3.3l.5 .7l.6 2.6l.5 1.7l.6-5.2l.6 2.7l.5-1.7l.6 8.4l.5-7.1l.6-1.3l.6-.5l.5 11.4l.6-3.7l.5-3.9l.6 1.6l.6-6.8l.5 8.1l.6-5.7l.5 3.2l.6-2.7l.6 6.5l.5 2.6l.6 2.6l.5-3.1l.6 4.8l.6-3.6l.5-1.8l.6-11.7l.5 7l.6 4.4l.6-2.9l.5 .2l.6-.4l.5-1.4l.6-.7l.6-1.3l.5 5.4l.6-4.3l.5 2.6l.6-1.8l.6 5.2l.5 1.6l.6-.5l.5-5.6l.6 .8l.6-3.2l.5 7.2l.6-1.7l.5-.9l.6-5.7l.6 3.3l.5-.6l.6 4.1l.5-3.1l.6 5.9l.6-3.5l.5 .4l.6 1.1l.5-1.1l.6-3.4l.6 0l.5-1.9l.6 6.4l.5-6.2l.6 6.2l.6 1.5l.5-2.9l.6 3.4l.5-3.8l.6 7.8l.6-9.2l.5 1.1l.6 1.8l.5-.6l.6-.6l.6-.4l.5 3.5l.6 1l.5 3l.6-6.5l.6 3.3l.5-4.3l.6 6l.5-1l.6-2.7l.6 .5l.5-6.5l.6 10.6l.5-8.8l.6 7.6l.6-4.5l.5 3.2l.6-3.3l.5 6.6l.6-8.5l.6 2.3l.5-3l.6 10.6l.5-5.3l.6-.6l.6 3.3l.5-2l.6-2.5l.5 3.5l.6 .6l.6-8.5l.5 6.5l.6-2.9l.5 1.8l.6 4.8l.6-5.6l.5-1.1l.6-1.8l.5 6.7l.6 .4l.6-5.9l.5 6.3l.6-8.1l.5 10.9l.6-9.1l.6 5.5l.5-6.8l.6 3.4l.5 1.6l.6 1.3l.6-2.2l.5 2.9l.6-6l.5 1.2l.6 5.9l.6-2.2l.5-3.3l.6 3.6l.5-2.6l.6 .3l.6-.9l.5 7.3l.6-9.3l.5 6.8l.6-1.8l.6 4.3l.5-3.3l.6 .1l.5 3.2l.6-5l.6 5.1l.5-2.4l.6-.9l.5 1.2l.6-3.1l.6-.6l.5 4.5l.6-3.8l.5 2l.6 .3l.6 1.3l.5-1.6l.6-.1l.5 4l.6-6.6l.6 8.5l.5-10.8l.6 9.2l.5-4.5l.6-1.8l.6-1.3l.5 .9l.6 8.2l.5-6.5l.6-.1l.6 .5l.5-4.6l.6 5.7l.5-4.1l.6 4l.6-1.7l.5 1.6l.6 1.5l.5 5.2l.6-12.2l.6 7.5l.5-5.2l.6 2.8l.5 1.3l.6 2l.6-1.7l.5-3l.6 .3l.5-.1l.6-.8l.6-2.6l.5 5.4l.6 2.9l.5-2.9l.6 1l.6-1.5l.5-3l.6 .1l.5 2.7l.6 1l.6 2.9l.5-3.8l.6-1.8l.5-2.2l.6 3.1l.6 3.8l.5-6.6l.6 3.7l.5-3.2l.6 2.9l.6-2l.5-3.4l.6 6.1l.5-.8l.6-4.7l.6 1.8l.5 5.2l.6-1.6l.5 1.1l.6 2.1l.6-.1l.5-3.2l.6 2.2l.5-2.3l.6 1.7l.6-6.2l.5 7.3l.6 1.5l.5-3.8l.6-1.7l.6 2.6l.5-.6l.6-.2l.5 1.2l.6-2.2l.6 4.4l.5-2.8l.6-1.5l.5-6l.6 5l.6 3.8l.5-4.3l.6 3l.5-2.6l.6 .7l.6-.6l.5 2.2l.6 2.5l.5-3.1l.6-2.2l.6 2.7l.5 .6l.6-.2l.5-2.9l.6-2.1l.6 .7l.5 2.3l.6-1.3l.5-4l.6 4.7l.6 3.2l.5-.3l.6-5.4l.5-.2l.6 .8l.6-1l.5 3.8l.6-.8l.5 5.5l.6-2.4l.6-.6l.5-1.9l.6-7.6l.5 11.5l.6-2.1l.6-1.5l.5 2.2l.6-3.3l.5 .5l.6 3.8l.6-3.6l.5-4.4l.6 1.7l.5 .7l.6-.5l.6 1.4l.5 2.1l.6-1.2l.5-2.3l.6 5.2l.6-.2l.5-7.7l.6 6l.5 1l.6-3.3l.6-.8l.5 1.5l.6-2.5l.5 .5l.6-.1l.6 1l.5-3.2l.6 9.2l.5-6.8l.6 3.1l.6-1.1l.5 2.2l.6-7.9l.5 1l.6-2.3l.6 1.7l.5 3.2l.6-.5l.5-1.4l.6 1.8l.6-.9l.5-.6l.6 .5l.5 2.8l.6-1.5l.6-2.9l.5 3.1l.6-9.9l.5 4.5l.6 5.1l.6 0l.5-.2l.6-.7l.5 .9l.6-4.7l.6 4.5l.5-4l.6-.9l.5-3.9l.6-.1l.6 4.8l.5-5l.6 5.7l.5 1.7l.6-7.1l.6 6.8l.5-1.5l.6 1l.5-4.8l.6-1.8l.6 3.5l.5-4.6l.6 5l.5-.2l.6-8.7l.6 3.5l.5-1.9l.6 2.2l.5-.8l.6-2l.6 .1l.5 6.4l.6-4.8l.5-2.5l.6-1.9l.6 .9l.5-5.4l.6-.1l.5 5l.6 6l.6-11.3l.5-5.3l.6 3.9l.5 4.1l.6 2.1l.6-9l.5-1.5l.6 6.4l.5-7.2l.6 6.8l.6-7.8l.5 .4l.6-.1l.5-8.5l.6 2.1l.6-4.6l.5 6.4l.6-2.2l.5-3.9l.6-12.4l.6 2.8l.5-1.2l.6 12l.5-19.7l.6 9.1l.6-5.2l.5-3.7l.6-6.1l.5-1.7l.6-14l.6-1.3l.5-16.3l.6 14.1l.5-12.8l.6-7.5l.6-17.8l.5-1.9l.6-3l.5-10.7l.6-8.9l.6-1.4l.5-11.4l.6-23.2l.5-2.5l.6-27.9l.6 1.6l.5-22.9l.6-17.9l.5-13.8l.6-20.5l.6-33.4l.5-16l.6-22.9l.5-5.2l.6-21.9l.6-18.5l.5-9l.6-47.3l.5 34.1l.6-14l.6-17.6l.5 .3l.6 31.6l.5 24l.6-6.1l.6 34.7l.5 13.3l.6 49.7l.5-1.9l.6 13.1l.6 54.9l.5-21.5l.6 51.2l.5-1.5l.6 4.5l.6 38.6l.5-7.3l.6-1.9l.5 43.6l.6 16.8l.6-16.1l.5 10.1l.6 13.7l.5 .4l.6 9.2l.6 17.5l.5 5.9l.6-7.2l.5 2l.6 16.9l.6-7.7l.5 23.7l.6-17.9l.5 7l.6-.1l.6 7.8l.5 .3l.6 5.7l.5-2.5l.6 5.7l.6 9l.5-.4l.6 5l.5-2.1l.6-2.2l.6 12.9l.5-8.9l.6 5l.5-6.5l.6 1.6l.6 .6l.5 6.6l.6 3.5l.5-14.6l.6 16.8l.6-3.9l.5 1.4l.6-2.5l.5 2.3l.6 1.3l.6 2.1l.5-.2l.6-3.4l.5 6.5l.6-6.3l.6 1.2l.5 2.2l.6 2.7l.5 .7l.6-4l.6-.9l.5 3.4l.6 2.8l.5 1.4l.6-5.3l.6-2l.5 5.6l.6 2.2l.5 2l.6-5.5l.6-2.1l.5 1.5l.6-3.7l.5 8.9l.6-3.7l.6 8.6l.5-6.9l.6-.7l.5-7l.6 6.3l.6-1.9l.5 6.2l.6-1.2l.5-.9l.6-3.5l.6 7.3l.5-7.3l.6 7l.5-4.7l.6 9.4l.6-7.2l.5 3.2l.6 1.5l.5-6.3l.6-3.4l.6 6l.5 3.3l.6-1.3l.5 .9l.6 .2l.6-1.8l.5 8.3l.6-11.8l.5 6.3l.6-6.8l.6 8.8l.5-3l.6 1.8l.5-2.7l.6-5.8l.6 3.1l.5 2.6l.6 1.9l.5-6.4l.6 3.7l.6 5.2l.5-10l.6 8.6l.5-3.8l.6 .7l.6 1.9l.5-1.8l.6-1.6l.5 2.2l.6 1.7l.6-7.5l.5 14.3l.6-9l.5 1.1l.6-2l.6-2l.5 7.2l.6-4.1l.5-1.1l.6 2.2l.6-4l.5 2.5l.6-1.2l.5 2.3l.6-8.2l.6 6.1l.5 .5l.6 6.8l.5-10.1l.6 2l.6-4.8l.5 1.6l.6 8.2l.5-8.2l.6 13.2l.6-9.2l.5-.2l.6 1.7l.5-2.1l.6 .6l.6 5.9l.5-5.2l.6 1.1l.5 2.9l.6-3.3l.6 5.4l.5-4l.6-.3l.5-3.5l.6 3.8l.6-2.9l.5-3.8l.6 .6l.5 5.4l.6 .3l.6-.7l.5 4.6l.6 .2l.5-7.9l.6 7.6l.6-.9l.5 .3l.6 .7l.5-4.9l.6 1.1l.6 1.8l.5-2.1l.6 4.4l.5-7.7l.6 .7l.6 1l.5 6.1l.6-3.9l.5 .1l.6 .9l.6-1.9l.5 1.1l.6 1.9l.5 1.3l.6-5.9l.6 9.5l.5-6.1l.6-1.4l.5-1l.6 3.5l.6-3l.5-2.3l.6 1.3l.5 .4l.6-2.1l.6 1.1l.5 5.8l.6-6.3l.5 1.8l.6 7l.6-3.3l.5-3.2l.6-1.7l.5 9.9l.6-8.2l.6 .4l.5 2.2l.6 4.9l.5-2.2l.6 2.1l.6-5.5l.5 1.3l.6-3.8l.5 3.9l.6-8l.6 4.6l.5 5.1l.6 1.5l.5-3.3l.6-3.1l.6 1l.5 7l.6-4.2l.5-8.6l.6 5.8l.6 5.9l.5-9.8l.6 7.6l.5-.1l.6-1.7l.6-.2l.5-5.7l.6 9.6l.5-5.4l.6 1l.6 1.8l.5 4.9l.6-.4l.5-.7l.6-8.4l.6 5.9l.5 1.1l.6-6.4l.5 3.3l.6-2l.6 2.4l.5 4.5l.6 .4l.5-1.4l.6-1.1l.6-6.7l.5 3.1l.6-.1l.5-2.6l.6 9.9l.6-10.2l.5 4.1l.6 .8l.5 1.2l.6-3.6l.6 9.4l.5-8.2l.6 6.6l.5-1.9l.6-.5l.6 1.7l.5-5.6l.6-2.5l.5 2.3l.6 3.6l.6-3.9l.5 5.2l.6-1.2l.5 1.4l.6-3.2l.6 3.2l.5-.7l.6-.8l.5 6.5l.6-8.1l.6 9.1l.5-8.7l.6 1.6l.5-1.5l.6 1.7l.6-2.6l.5 2.7l.6 1.8l.5-5.1l.6 .3l.6-.4l.5 2.4l.6 2.6l.5-2.3l.6-1l.6 8.1l.5-5l.6-1.8l.5 1.2l.6-4.7l.6 3l.5-3.2l.6 5.6l.5-4.3l.6 6.7l.6 2.7l.5-5.4l.6-1.8l.5-1.1l.6 6.4l.6-7.9l.5-.9l.6 5.1l.5 4.6l.6-4l.6 1.4l.5-7.2l.6 3l.5 3.9l.6-3.9l.6 2.8l.5 1.8l.6 1.3l.5-2.5l.6-6.6l.6 7.8l.5 .2l.6-3.2l.5 4.5l.6-3.7l.6-1.1l.5 2.8l.6 .4l.5-1.6l.6 4.4l.6-2.4l.5 4.2l.6-7.5l.5-.7l.6 8.8l.6-7.7l.5 6.2l.6-6.5l.5-3.3l.6-2l.6 7.4l.5 2.2l.6-2.3l.5-4.5l.6 4.5l.6 1.4l.5-.2l.6 .3l.5 2.7l.6-1l.6-5.7l.5 .7l.6 4.7l.5-7.8l.6 5.4l.6 2l.5 2.3l.6-3.9l.5-4l.6 4.5l.6 4.2l.5-6.1l.6 1.1l.5-2.8l.6-2.6l.6 3.3l.5 6.3l.6-2.8l.5-1.2l.6 .7l.6-5.4l.5 7.3l.6 .1l.5-6.8l.6-1.2l.6 8.8l.5-4.5l.6 6.1l.5-2.7l.6-2.1l.6 1.6l.5-.9l.6-1l.5-4l.6 1.9l.6-2.5l.5 7.3l.6-.2l.5-5l.6 1.7l.6-1.4l.5 2.5l.6-3.3l.5 4.9l.6-3.1l.6-4.2l.5 5.1l.6 1l.5-3.5l.6 1.1l.6-2.3l.5 1.4l.6 1.9l.5-1.2l.6 2.5l.6-1.4l.5-.4l.6 1.4l.5-.6l.6 2.6l.6 1.5l.5-1.9l.6 .5l.5-2.5l.6-2.5l.6 2.3l.5 1l.6-3.4l.5 8.3l.6-2.6l.6-5.1l.5-.4l.6 6.6l.5 .2l.6-.8l.6 1.5l.5-2.1l.6-7l.5 4.2l.6 2.7l.6-1l.5-2.3l.6-1.6l.5 3.1l.6 .9l.6-3.8l.5 4.2l.6-.3l.5-.8l.6-5.3l.6-.8l.5 5.2l.6-2.1l.5 7.4l.6-5.3l.6-3.5l.5 3l.6 6.5l.5-.6l.6-7l.6-2.8l.5 9.4l.6-9.3l.5 6.1l.6-4.3l.6 2.8l.5-3.6l.6-.2l.5 2.8l.6 4.9l.6-9.5l.5 4.9l.6 .3l.5 2l.6-.7l.6 .4l.5 2.4l.6-3.6l.5 .5l.6-8.5l.6 9.7l.5-2.7l.6-1.6l.5 .4l.6 1.8l.6 2.6l.5-2.8l.6-3.6l.5-2.5l.6 3.5l.6 4.1l.5-6.7l.6 .3l.5-.1l.6 1.7l.6 2l.5-3.1l.6-2.4l.5 5.2l.6-1.3l.6-2.6l.5-4.3l.6 5.5l.5 2l.6-1.2l.6-2.8l.5-4l.6-2l.5 3.1l.6-7.5l.6 .9l.5 5.4l.6-5l.5-3.4l.6-2.1l.6 3.6l.5-4.5l.6-1.8l.5-3.3l.6 6.9l.6-5.1l.5 .1l.6-.6l.5-10.3l.6 3.8l.6 11.2l.5-11.7l.6 4.3l.5 2.5l.6 3l.6-5.4l.5 0l.6 3l.5-6.4l.6 7.9l.6-.5l.5-.4l.6 .6l.5-12.3l.6 7.7l.6-2.4l.5-3.6l.6-6.1l.5 4.9l.6-5.1l.6 3.1l.5-15.1l.6-2.5l.5 5.4l.6 0l.6-5.1l.5-5.6l.6 .7l.5-2.4l.6-7.4l.6-2.5l.5 6.2l.6-20.5l.5 .4l.6 11.4l.6-.5l.5-19l.6 17.8l.5-7.3l.6-12.2l.6 3.6l.5 23.4l.6-7.6l.5 1.8l.6-1.5l.6 6.3l.5 4l.6 1.4l.5 9.8l.6-.7l.6 0l.5 2.6l.6 4.2l.5 4.6l.6 3.5l.6 3.3l.5-9.3l.6 4.2l.5 2.8l.6 1.3l.6-6.5l.5 6.2l.6 0l.5 2.2l.6 4.8l.6-7.4l.5 12.4l.6-13.1l.5 5l.6 4.1l.6-2.6l.5 4.6l.6-6l.5-1l.6-.1l.6-3.5l.5 9.8l.6-2.8l.5-3.5l.6 7.8l.6-3.3l.5 4.7l.6-2.4l.5 0l.6 11.6l.6-5.3l.5-3l.6 7.2l.5-15.3l.6 8.5l.6 6.7l.5 1l.6-.5l.5-3.8l.6 4.1l.6 4.5l.5-1.4l.6-1l.5 5.4l.6-1.4l.6 7.6l.5 1.1l.6-5.9l.5 2.1l.6 6.3l.6-5.4l.5 .7l.6 2.7l.5-5.3l.6 1.9l.6 .8l.5-2.2l.6 4.6l.5-5.3l.6-.5l.6-1.6l.5 7.9l.6-3.7l.5 2.2l.6 6.7l.6-9.8l.5 8l.6 .7l.5-2.5l.6-2l.6 2.2l.5-1.5l.6 .1l.5-1.4l.6 1.5l.6 2.6l.5-2.6l.6-2.1l.5 8.7l.6-10.9l.6 2.3l.5 1.4l.6 2.7l.5-2.2l.6 2.5l.6 4.2l.5-5.9l.6-.8l.5 1.7l.6-3.2l.6 8.4l.5-4.9l.6 2.5l.5-1.3l.6 .5l.6 2.4l.5-.5l.6-3.9l.5-1.5l.6 .9l.6 3.5l.5-1.3l.6-2.1l.5 1.5l.6-3l.6 6.7l.5-1.4l.6-3.4l.5 3.7l.6-.4l.6-6.4l.5 7.7l.6 5.6l.5-6.4l.6-1l.6-1.4l.5 4l.6-.2l.5-5.3l.6 5.8l.6-7.7l.5 5.7l.6-4.7l.5 1.1l.6 6.1l.6-1.6l.5 2.7l.6-4l.5-5.6l.6 4.7l.6 1.3l.5 1.5l.6-4.4l.5 .1l.6-.5l.6 4.7l.5-.9l.6-3.6l.5 4.6l.6-1.7l.6 .6l.5 4.7l.6-5.5l.5 2.5l.6-3.9l.6-.1l.5-.9l.6 2.8l.5 2.3l.6 1l.6-4.3l.5 .6l.6 .9l.5-6.2l.6 3.7l.6 4.5l.5-7.2l.6 6.8l.5-.7l.6-3.9l.6-.3l.5 1.4l.6 .7l.5 1.1l.6 .8l.6-1.2l.5 1.6l.6-3.9l.5-.7l.6 5.7l.6 .9l.5 1.3l.6-9.5l.5 3.3l.6 5l.6-5.7l.5 .1l.6 .5l.5 1.7l.6-1.3l.6 2.9l.5-.8l.6 1.1l.5-2.8l.6 2.4l.6-.8l.5-4.1l.6 7.1l.5-5.6l.6 4.3l.6 .7l.5-5.4l.6 0l.5 4.5l.6-3.2l.6-1.5l.5 1.5l.6 1.5l.5 1.3l.6-5.3l.6 3.6l.5-1.7l.6 1.8l.5-4.8l.6 6.3l.6-3.1l.5 1.2l.6 1.5l.5-4.2l.6 1l.6 .6l.5 1.3l.6 1.4l.5-6l.6 5.4l.6-3.4l.5-1l.6 4.9l.5 1.3l.6-1.6l.6-1.3l.5-1.8l.6 2.7l.5-6.1l.6 3l.6-2.6l.5 .6l.6-.2l.5-3.1l.6 8.4l.6-3.1l.5-.1l.6 .9l.5 .1l.6 3.1l.6 .6l.5-3.9l.6-2.1l.5-4.6l.6 6.4l.6 3.1l.5-5.6l.6-2.5l.5 6.9l.6-3.5l.6 2.7l.5 2.2l.6-5.9l.5 6l.6-5.6l.6 3.1l.5 .5l.6-6.7l.5 1.1l.6 3.3l.6-3.6l.5 4.5l.6 2.5l.5-6.3l.6 7.1l.6-6.2l.5 5.9l.6-4.3l.5 .8l.6-3.6l.6 6.4l.5-7.5l.6 4.8l.5-.2l.6-.5l.6-.7l.5-3.3l.6 1.3l.5 6.6l.6-7.8l.6 7.2l.5-.6l.6-1.5l.5-2.9l.6 1l.6 2.7l.5-1.6l.6 1.5l.5-4.6l.6 1.6l.6-.4l.5 1.8l.6-1.8l.5-1.7l.6 3.3l.6 0l.5 3.9l.6 2l.5-10.1l.6 2.1l.6-.1l.5 1.3l.6-.2l.5-.6l.6-4.4l.6 3.1l.5 6.5l.6-1l.5-4.5l.6 3.3l.6-6l.5 4.8l.6 .4l.5 1l.6-2l.6-.6l.5-2.1l.6 7.6l.5-7.7l.6 2.2l.6 2.4l.5-6.5l.6 6.2l.5-.6l.6-5.8l.6 4.7l.5-4.8l.6 6.9l.5-1.3l.6-4.8l.6-1.6l.5 8.5l.6-6.4l.5 .8l.6 2.5l.6-2.4l.5 2l.6 2.7l.5-1.1l.6 3.7l.6-3.4l.5-7.2l.6 6l.5-3.1l.6 7.1l.6-2l.5-4.6l.6 6.4l.5-5.7l.6 5.8l.6-8.1l.5 3.1l.6 3.7l.5 2.6l.6-3l.6-5.1l.5-1.7l.6 1.6l.5 7.4l.6-4l.6-.5l.5 0l.6 .5l.5-2.4l.6 .5l.6 1.1l.5-.5l.6-2.7l.5 1.1l.6 1.3l.6 1.9l.5-1.8l.6-1.4l.5-.5l.6 2.5l.6-3.8l.5-.4l.6 5.5l.5-5.5l.6 .1l.6 5.9l.5-4.2l.6 1.3l.5-1.8l.6-2.1l.6-3.7l.5 9.2l.6-.4l.5 4.6l.6-12.5l.6 2.3l.5 6.2l.6-1.9l.5 3.6l.6-5.6l.6-3.2l.5 2.6l.6 2.3l.5-3.9l.6-.5l.6 1.2l.5-5.8l.6 6.4l.5-1.1l.6 1.4l.6-.4l.5-3.7l.6 4.4l.5-4.8l.6 6.5l.6-2l.5 2.3l.6-1.8l.5-.9l.6-1.1l.6-5.5l.5 7.7l.6-5.7l.5 5.3l.6-7.6l.6-6.6l.5 2.8l.6 3.1l.5-1.8l.6 5.3l.6 .2l.5-7.2l.6-.6l.5 .4l.6-2.5l.6-2l.5-3l.6 8.6l.5-10.7l.6 .9l.6-7l.5 1.4l.6-6.1l.5-5.3l.6-6.9l.6-1.4l.5-4.8l.6 3.9l.5-6.3l.6 .7l.6-6.7l.5 9.3l.6-20l.5-3.8l.6-1.7l.6-3.8l.5-21.8l.6 12.5l.5-11l.6-6.8l.6 6.4l.5 2l.6-6.8l.5-5.3l.6-4.4l.6-1.8l.5 6.4l.6 14.9l.5-3.3l.6 2.6l.6-9.3l.5 7.2l.6 13l.5-10.5l.6 12.7l.6-1.7l.5 4.1l.6 11.3l.5 2.6l.6-2.8l.6 16l.5 .5l.6 8.1l.5 2.4l.6 13.3l.6-4.2l.5-2l.6 .2l.5 14.3l.6 1.8l.6-2.4l.5-3.4l.6 6.4l.5-3.6l.6 4.8l.6 5.4l.5 4l.6-1.9l.5-1.2l.6 3.5l.6 2.6l.5 1.5l.6-2.6l.5 2.1l.6-8.3l.6 10.6l.5-6.5l.6-2.4l.5 7.9l.6-2.3l.6 1.1l.5 1.2l.6 1.7l.5 .6l.6 3l.6-7.8l.5 2.4l.6 4.5l.5-4.1l.6 4.6l.6-5.9l.5 6l.6-1.7l.5 2.2l.6-2.8l.6 8.3l.5-12.3l.6 6.2l.5 .2l.6-2.6l.6 3.4l.5-.3l.6 .8l.5-.5l.6 1.9l.6-2l.5-.1l.6-.7l.5 2.3l.6-4l.6 4l.5-5.1l.6 5.9l.5-2.1l.6 .9l.6-.1l.5 1.7l.6-2.5l.5 2.1l.6-2.5l.6-.3l.5-.9l.6 .4l.5-3l.6 9.6l.6-5.2l.5 5.1l.6-5.9l.5 4.1l.6-8.6l.6 3.3l.5 5.6l.6-3.3l.5-1.3l.6 3.6l.6-2.1l.5 4.5l.6-2.2l.5-5l.6 3l.6-.7l.5-.8l.6 1l.5 .6l.6 3.6l.6 2.6l.5-5.5l.6 2.8l.5-3.4l.6 2.7l.6-.5l.5-5.2l.6 7.9l.5-2l.6-5.3l.6 7.9l.5-1.2l.6-4.2l.5 3.3l.6-2.1l.6 2.5l.5-1.5l.6 1.1l.5-7l.6 8.8l.6-2.3l.5-.5l.6 1.1l.5-5.8l.6 3.4l.6 1.4l.5 1.6l.6-1l.5-.9l.6-1.5l.6 4.2l.5-7.8l.6 1.7l.5 4.5l.6 .4l.6-8.3l.5 7.8l.6-1.2l.5 .4l.6-2.2l.6 2.4l.5-7l.6 3.7l.5 6.6l.6 .3l.6-3.5l.5 1.6l.6-2.4l.5-1.9l.6 .9l.6 1.1l.5-.2l.6 3.3l.5-.5l.6-3.3l.6-2.7l.5 6.9l.6-6l.5 5.8l.6-1.2l.6-3.9l.5-2.3l.6 8.2l.5-10.4l.6 9l.6-.7l.5-4.1l.6 .1l.5 .9l.6 4.5l.6-5.5l.5 4.2l.6-4l.5-.4l.6-.9l.6-.4l.5 7.3l.6 .3l.5-3.7l.6-4.9l.6 7.9l.5-2.2l.6-2.9l.5-1.7l.6 .1l.6 .9l.5-1.9l.6 4l.5 .8l.6-2.9l.6-2.4l.5 1.5l.6 5.5l.5-1.9l.6-5.6l.6 3l.5-2.3l.6 1.7l.5-.4l.6-3.8l.6 4.4l.5-1.8l.6 1.1l.5 3.8l.6-3.3l.6-6l.5 5.1l.6 2.1l.5-2.5l.6-3.6l.6 4.9l.5-1.5l.6 1.5l.5-6.8l.6 3.8l.6-2.1l.5-.4l.6 .5l.5-3.3l.6 2.7l.6-3.5l.5 .5l.6 3.9l.5 1.3l.6-10.5l.6 2.1l.5 4.7l.6-3.7l.5 .4l.6 .3l.6-.5l.5-9.2l.6-2.7l.5 1.8l.6 7.3l.6-9.6l.5-.1l.6-1.6l.5-.7l.6-7.7l.6 1.6l.5-1.2l.6-3.5l.5-1.1l.6-6.3l.6-7.5l.5 1.4l.6 5.5l.5-11.4l.6-6.3l.6 4.5l.5-3.7l.6 .9l.5-11.1l.6 5.6l.6-5.3l.5 4.8l.6-3.4l.5-6.6l.6 12.3l.6-11.8l.5 4.5l.6-2l.5-2.7l.6 7.6l.6-3.2l.5 6l.6 17.9l.5-22.3l.6 13.5l.6-7.7l.5 6.7l.6 4.2l.5 2.2l.6-1.4l.6 8.5l.5 1.7l.6 10.2l.5-8.1l.6-1.5l.6-5.4l.5 21l.6-3.9l.5-.5l.6-13.9l.6 12.7l.5-10.1l.6 15.5l.5-9.6l.6-5.2l.6 1.6l.5-.3l.6 9.2l.5-11.2l.6 10.4l.6-12.9l.5 2.2l.6-5.3l.5-3.9l.6 2.1l.6-6.2l.5 9l.6-19.2l.5-.4l.6 4.4l.6 1l.5-10.2l.6 3.5l.5 2.6l.6 3.7l.6-3.3l.5-4.7l.6-3.4l.5 8.2l.6 2.8l.6-11l.5 16l.6-20l.5 20.2l.6 .6l.6 3.9l.5 2.7l.6-3.3l.5-1.1l.6 11.9l.6 6.9l.5-7.4l.6 4.7l.5 2.1l.6 2.8l.6-1.3l.5 8.1l.6-4.8l.5 8.7l.6-1.5l.6-3.1l.5 11.8l.6-3.4l.5-1.2l.6 7l.6-5.8l.5 5.2l.6 3.9l.5 0l.6 2.4l.6-7l.5 4.4l.6 3.1l.5-1.9l.6 5.4l.6-3.1l.5 2.8l.6-6.1l.5-.2l.6 4l.6 .2l.5 1.8l.6 .8l.5-.8l.6-.5l.6-1l.5-4.5l.6 10l.5-1.6l.6 1.5l.6-6.2l.5 4.4l.6-.6l.5-3.4l.6 2.7l.6-.2l.5-.1l.6 3l.5-1l.6-2.5l.6 8l.5-2.2l.6-6.9l.5-.2l.6-1.5l.6 2.4l.5 2.5l.6-3.6l.5 .9l.6 1.8l.6 1.3l.5 3.1l.6-4.7l.5-.4l.6 5.9l.6-6.1l.5 5.9l.6-.2l.5-4.1l.6-.2l.6 8.1l.5-11.5l.6 7.4l.5-2.2l.6-.4l.6-.8l.5 2.3l.6 .7l.5-1.7l.6-4.2l.6 6.4l.5-2.1l.6-2.4l.5 2.2l.6-4.4l.6 6.5l.5-4.9l.6 6.6l.5-3.3l.6-.7l.6-2l.5 1.5l.6-2.7l.5 2.4l.6 1.7l.6-2.2l.5-1.4l.6 6.4l.5-4.1l.6 .2l.6-3l.5 2.8l.6 1.9l.5-2.7l.6 6.3l.6-6.1l.5 3l.6-.5l.5 2.5l.6-1.9l.6-.4l.5-.2l.6-.4l.5 1.1l.6 .7l.6-3.8l.5 2.6l.6-1l.5 3.9l.6-5.3l.6 3.7l.5-6.4l.6 1.4l.5 2.8l.6-3.8l.6 4.4l.5-.6l.6 2.1l.5-.6l.6-1.3l.6-2.2l.5-2.9l.6 3.5l.5 1.3l.6-1l.6 4.6l.5 .8l.6-4.8l.5 3.1l.6 1.1l.6-1.5l.5-3.7l.6-.7l.5 5.2l.6-5l.6 2.6l.5 2.5l.6-2l.5-1.9l.6 .6l.6 5.2l.5-4.3l.6 4.5l.5-7.7l.6 3.6l.6-.7l.5-.7l.6 .3l.5 3.1l.6-3.1l.6 1.7l.5-5.8l.6 1.5l.5 4.1l.6 .7l.6-3.4l.5 3.5l.6 .8l.5 2.1l.6-4.9l.6 5.1l.5-1.1l.6-5.6l.5 5.3l.6-3.4l.6 3.6l.5-1.1l.6-3.7l.5 5.5l.6-2.3l.6 .5l.5-4.2l.6 3.2l.5-4.6l.6 1.2l.6 2.6l.5 2.4l.6-7.2l.5 3.5l.6 1.9l.6-2.8l.5 .6l.6 1.3l.5 1.9l.6-2.4l.6-.6l.5 .7l.6-1.6l.5 4.5l.6-.6l.6-.1l.5-2.3l.6-1.7l.5 .6l.6 4.7l.6-5.8l.5 1.7l.6 3.8l.5-3l.6-.7l.6-.9l.5 3.1l.6 2.2l.5-3.3l.6 1.2l.6-.2l.5 1.4l.6-.7l.5-7.4l.6 4l.6-1.7l.5 5.2l.6-7.1l.5 3.7l.6-4.2l.6 10.2l.5-7.6l.6 3.7l.5-3.1l.6 3.3l.6-4l.5 .9l.6-.7l.5 1.1l.6 .8l.6 6.6l.5-5.5l.6-1l.5-1.7l.6 3.2l.6 1.1l.5-.3l.6 3l.5-1.1l.6-.2l.6 .5l.5-5.9l.6 2.3l.5 2.2l.6-4.8l.6-1.3l.5 .6l.6 .6l.5 1l.6-4.3l.6 7.1l.5-1.5l.6 2l.5-5.2l.6 1.6l.6-.2l.5 3.6l.6-5.4l.5 6l.6-2.3l.6-.8l.5 4.1l.6-1.3l.5-4.2l.6 4.7l.6-7.2l.5 3.2l.6 .8l.5 .3l.6-6.3l.6 7.4l.5-5.3l.6 3.5l.5 4.6l.6-4l.6-1.2l.5-2.7l.6 .6l.5 2.6l.6-2.3l.6-.2l.5-.7l.6 5.4l.5-8.2l.6 1.9l.6-3l.5 4.1l.6-2.5l.5 .7l.6-4.2l.6 4.4l.5-8l.6 5.6l.5-4.1l.6 4.2l.6-4.1l.5 2.1l.6-2.4l.5-6.7l.6 7.5l.6 2.3l.5-1.9l.6 2.7l.5-17.8l.6 6.6l.6 .8l.5 7.6l.6-20.1l.5 1.4l.6 8.1l.6-1.6l.5-5.3l.6-6.3l.5 1.6l.6 7l.6-10.8l.5-4.3l.6 .8l.5 3.6l.6-8l.6-7.8l.5 5.8l.6 2l.5 1.8l.6-5.6l.6-1.2l.5-2.2l.6 2.2l.5 6.3l.6-11.3l.6-.5l.5 3.4l.6-4.4l.5-.8l.6 14.2l.6-1.3l.5-5.5l.6 3.6l.5 11l.6-2.2l.6-2.8l.5 4.5l.6 3l.5 2.5l.6-11.1l.6 3.8l.5 4.6l.6 5.1l.5-7.2l.6 1.8l.6 2.4l.5 1.1l.6 2.7l.5 4.2l.6-4.4l.6 4.7l.5 1l.6 6.5l.5-2.6l.6 4.5l.6-1.9l.5 2.2l.6 3l.5-6l.6 4.6l.6 1.2l.5-6.6l.6 8.2l.5-3.3l.6 9.6l.6-.3l.5-7.3l.6 3.8l.5-1.6l.6 1.8l.6 1.8l.5 1.5l.6-6.9l.5 1.5l.6 9.7l.6-1.6l.5-3.5l.6 .3l.5 .7l.6 2.9l.6-5.9l.5 4.4l.6-.5l.5-1.7l.6 1l.6-.3l.5 1.2l.6-.2l.5 .7l.6-1.1l.6-1.4l.5 2.7l.6-.9l.5 2.6l.6 2.5l.6-1.6l.5-3.5l.6 5.7l.5-3.7l.6 2.7l.6-5.3l.5 2.1l.6 2.5l.5-.4l.6-5.7l.6 2.7l.5 5.9l.6-3.5l.5 .4l.6 2.5l.6-3.2l.5-2.5l.6 1.3l.5-4.5l.6 7.5l.6-1l.5-.3l.6-1.5l.5-1.9l.6 1.3l.6 1.1l.5 4.9l.6-2.1l.5-3.9l.6 .6l.6 4l.5-2.1l.6 2.5l.5-.4l.6-7.1l.6 4l.5 .3l.6-1.8l.5 3.9l.6-4.1l.6-1l.5 .4l.6 6.8l.5-4l.6 .8l.6 .2l.5 .5l.6 .6l.5-3.6l.6 3.2l.6-2.6l.5 5.9l.6-6.6l.5 3.7l.6-5.4l.6 .3l.5 4.6l.6-.5l.5-5.7l.6 1.2l.6 7.6l.5-4.6l.6-2.7l.5 2.3l.6 1.2l.6-2.3l.5 6.3l.6-5.2l.5 2.5l.6-1.4l.6 1.8l.5-3l.6 4.5l.5-3.6l.6-1.8l.6 6.5l.5-3.2l.6 1.8l.5-4.4l.6 2.6l.6-5.1l.5 1.1l.6 7.5l.5-7.3l.6 2.8l.6-2.6l.5 2l.6 3.4l.5 1.9l.6-7.6l.6 10.3l.5-4l.6-3l.5-4.2l.6 4.1l.6-5l.5 7.3l.6-2.5l.5-1.9l.6-4l.6 5.2l.5-.1l.6 1.1l.5 5.2l.6-6.8l.6 1.7l.5-.5l.6-.3l.5-.9l.6 2.8l.6-2.9l.5-.7l.6 2.6l.5 1.7l.6-1.4l.6 3l.5-4.5l.6 2.8l.5 .4l.6-2.1l.6 2.4l.5-4.9l.6 2.3l.5-1.9l.6-.7l.6 5l.5-3.8l.6-2.1l.5 1.5l.6 2.1l.6-2.1l.5-1.7l.6 1.8l.5-1.7l.6 4.8l.6-4.9l.5 6.8l.6-2.3l.5-3.3l.6 2.5l.6-.6l.5-.4l.6 2.2l.5 1.6l.6-4.8l.6 1.7l.5 .4l.6-2l.5 3.2l.6-3.3l.6 2.2l.5 .6l.6 .2l.5 3l.6-1.6l.6-1.9l.5 6.5l.6-8.5l.5-1.2l.6 1.4l.6-1.9l.5 1.8l.6 .7l.5-5.2l.6 3.4l.6 .5l.5 6l.6-7.6l.5-1.6l.6 5.7l.6-2.3l.5 6l.6-7.9l.5-.2l.6 6.6l.6-3.9l.5-2.2l.6 .1l.5-1.1l.6 4.8l.6-5.2l.5 5.4l.6-.8l.5-.7l.6-5.7l.6 4.7l.5-2.6l.6 1.5l.5 .4l.6-1.2l.6-1l.5-1.6l.6 4l.5-2.2l.6-.3l.6 2.8l.5-2.4l.6-2.9l.5 .7l.6-4.6l.6 4.1l.5-2.7l.6-2.7l.5 2.7l.6-1.7l.6 4.2l.5-3.1l.6-.6l.5-4.2l.6 2.7l.6-2.5l.5 5.5l.6 .2l.5 .5l.6-10.1l.6 7.7l.5-6.8l.6 2.2l.5-5.4l.6 7l.6 4.4l.5 3.2l.6-10.7l.5 .1l.6 7.7l.6-3.2l.5 3.5l.6 .7l.5-6.4l.6 7.9l.6-2.1l.5-4.3l.6 3.8l.5-1.4l.6 4.4l.6-2.3l.5 4.8l.6-1l.5 2.1l.6-1.9l.6-3.8l.5 1.6l.6 1.5l.5 .6l.6-3.2l.6 1.7l.5 .3l.6 6.6l.5-.4l.6-1.2l.6-1.8l.5 2.4l.6 1.2l.5-.4l.6-5.6l.6 2.3l.5-1.8l.6 6.1l.5-6.5l.6-1.2l.6 1.7l.5 1.1l.6 1.2l.5-4.6l.6 3.6l.6-2.6l.5 2.1l.6 3.3l.5-5.6l.6-5.5l.6-1.7l.5 6.6l.6 .8l.5-4.3l.6-.2l.6-1l.5-3.1l.6 5.2l.5-7.1l.6-6.2l.6 6.7l.5 2.5l.6-6.4l.5 4l.6 .3l.6-.7l.5 9.6l.6-8.8l.5-2.9l.6 6.4l.6-1.4l.5 .9l.6 0l.5 .2l.6 8l.6-5.1l.5 2.7l.6-1.2l.5 3.1l.6-2.6l.6 5.9l.5 1.9l.6-9.8l.5 10.5l.6-2.3l.6 3.3l.5-7.3l.6 1.7l.5 .7l.6 1.3l.6-2.3l.5-1.9l.6 3.5l.5 .6l.6 3.7l.6-.8l.5-.1l.6 2.9l.5-9l.6 5l.6-3.8l.5 6.7l.6-2.7l.5 .9l.6-.3l.6-3.8l.5 .3l.6-1.4l.5 4l.6-.5l.6 .1l.5-.1l.6-2l.5 1.7l.6 3.4l.6 2l.5-3.7l.6 2.3l.5-2.2l.6-.1l.6 1l.5-2.7l.6 1.8l.5 3.1l.6-4.2l.6 5.8l.5-1.9l.6-4.9l.5 5.6l.6-2l.6-7.3l.5 7l.6 .2l.5-5l.6 8.2l.6-4l.5-1.5l.6-2.7l.5 4.4l.6 1l.6 1.7l.5-2l.6-1.5l.5 1.1l.6 1l.6-2.9l.5 1.3l.6-.5l.5 1.3l.6 .8l.6-2.1l.5-.9l.6 3.7l.5-3.8l.6 2.2l.6 3.1l.5-6.1l.6 3.8l.5-2.7l.6-1.2l.6 6l.5-.6l.6-5.1l.5 2.4l.6 1.1l.6 .3l.5 2.7l.6-6l.5 5.6l.6-5.4l.6 1.8l.5-.3l.6 3.2l.5 .4l.6-3.8l.6 1.2l.5-1.3l.6-.2l.5 2.5l.6-1.9l.6 .7l.5 .9l.6 2.2l.5 .2l.6-2.1l.6 1.3l.5-2.9l.6-1.8l.5 1.4l.6-2.8l.6 5.7l.5-5.5l.6 .4l.5 5.3l.6-3.9l.6 3.3l.5-1.9l.6 .6l.5-3.7l.6 5.3l.6-5.9l.5 3.5l.6 0l.5-1.5l.6 4.1l.6-5.6l.5 1.7l.6-.2l.5-.7l.6 .5l.6 1.8l.5 1.4l.6-2.7l.5 1.1l.6-1l.6 2.4l.5-6.2l.6 4.3l.5-1.9l.6 3.7l.6-3.8l.5 4.6l.6-1.1l.5-1.6l.6-2.6l.6 4.7l.5-4.5l.6 1.9l.5 .2l.6-4.1l.6 3.3l.5-3.7l.6 4.2l.5-4.3l.6 .6l.6-6.9l.5 9.7l.6 0l.5-3.2l.6 2.8l.6-2.1l.5-.3l.6-2.8l.5-1l.6 4.3l.6-1.7l.5 .1l.6-2l.5 1.4l.6 1.6l.6-1l.5-7.8l.6 9.6l.5-7.7l.6 4.7l.6-1.8l.5-6.2l.6 .2l.5-1.7l.6 .1l.6-1.7l.5 4.8l.6-5.5l.5 1.2l.6 3.6l.6-3.8l.5-4.2l.6 8.9l.5 .9l.6 1.5l.6-13.2l.5 4.1l.6-6.7l.5-2.2l.6 7.5l.6 1.6l.5-9.6l.6 8.4l.5-4.7l.6-6.9l.6 9.4l.5-5.6l.6 3.9l.5 .5l.6-.5l.6 2.3l.5 .3l.6-8.2l.5-6.1l.6 7.2l.6 4.3l.5-7l.6 2.8l.5 2.9l.6-1.7l.6-.4l.5-5.7l.6-1.1l.5 4.4l.6 3.5l.6 5.8l.5-3.8l.6-3.2l.5 5.9l.6-.5l.6 9.3l.5-9.1l.6-3.6l.5 5.3l.6-2.2l.6 1.5l.5-2.6l.6 1.6l.5 2.5l.6 3.9l.6 1.7l.5-4.4l.6-.4l.5-1.3l.6 4.1l.6-2.2l.5-1.6l.6 3.9l.5-.6l.6-1.3l.6 3.7l.5-6.7l.6 9.3l.5-2.4l.6-3.9l.6 6.5l.5 3.1l.6-4.3l.5 3.7l.6 .6l.6 .4l.5-7.7l.6 5.1l.5-2.7l.6 8.2l.6-3.5l.5 3.8l.6 .1l.5 2.1l.6-4.3l.6 3.2l.5-3.3l.6-4.4l.5 0l.6 5.6l.6 3.5l.5-4.2l.6 3.6l.5 .5l.6 0l.6-1.4l.5 7.2l.6-7.2l.5 .8l.6 4.1l.6-.9l.5 .1l.6-3.3l.5 .2l.6 3.3l.6-2.3l.5 .4l.6-3.4l.5 3.5l.6-2.3l.6 6.7l.5-4.4l.6 .3l.5 1.4l.6 2l.6-1.9l.5-.4l.6 .2l.5 1.1l.6 .9l.6-2.8l.5-2.3l.6 1.4l.5-.1l.6-.4l.6 3l.5-1.4l.6 .4l.5 .2l.6-3.4l.6 6.2l.5-2.6l.6-2.6l.5 4.4l.6 1.2l.6-3.9l.5 2.2l.6 1.2l.5-2.1l.6-.2l.6 .1l.5-1.1l.6 1l.5 3.1l.6-3.8l.6-2.1l.5 2.1l.6-.1l.5 2.4l.6 3.1l.6-2l.5-3.4l.6 1l.5 5.4l.6-2.1l.6-4.5l.5 4.6l.6-3.1l.5-.2l.6 1.8l.6-1.6l.5 .5l.6 1.6l.5-.1l.6-.1l.6-1.6l.5-.4l.6 .6l.5 2l.6-.8l.6-4.9l.5 4.2l.6-1.5l.5 .9l.6-.8l.6 1.6l.5-1.6l.6 1.5l.5 1.1l.6-2.3l.6 .4l.5-1.2l.6 1.2l.5-2.8l.6 8.9l.6-6.9l.5 2.2l.6-.9l.5 .9l.6-1.9l.6 3.4l.5-.5l.6 .7l.5-.5l.6 2l.6-6l.5 2l.6 .5l.5 .4l.6-2l.6 5.8l.5-1.2l.6-1.9l.5-2.4l.6 5.2l.6-3.9l.5 .7l.6-1.6l.5 2.8l.6 1.9l.6-7l.5 4.1l.6-2.5l.5-1.6l.6 4.2l.6-1.3l.5-.2l.6 1.1l.5 0l.6-1.7l.6 1.4l.5-.4l.6 2.9l.5 .1l.6-4.1l.6 .1l.5 2.1l.6-2.4l.5 2.7l.6 1.1l.6-2.4l.5 .1l.6-.4l.5 1.6l.6-1l.6 .1l.5-2.9l.6 2.6l.5-.3l.6 .1l.6 1.8l.5-.1l.6 0l.5-.7l.6-1l.6 1.1l.5-1.3l.6 .3l.5 5l.6-6.6l.6 1.6l.5 .4"/>
<path d="M250 83.5l3 -1.2" stroke="#000" stroke-width="1.6" fill="none"/>
<path d="M184 133v5" stroke="#bbb" stroke-width="1" fill="none"/>
<g class="tk">
<text transform="translate(138.5 2686) scale(.959 1)">10</text>
<text transform="translate(267.6 2686) scale(.959 1)">15</text>
<text transform="translate(396.8 2686) scale(.959 1)">20</text>
<text transform="translate(525.9 2686) scale(.959 1)">25</text>
<text transform="translate(655 2686) scale(.959 1)">30</text>
<text transform="translate(784.2 2686) scale(.959 1)">35</text>
<text transform="translate(913.3 2686) scale(.959 1)">40</text>
<text transform="translate(1042.5 2686) scale(.959 1)">45</text>
<text transform="translate(1171.6 2686) scale(.959 1)">50</text>
<text transform="translate(1300.7 2686) scale(.959 1)">55</text>
<text transform="translate(1429.9 2686) scale(.959 1)">60</text>
<text transform="translate(1559 2686) scale(.959 1)">65</text>
<text transform="translate(1688.1 2686) scale(.959 1)">70</text>
<text transform="translate(1817.3 2686) scale(.959 1)">75</text>
<text transform="translate(1946.4 2686) scale(.959 1)">80</text>
</g>
<text class="ttl" x="1041.5" y="2792.2" text-anchor="middle" textLength="424" lengthAdjust="spacingAndGlyphs">2θ Degrees</text>
<text class="ttl" transform="translate(106 1280.8) rotate(-90)" text-anchor="middle" textLength="569" lengthAdjust="spacingAndGlyphs">Intensity (a.u.)</text>
<text class="ttl" x="1610" y="157.6">TiO<tspan class="sub" dy="30.5">2</tspan><tspan dy="-30.5">-10</tspan></text>
<text class="ttl" x="1645" y="800.7">TiO<tspan class="sub" dy="30.8">2</tspan><tspan dy="-30.8">-8</tspan></text>
<text class="ttl" x="1663" y="1440.7">TiO<tspan class="sub" dy="32">2</tspan><tspan dy="-32">-3</tspan></text>
<text class="ttl" x="1656" y="2071.8">TiO<tspan class="sub" dy="31">2</tspan><tspan dy="-31">-4</tspan></text>
<g class="pk">
<text transform="translate(277.8 619.5) rotate(-90) scale(.931 1)">B (001)</text>
<text transform="translate(521.7 191.2) rotate(-90) scale(.931 1)">B (110)</text>
<text transform="translate(567.5 190.2) rotate(-90) scale(.931 1)">A (101)</text>
<text transform="translate(644.9 625) rotate(-90) scale(.931 1)">B (002)</text>
<text transform="translate(681.9 623) rotate(-90) scale(.931 1)">B (111)</text>
<text transform="translate(756.3 634) rotate(-90) scale(.931 1)">B (310)</text>
<text transform="translate(826.3 606.7) rotate(-90) scale(.931 1)">A (103)</text>
<text transform="translate(865.3 555) rotate(-90) scale(.931 1)">A (104)</text>
<text transform="translate(899.3 604) rotate(-90) scale(.931 1)">A (112)</text>
<text transform="translate(934.3 631) rotate(-90) scale(.931 1)">B (401)</text>
<text transform="translate(1034.3 634) rotate(-90) scale(.931 1)">B (003)</text>
<text transform="translate(1139 545) rotate(-90) scale(.931 1)">A (200)</text>
<text transform="translate(1283.3 576.5) rotate(-90) scale(.931 1)">A (105)</text>
<text transform="translate(1328.9 581) rotate(-90) scale(.931 1)">A (211)</text>
<text transform="translate(1510 587.3) rotate(-90) scale(.931 1)">A (204)</text>
<text transform="translate(1680.9 625.7) rotate(-90) scale(.931 1)">A (116)</text>
<text transform="translate(1721.9 634) rotate(-90) scale(.931 1)">A (220)</text>
<text transform="translate(1836.7 622.7) rotate(-90) scale(.931 1)">A (301)</text>
<text transform="translate(570 829.9) rotate(-90) scale(.931 1)">A (101)</text>
<text transform="translate(610.6 1013.5) rotate(-90) scale(.931 1)">R (110)</text>
<text transform="translate(822.3 1139.3) rotate(-90) scale(.931 1)">R (101)</text>
<text transform="translate(878.3 1180) rotate(-90) scale(.931 1)">A (104)</text>
<text transform="translate(914.6 1240) rotate(-90) scale(.931 1)">A (112)</text>
<text transform="translate(960.8 1218) rotate(-90) scale(.931 1)">R (111)</text>
<text transform="translate(1030.3 1246.4) rotate(-90) scale(.931 1)">R (210)</text>
<text transform="translate(1141.1 1143) rotate(-90) scale(.931 1)">A (200)</text>
<text transform="translate(1294.8 1102) rotate(-90) scale(.931 1)">R (211)</text>
<text transform="translate(1364.7 1236) rotate(-90) scale(.931 1)">R (220)</text>
<text transform="translate(1524.7 1198.4) rotate(-90) scale(.931 1)">R (004)</text>
<text transform="translate(1676.9 1217) rotate(-90) scale(.931 1)">R (301)</text>
<text transform="translate(1713.8 1239) rotate(-90) scale(.931 1)">R (112)</text>
<text transform="translate(1833 1239.7) rotate(-90) scale(.931 1)">R (320)</text>
<text transform="translate(277 1801.3) rotate(-90) scale(.931 1)">B (001)</text>
<text transform="translate(524.7 1476.3) rotate(-90) scale(.931 1)">B (110)</text>
<text transform="translate(566.1 1471.4) rotate(-90) scale(.931 1)">A (101)</text>
<text transform="translate(617.2 1776.3) rotate(-90) scale(.931 1)">B (002)</text>
<text transform="translate(657.1 1776.3) rotate(-90) scale(.931 1)">B (-401)</text>
<text transform="translate(688.7 1784.6) rotate(-90) scale(.931 1)">B (111)</text>
<text transform="translate(760.2 1823.4) rotate(-90) scale(.931 1)">B (310)</text>
<text transform="translate(834.9 1835.3) rotate(-90) scale(.931 1)">A (103)</text>
<text transform="translate(867 1789) rotate(-90) scale(.931 1)">A (104)</text>
<text transform="translate(904 1833.4) rotate(-90) scale(.931 1)">A (112)</text>
<text transform="translate(935.8 1868.5) rotate(-90) scale(.931 1)">B (401)</text>
<text transform="translate(1005.6 1835.3) rotate(-90) scale(.931 1)">B (003)</text>
<text transform="translate(1047.3 1828) rotate(-90) scale(.931 1)">B (-601)</text>
<text transform="translate(1136.8 1765) rotate(-90) scale(.931 1)">A (200)</text>
<text transform="translate(1284.3 1815) rotate(-90) scale(.931 1)">A (105)</text>
<text transform="translate(1329.3 1818.7) rotate(-90) scale(.931 1)">A (211)</text>
<text transform="translate(1391.3 1842.7) rotate(-90) scale(.931 1)">B (-421)</text>
<text transform="translate(1514.3 1820.5) rotate(-90) scale(.931 1)">B (-114)</text>
<text transform="translate(1676.3 1863) rotate(-90) scale(.931 1)">B (-423)</text>
<text transform="translate(1840 1865) rotate(-90) scale(.931 1)">B (621)</text>
<text transform="translate(573.9 2115.2) rotate(-90) scale(.931 1)">A (101)</text>
<text transform="translate(831.3 2480) rotate(-90) scale(.931 1)">A (103)</text>
<text transform="translate(872.1 2437.5) rotate(-90) scale(.931 1)">A (104)</text>
<text transform="translate(910.1 2480) rotate(-90) scale(.931 1)">A (112)</text>
<text transform="translate(1141.8 2418) rotate(-90) scale(.931 1)">A (200)</text>
<text transform="translate(1286 2459.6) rotate(-90) scale(.931 1)">A (105)</text>
<text transform="translate(1330.3 2464) rotate(-90) scale(.931 1)">A (211)</text>
<text transform="translate(1513.3 2476) rotate(-90) scale(.931 1)">A (204)</text>
<text transform="translate(1678.7 2518) rotate(-90) scale(.931 1)">A (116)</text>
<text transform="translate(1724 2521.8) rotate(-90) scale(.931 1)">A (220)</text>
<text transform="translate(1838.1 2510.2) rotate(-90) scale(.931 1)">A (301)</text>
</g>
</svg>
</body>
</html>
